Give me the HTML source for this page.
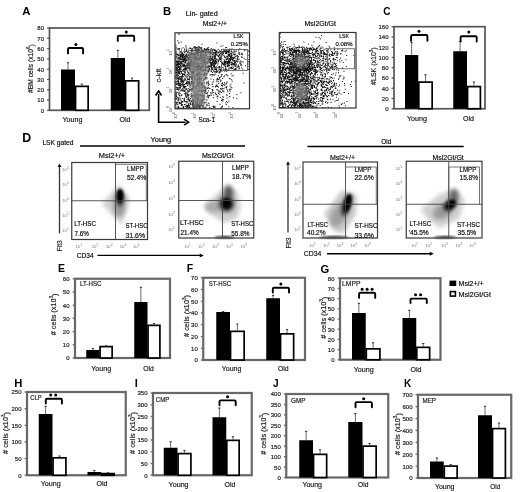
<!DOCTYPE html>
<html><head><meta charset="utf-8"><style>
html,body{margin:0;padding:0;background:#fff;overflow:hidden;}
svg{display:block;filter:grayscale(1);}
text{font-family:"Liberation Sans", sans-serif;}
</style></head><body>
<svg width="520" height="492" viewBox="0 0 520 492" font-family='"Liberation Sans", sans-serif'>
<rect width="520" height="492" fill="#fff"/>
<defs><filter id="bl1" x="-50%" y="-50%" width="200%" height="200%"><feGaussianBlur stdDeviation="1"/></filter><filter id="bl15" x="-50%" y="-50%" width="200%" height="200%"><feGaussianBlur stdDeviation="1.5"/></filter><filter id="bl2" x="-50%" y="-50%" width="200%" height="200%"><feGaussianBlur stdDeviation="2"/></filter><filter id="bl3" x="-50%" y="-50%" width="200%" height="200%"><feGaussianBlur stdDeviation="3"/></filter></defs><rect x="49.5" y="28" width="99.75" height="82.3" fill="none" stroke="#555" stroke-width="1.7"/>
<line x1="47.1" y1="110.3" x2="49.5" y2="110.3" stroke="#555" stroke-width="1.3"/>
<text x="44" y="112.76" font-size="6" text-anchor="end" fill="#1a1a1a" textLength="3.34" lengthAdjust="spacingAndGlyphs" stroke="#1a1a1a" stroke-width="0.18">0</text>
<line x1="47.1" y1="100.01" x2="49.5" y2="100.01" stroke="#555" stroke-width="1.3"/>
<text x="44" y="102.47" font-size="6" text-anchor="end" fill="#1a1a1a" textLength="6.67" lengthAdjust="spacingAndGlyphs" stroke="#1a1a1a" stroke-width="0.18">10</text>
<line x1="47.1" y1="89.72" x2="49.5" y2="89.72" stroke="#555" stroke-width="1.3"/>
<text x="44" y="92.18" font-size="6" text-anchor="end" fill="#1a1a1a" textLength="6.67" lengthAdjust="spacingAndGlyphs" stroke="#1a1a1a" stroke-width="0.18">20</text>
<line x1="47.1" y1="79.44" x2="49.5" y2="79.44" stroke="#555" stroke-width="1.3"/>
<text x="44" y="81.9" font-size="6" text-anchor="end" fill="#1a1a1a" textLength="6.67" lengthAdjust="spacingAndGlyphs" stroke="#1a1a1a" stroke-width="0.18">30</text>
<line x1="47.1" y1="69.15" x2="49.5" y2="69.15" stroke="#555" stroke-width="1.3"/>
<text x="44" y="71.61" font-size="6" text-anchor="end" fill="#1a1a1a" textLength="6.67" lengthAdjust="spacingAndGlyphs" stroke="#1a1a1a" stroke-width="0.18">40</text>
<line x1="47.1" y1="58.86" x2="49.5" y2="58.86" stroke="#555" stroke-width="1.3"/>
<text x="44" y="61.32" font-size="6" text-anchor="end" fill="#1a1a1a" textLength="6.67" lengthAdjust="spacingAndGlyphs" stroke="#1a1a1a" stroke-width="0.18">50</text>
<line x1="47.1" y1="48.57" x2="49.5" y2="48.57" stroke="#555" stroke-width="1.3"/>
<text x="44" y="51.03" font-size="6" text-anchor="end" fill="#1a1a1a" textLength="6.67" lengthAdjust="spacingAndGlyphs" stroke="#1a1a1a" stroke-width="0.18">60</text>
<line x1="47.1" y1="38.29" x2="49.5" y2="38.29" stroke="#555" stroke-width="1.3"/>
<text x="44" y="40.75" font-size="6" text-anchor="end" fill="#1a1a1a" textLength="6.67" lengthAdjust="spacingAndGlyphs" stroke="#1a1a1a" stroke-width="0.18">70</text>
<line x1="47.1" y1="28" x2="49.5" y2="28" stroke="#555" stroke-width="1.3"/>
<text x="44" y="30.46" font-size="6" text-anchor="end" fill="#1a1a1a" textLength="6.67" lengthAdjust="spacingAndGlyphs" stroke="#1a1a1a" stroke-width="0.18">80</text>
<line x1="68" y1="69.5" x2="68" y2="62.5" stroke="#444" stroke-width="0.8"/>
<line x1="66.9" y1="62.8" x2="69.1" y2="62.8" stroke="#333" stroke-width="1"/>
<rect x="61" y="69.5" width="14" height="40.8" fill="#000"/>
<line x1="81.85" y1="85.5" x2="81.85" y2="83.8" stroke="#444" stroke-width="0.8"/>
<line x1="80.75" y1="84.1" x2="82.95" y2="84.1" stroke="#333" stroke-width="1"/>
<rect x="75.55" y="86.35" width="12.6" height="23.95" fill="#fff" stroke="#000" stroke-width="1.7"/>
<line x1="117.88" y1="58" x2="117.88" y2="50" stroke="#444" stroke-width="0.8"/>
<line x1="116.78" y1="50.3" x2="118.97" y2="50.3" stroke="#333" stroke-width="1"/>
<rect x="110.75" y="58" width="14.25" height="52.3" fill="#000"/>
<line x1="132.1" y1="80" x2="132.1" y2="77.8" stroke="#444" stroke-width="0.8"/>
<line x1="131" y1="78.1" x2="133.2" y2="78.1" stroke="#333" stroke-width="1"/>
<rect x="125.55" y="80.85" width="13.1" height="29.45" fill="#fff" stroke="#000" stroke-width="1.7"/>
<path d="M68 53.4V49.2Q68 48 69.2 48H81.9Q83.1 48 83.1 49.2V53.4" fill="none" stroke="#000" stroke-width="1.9" stroke-linecap="round"/>
<circle cx="75.9" cy="44.4" r="1.5" fill="#000"/>
<path d="M117.8 40.9V37Q117.8 35.8 119 35.8H133Q134.2 35.8 134.2 37V40.9" fill="none" stroke="#000" stroke-width="1.9" stroke-linecap="round"/>
<circle cx="126.3" cy="32" r="1.5" fill="#000"/>
<text x="72.5" y="122" font-size="6.9" text-anchor="middle" fill="#1a1a1a" textLength="20" lengthAdjust="spacingAndGlyphs" stroke="#1a1a1a" stroke-width="0.18">Young</text>
<text x="125" y="122" font-size="6.9" text-anchor="middle" fill="#1a1a1a" textLength="11" lengthAdjust="spacingAndGlyphs" stroke="#1a1a1a" stroke-width="0.18">Old</text>
<text transform="translate(30.6 68.6) rotate(-90)" x="0" y="0" font-size="6.7" text-anchor="middle" fill="#1a1a1a" stroke="#1a1a1a" stroke-width="0.18" dominant-baseline="central">#BM cells (x10<tspan font-size="4.6" dy="-2.4">6</tspan><tspan dy="2.4">)</tspan></text>
<rect x="394" y="26.7" width="91" height="82.05" fill="none" stroke="#555" stroke-width="1.7"/>
<line x1="391.6" y1="108.75" x2="394" y2="108.75" stroke="#555" stroke-width="1.3"/>
<text x="388.5" y="111.21" font-size="6" text-anchor="end" fill="#1a1a1a" textLength="3.34" lengthAdjust="spacingAndGlyphs" stroke="#1a1a1a" stroke-width="0.18">0</text>
<line x1="391.6" y1="98.49" x2="394" y2="98.49" stroke="#555" stroke-width="1.3"/>
<text x="388.5" y="100.95" font-size="6" text-anchor="end" fill="#1a1a1a" textLength="6.67" lengthAdjust="spacingAndGlyphs" stroke="#1a1a1a" stroke-width="0.18">20</text>
<line x1="391.6" y1="88.24" x2="394" y2="88.24" stroke="#555" stroke-width="1.3"/>
<text x="388.5" y="90.7" font-size="6" text-anchor="end" fill="#1a1a1a" textLength="6.67" lengthAdjust="spacingAndGlyphs" stroke="#1a1a1a" stroke-width="0.18">40</text>
<line x1="391.6" y1="77.98" x2="394" y2="77.98" stroke="#555" stroke-width="1.3"/>
<text x="388.5" y="80.44" font-size="6" text-anchor="end" fill="#1a1a1a" textLength="6.67" lengthAdjust="spacingAndGlyphs" stroke="#1a1a1a" stroke-width="0.18">60</text>
<line x1="391.6" y1="67.72" x2="394" y2="67.72" stroke="#555" stroke-width="1.3"/>
<text x="388.5" y="70.18" font-size="6" text-anchor="end" fill="#1a1a1a" textLength="6.67" lengthAdjust="spacingAndGlyphs" stroke="#1a1a1a" stroke-width="0.18">80</text>
<line x1="391.6" y1="57.47" x2="394" y2="57.47" stroke="#555" stroke-width="1.3"/>
<text x="388.5" y="59.93" font-size="6" text-anchor="end" fill="#1a1a1a" textLength="10.01" lengthAdjust="spacingAndGlyphs" stroke="#1a1a1a" stroke-width="0.18">100</text>
<line x1="391.6" y1="47.21" x2="394" y2="47.21" stroke="#555" stroke-width="1.3"/>
<text x="388.5" y="49.67" font-size="6" text-anchor="end" fill="#1a1a1a" textLength="10.01" lengthAdjust="spacingAndGlyphs" stroke="#1a1a1a" stroke-width="0.18">120</text>
<line x1="391.6" y1="36.96" x2="394" y2="36.96" stroke="#555" stroke-width="1.3"/>
<text x="388.5" y="39.42" font-size="6" text-anchor="end" fill="#1a1a1a" textLength="10.01" lengthAdjust="spacingAndGlyphs" stroke="#1a1a1a" stroke-width="0.18">140</text>
<line x1="391.6" y1="26.7" x2="394" y2="26.7" stroke="#555" stroke-width="1.3"/>
<text x="388.5" y="29.16" font-size="6" text-anchor="end" fill="#1a1a1a" textLength="10.01" lengthAdjust="spacingAndGlyphs" stroke="#1a1a1a" stroke-width="0.18">160</text>
<line x1="411.62" y1="55" x2="411.62" y2="42" stroke="#444" stroke-width="0.8"/>
<line x1="410.52" y1="42.3" x2="412.73" y2="42.3" stroke="#333" stroke-width="1"/>
<rect x="405" y="55" width="13.25" height="53.75" fill="#000"/>
<line x1="425.48" y1="81.25" x2="425.48" y2="74.5" stroke="#444" stroke-width="0.8"/>
<line x1="424.38" y1="74.8" x2="426.58" y2="74.8" stroke="#333" stroke-width="1"/>
<rect x="418.8" y="82.1" width="13.35" height="26.65" fill="#fff" stroke="#000" stroke-width="1.7"/>
<line x1="460.12" y1="51.25" x2="460.12" y2="41.25" stroke="#444" stroke-width="0.8"/>
<line x1="459.02" y1="41.55" x2="461.23" y2="41.55" stroke="#333" stroke-width="1"/>
<rect x="453.25" y="51.25" width="13.75" height="57.5" fill="#000"/>
<line x1="473.98" y1="85.75" x2="473.98" y2="81.75" stroke="#444" stroke-width="0.8"/>
<line x1="472.88" y1="82.05" x2="475.08" y2="82.05" stroke="#333" stroke-width="1"/>
<rect x="467.55" y="86.6" width="12.85" height="22.15" fill="#fff" stroke="#000" stroke-width="1.7"/>
<path d="M411.1 40.75V36.2Q411.1 35 412.3 35H426.2Q427.4 35 427.4 36.2V40.75" fill="none" stroke="#000" stroke-width="1.9" stroke-linecap="round"/>
<circle cx="419" cy="31.2" r="1.5" fill="#000"/>
<path d="M460.6 41.5V37.4Q460.6 36.2 461.8 36.2H475.5Q476.7 36.2 476.7 37.4V41.5" fill="none" stroke="#000" stroke-width="1.9" stroke-linecap="round"/>
<circle cx="468.8" cy="32" r="1.5" fill="#000"/>
<text x="416.9" y="120.5" font-size="6.9" text-anchor="middle" fill="#1a1a1a" textLength="20" lengthAdjust="spacingAndGlyphs" stroke="#1a1a1a" stroke-width="0.18">Young</text>
<text x="468.4" y="120.5" font-size="6.9" text-anchor="middle" fill="#1a1a1a" textLength="11" lengthAdjust="spacingAndGlyphs" stroke="#1a1a1a" stroke-width="0.18">Old</text>
<text transform="translate(373.2 66.1) rotate(-90)" x="0" y="0" font-size="7" text-anchor="middle" fill="#1a1a1a" stroke="#1a1a1a" stroke-width="0.18" dominant-baseline="central">#LSK (x10<tspan font-size="4.6" dy="-2.4">3</tspan><tspan dy="2.4">)</tspan></text>
<rect x="75" y="278.75" width="95" height="79.25" fill="none" stroke="#686868" stroke-width="2.2"/>
<line x1="72.6" y1="358" x2="75" y2="358" stroke="#686868" stroke-width="1.3"/>
<text x="69.5" y="360.46" font-size="6" text-anchor="end" fill="#1a1a1a" textLength="3.34" lengthAdjust="spacingAndGlyphs" stroke="#1a1a1a" stroke-width="0.18">0</text>
<line x1="72.6" y1="344.79" x2="75" y2="344.79" stroke="#686868" stroke-width="1.3"/>
<text x="69.5" y="347.25" font-size="6" text-anchor="end" fill="#1a1a1a" textLength="6.67" lengthAdjust="spacingAndGlyphs" stroke="#1a1a1a" stroke-width="0.18">10</text>
<line x1="72.6" y1="331.58" x2="75" y2="331.58" stroke="#686868" stroke-width="1.3"/>
<text x="69.5" y="334.04" font-size="6" text-anchor="end" fill="#1a1a1a" textLength="6.67" lengthAdjust="spacingAndGlyphs" stroke="#1a1a1a" stroke-width="0.18">20</text>
<line x1="72.6" y1="318.38" x2="75" y2="318.38" stroke="#686868" stroke-width="1.3"/>
<text x="69.5" y="320.83" font-size="6" text-anchor="end" fill="#1a1a1a" textLength="6.67" lengthAdjust="spacingAndGlyphs" stroke="#1a1a1a" stroke-width="0.18">30</text>
<line x1="72.6" y1="305.17" x2="75" y2="305.17" stroke="#686868" stroke-width="1.3"/>
<text x="69.5" y="307.63" font-size="6" text-anchor="end" fill="#1a1a1a" textLength="6.67" lengthAdjust="spacingAndGlyphs" stroke="#1a1a1a" stroke-width="0.18">40</text>
<line x1="72.6" y1="291.96" x2="75" y2="291.96" stroke="#686868" stroke-width="1.3"/>
<text x="69.5" y="294.42" font-size="6" text-anchor="end" fill="#1a1a1a" textLength="6.67" lengthAdjust="spacingAndGlyphs" stroke="#1a1a1a" stroke-width="0.18">50</text>
<line x1="72.6" y1="278.75" x2="75" y2="278.75" stroke="#686868" stroke-width="1.3"/>
<text x="69.5" y="281.21" font-size="6" text-anchor="end" fill="#1a1a1a" textLength="6.67" lengthAdjust="spacingAndGlyphs" stroke="#1a1a1a" stroke-width="0.18">60</text>
<line x1="92.88" y1="350" x2="92.88" y2="348.25" stroke="#444" stroke-width="0.8"/>
<line x1="91.78" y1="348.55" x2="93.97" y2="348.55" stroke="#333" stroke-width="1"/>
<rect x="86.25" y="350" width="13.25" height="8" fill="#000"/>
<line x1="106.1" y1="345.75" x2="106.1" y2="345.5" stroke="#444" stroke-width="0.8"/>
<line x1="105" y1="345.8" x2="107.2" y2="345.8" stroke="#333" stroke-width="1"/>
<rect x="100.05" y="346.6" width="12.1" height="11.4" fill="#fff" stroke="#000" stroke-width="1.7"/>
<line x1="140.88" y1="302" x2="140.88" y2="287" stroke="#444" stroke-width="0.8"/>
<line x1="139.78" y1="287.3" x2="141.97" y2="287.3" stroke="#333" stroke-width="1"/>
<rect x="134.25" y="302" width="13.25" height="56" fill="#000"/>
<line x1="153.97" y1="324.5" x2="153.97" y2="323.25" stroke="#444" stroke-width="0.8"/>
<line x1="152.88" y1="323.55" x2="155.07" y2="323.55" stroke="#333" stroke-width="1"/>
<rect x="148.05" y="325.35" width="11.85" height="32.65" fill="#fff" stroke="#000" stroke-width="1.7"/>
<text x="101.25" y="371.2" font-size="6.9" text-anchor="middle" fill="#1a1a1a" textLength="20" lengthAdjust="spacingAndGlyphs" stroke="#1a1a1a" stroke-width="0.18">Young</text>
<text x="148.5" y="371.2" font-size="6.9" text-anchor="middle" fill="#1a1a1a" textLength="10.5" lengthAdjust="spacingAndGlyphs" stroke="#1a1a1a" stroke-width="0.18">Old</text>
<text transform="translate(53.75 314.4) rotate(-90)" x="0" y="0" font-size="7.3" text-anchor="middle" fill="#1a1a1a" stroke="#1a1a1a" stroke-width="0.18" dominant-baseline="central"># cells (x10<tspan font-size="4.6" dy="-2.4">3</tspan><tspan dy="2.4">)</tspan></text>
<text x="80" y="285.6" font-size="6.98" fill="#1a1a1a" textLength="21.5" lengthAdjust="spacingAndGlyphs" stroke="#1a1a1a" stroke-width="0.18">LT-HSC</text>
<rect x="203.25" y="277.75" width="101.75" height="82.25" fill="none" stroke="#686868" stroke-width="2.2"/>
<line x1="200.85" y1="360" x2="203.25" y2="360" stroke="#686868" stroke-width="1.3"/>
<text x="197.75" y="362.46" font-size="6" text-anchor="end" fill="#1a1a1a" textLength="3.34" lengthAdjust="spacingAndGlyphs" stroke="#1a1a1a" stroke-width="0.18">0</text>
<line x1="200.85" y1="348.25" x2="203.25" y2="348.25" stroke="#686868" stroke-width="1.3"/>
<text x="197.75" y="350.71" font-size="6" text-anchor="end" fill="#1a1a1a" textLength="6.67" lengthAdjust="spacingAndGlyphs" stroke="#1a1a1a" stroke-width="0.18">10</text>
<line x1="200.85" y1="336.5" x2="203.25" y2="336.5" stroke="#686868" stroke-width="1.3"/>
<text x="197.75" y="338.96" font-size="6" text-anchor="end" fill="#1a1a1a" textLength="6.67" lengthAdjust="spacingAndGlyphs" stroke="#1a1a1a" stroke-width="0.18">20</text>
<line x1="200.85" y1="324.75" x2="203.25" y2="324.75" stroke="#686868" stroke-width="1.3"/>
<text x="197.75" y="327.21" font-size="6" text-anchor="end" fill="#1a1a1a" textLength="6.67" lengthAdjust="spacingAndGlyphs" stroke="#1a1a1a" stroke-width="0.18">30</text>
<line x1="200.85" y1="313" x2="203.25" y2="313" stroke="#686868" stroke-width="1.3"/>
<text x="197.75" y="315.46" font-size="6" text-anchor="end" fill="#1a1a1a" textLength="6.67" lengthAdjust="spacingAndGlyphs" stroke="#1a1a1a" stroke-width="0.18">40</text>
<line x1="200.85" y1="301.25" x2="203.25" y2="301.25" stroke="#686868" stroke-width="1.3"/>
<text x="197.75" y="303.71" font-size="6" text-anchor="end" fill="#1a1a1a" textLength="6.67" lengthAdjust="spacingAndGlyphs" stroke="#1a1a1a" stroke-width="0.18">50</text>
<line x1="200.85" y1="289.5" x2="203.25" y2="289.5" stroke="#686868" stroke-width="1.3"/>
<text x="197.75" y="291.96" font-size="6" text-anchor="end" fill="#1a1a1a" textLength="6.67" lengthAdjust="spacingAndGlyphs" stroke="#1a1a1a" stroke-width="0.18">60</text>
<line x1="200.85" y1="277.75" x2="203.25" y2="277.75" stroke="#686868" stroke-width="1.3"/>
<text x="197.75" y="280.21" font-size="6" text-anchor="end" fill="#1a1a1a" textLength="6.67" lengthAdjust="spacingAndGlyphs" stroke="#1a1a1a" stroke-width="0.18">70</text>
<line x1="223.12" y1="312" x2="223.12" y2="311.3" stroke="#444" stroke-width="0.8"/>
<line x1="222.03" y1="311.6" x2="224.22" y2="311.6" stroke="#333" stroke-width="1"/>
<rect x="216.25" y="312" width="13.75" height="48" fill="#000"/>
<line x1="237.35" y1="330.5" x2="237.35" y2="323.75" stroke="#444" stroke-width="0.8"/>
<line x1="236.25" y1="324.05" x2="238.45" y2="324.05" stroke="#333" stroke-width="1"/>
<rect x="230.55" y="331.35" width="13.6" height="28.65" fill="#fff" stroke="#000" stroke-width="1.7"/>
<line x1="273.12" y1="298.25" x2="273.12" y2="295" stroke="#444" stroke-width="0.8"/>
<line x1="272.02" y1="295.3" x2="274.23" y2="295.3" stroke="#333" stroke-width="1"/>
<rect x="266.25" y="298.25" width="13.75" height="61.75" fill="#000"/>
<line x1="287.1" y1="333" x2="287.1" y2="329.25" stroke="#444" stroke-width="0.8"/>
<line x1="286" y1="329.55" x2="288.2" y2="329.55" stroke="#333" stroke-width="1"/>
<rect x="280.55" y="333.85" width="13.1" height="26.15" fill="#fff" stroke="#000" stroke-width="1.7"/>
<path d="M272.8 292.6V289Q272.8 287.8 274 287.8H287.8Q289 287.8 289 289V292.6" fill="none" stroke="#000" stroke-width="1.9" stroke-linecap="round"/>
<circle cx="280.9" cy="284.1" r="1.5" fill="#000"/>
<text x="231.6" y="371.4" font-size="6.9" text-anchor="middle" fill="#1a1a1a" textLength="19.5" lengthAdjust="spacingAndGlyphs" stroke="#1a1a1a" stroke-width="0.18">Young</text>
<text x="283.3" y="371.4" font-size="6.9" text-anchor="middle" fill="#1a1a1a" textLength="10.6" lengthAdjust="spacingAndGlyphs" stroke="#1a1a1a" stroke-width="0.18">Old</text>
<text transform="translate(186.25 316) rotate(-90)" x="0" y="0" font-size="7.3" text-anchor="middle" fill="#1a1a1a" stroke="#1a1a1a" stroke-width="0.18" dominant-baseline="central"># cells (x10<tspan font-size="4.6" dy="-2.4">3</tspan><tspan dy="2.4">)</tspan></text>
<text x="208.8" y="285.6" font-size="7.26" fill="#1a1a1a" textLength="22.3" lengthAdjust="spacingAndGlyphs" stroke="#1a1a1a" stroke-width="0.18">ST-HSC</text>
<rect x="340" y="278.25" width="100.5" height="81.5" fill="none" stroke="#686868" stroke-width="2.2"/>
<line x1="337.6" y1="359.75" x2="340" y2="359.75" stroke="#686868" stroke-width="1.3"/>
<text x="334.5" y="362.21" font-size="6" text-anchor="end" fill="#1a1a1a" textLength="3.34" lengthAdjust="spacingAndGlyphs" stroke="#1a1a1a" stroke-width="0.18">0</text>
<line x1="337.6" y1="349.56" x2="340" y2="349.56" stroke="#686868" stroke-width="1.3"/>
<text x="334.5" y="352.02" font-size="6" text-anchor="end" fill="#1a1a1a" textLength="6.67" lengthAdjust="spacingAndGlyphs" stroke="#1a1a1a" stroke-width="0.18">10</text>
<line x1="337.6" y1="339.38" x2="340" y2="339.38" stroke="#686868" stroke-width="1.3"/>
<text x="334.5" y="341.83" font-size="6" text-anchor="end" fill="#1a1a1a" textLength="6.67" lengthAdjust="spacingAndGlyphs" stroke="#1a1a1a" stroke-width="0.18">20</text>
<line x1="337.6" y1="329.19" x2="340" y2="329.19" stroke="#686868" stroke-width="1.3"/>
<text x="334.5" y="331.65" font-size="6" text-anchor="end" fill="#1a1a1a" textLength="6.67" lengthAdjust="spacingAndGlyphs" stroke="#1a1a1a" stroke-width="0.18">30</text>
<line x1="337.6" y1="319" x2="340" y2="319" stroke="#686868" stroke-width="1.3"/>
<text x="334.5" y="321.46" font-size="6" text-anchor="end" fill="#1a1a1a" textLength="6.67" lengthAdjust="spacingAndGlyphs" stroke="#1a1a1a" stroke-width="0.18">40</text>
<line x1="337.6" y1="308.81" x2="340" y2="308.81" stroke="#686868" stroke-width="1.3"/>
<text x="334.5" y="311.27" font-size="6" text-anchor="end" fill="#1a1a1a" textLength="6.67" lengthAdjust="spacingAndGlyphs" stroke="#1a1a1a" stroke-width="0.18">50</text>
<line x1="337.6" y1="298.62" x2="340" y2="298.62" stroke="#686868" stroke-width="1.3"/>
<text x="334.5" y="301.08" font-size="6" text-anchor="end" fill="#1a1a1a" textLength="6.67" lengthAdjust="spacingAndGlyphs" stroke="#1a1a1a" stroke-width="0.18">60</text>
<line x1="337.6" y1="288.44" x2="340" y2="288.44" stroke="#686868" stroke-width="1.3"/>
<text x="334.5" y="290.9" font-size="6" text-anchor="end" fill="#1a1a1a" textLength="6.67" lengthAdjust="spacingAndGlyphs" stroke="#1a1a1a" stroke-width="0.18">70</text>
<line x1="337.6" y1="278.25" x2="340" y2="278.25" stroke="#686868" stroke-width="1.3"/>
<text x="334.5" y="280.71" font-size="6" text-anchor="end" fill="#1a1a1a" textLength="6.67" lengthAdjust="spacingAndGlyphs" stroke="#1a1a1a" stroke-width="0.18">80</text>
<line x1="358.88" y1="313" x2="358.88" y2="303" stroke="#444" stroke-width="0.8"/>
<line x1="357.77" y1="303.3" x2="359.98" y2="303.3" stroke="#333" stroke-width="1"/>
<rect x="352" y="313" width="13.75" height="46.75" fill="#000"/>
<line x1="373.1" y1="348" x2="373.1" y2="342.5" stroke="#444" stroke-width="0.8"/>
<line x1="372" y1="342.8" x2="374.2" y2="342.8" stroke="#333" stroke-width="1"/>
<rect x="366.3" y="348.85" width="13.6" height="10.9" fill="#fff" stroke="#000" stroke-width="1.7"/>
<line x1="409.38" y1="318" x2="409.38" y2="310" stroke="#444" stroke-width="0.8"/>
<line x1="408.27" y1="310.3" x2="410.48" y2="310.3" stroke="#333" stroke-width="1"/>
<rect x="402.5" y="318" width="13.75" height="41.75" fill="#000"/>
<line x1="423.23" y1="346.5" x2="423.23" y2="343.25" stroke="#444" stroke-width="0.8"/>
<line x1="422.12" y1="343.55" x2="424.33" y2="343.55" stroke="#333" stroke-width="1"/>
<rect x="416.8" y="347.35" width="12.85" height="12.4" fill="#fff" stroke="#000" stroke-width="1.7"/>
<path d="M359.1 297.9V294Q359.1 292.8 360.3 292.8H374Q375.2 292.8 375.2 294V297.9" fill="none" stroke="#000" stroke-width="1.9" stroke-linecap="round"/>
<circle cx="362.1" cy="289.2" r="1.5" fill="#000"/>
<circle cx="367.1" cy="289.2" r="1.5" fill="#000"/>
<circle cx="372.1" cy="289.2" r="1.5" fill="#000"/>
<path d="M410.5 303V299.8Q410.5 298.6 411.7 298.6H425.6Q426.8 298.6 426.8 299.8V303" fill="none" stroke="#000" stroke-width="1.9" stroke-linecap="round"/>
<circle cx="415.55" cy="294.7" r="1.5" fill="#000"/>
<circle cx="420.55" cy="294.7" r="1.5" fill="#000"/>
<text x="363.75" y="372.2" font-size="6.9" text-anchor="middle" fill="#1a1a1a" textLength="20" lengthAdjust="spacingAndGlyphs" stroke="#1a1a1a" stroke-width="0.18">Young</text>
<text x="415.9" y="372.2" font-size="6.9" text-anchor="middle" fill="#1a1a1a" textLength="11" lengthAdjust="spacingAndGlyphs" stroke="#1a1a1a" stroke-width="0.18">Old</text>
<text transform="translate(323.75 317.7) rotate(-90)" x="0" y="0" font-size="7.3" text-anchor="middle" fill="#1a1a1a" stroke="#1a1a1a" stroke-width="0.18" dominant-baseline="central"># cells (x10<tspan font-size="4.6" dy="-2.4">3</tspan><tspan dy="2.4">)</tspan></text>
<text x="342.1" y="286.2" font-size="7.26" fill="#1a1a1a" textLength="18.5" lengthAdjust="spacingAndGlyphs" stroke="#1a1a1a" stroke-width="0.18">LMPP</text>
<rect x="27" y="392" width="98.75" height="83.25" fill="none" stroke="#686868" stroke-width="2.2"/>
<line x1="24.6" y1="475.25" x2="27" y2="475.25" stroke="#686868" stroke-width="1.3"/>
<text x="21.5" y="477.71" font-size="6" text-anchor="end" fill="#1a1a1a" textLength="3.34" lengthAdjust="spacingAndGlyphs" stroke="#1a1a1a" stroke-width="0.18">0</text>
<line x1="24.6" y1="458.6" x2="27" y2="458.6" stroke="#686868" stroke-width="1.3"/>
<text x="21.5" y="461.06" font-size="6" text-anchor="end" fill="#1a1a1a" textLength="6.67" lengthAdjust="spacingAndGlyphs" stroke="#1a1a1a" stroke-width="0.18">50</text>
<line x1="24.6" y1="441.95" x2="27" y2="441.95" stroke="#686868" stroke-width="1.3"/>
<text x="21.5" y="444.41" font-size="6" text-anchor="end" fill="#1a1a1a" textLength="10.01" lengthAdjust="spacingAndGlyphs" stroke="#1a1a1a" stroke-width="0.18">100</text>
<line x1="24.6" y1="425.3" x2="27" y2="425.3" stroke="#686868" stroke-width="1.3"/>
<text x="21.5" y="427.76" font-size="6" text-anchor="end" fill="#1a1a1a" textLength="10.01" lengthAdjust="spacingAndGlyphs" stroke="#1a1a1a" stroke-width="0.18">150</text>
<line x1="24.6" y1="408.65" x2="27" y2="408.65" stroke="#686868" stroke-width="1.3"/>
<text x="21.5" y="411.11" font-size="6" text-anchor="end" fill="#1a1a1a" textLength="10.01" lengthAdjust="spacingAndGlyphs" stroke="#1a1a1a" stroke-width="0.18">200</text>
<line x1="24.6" y1="392" x2="27" y2="392" stroke="#686868" stroke-width="1.3"/>
<text x="21.5" y="394.46" font-size="6" text-anchor="end" fill="#1a1a1a" textLength="10.01" lengthAdjust="spacingAndGlyphs" stroke="#1a1a1a" stroke-width="0.18">250</text>
<line x1="45.62" y1="414" x2="45.62" y2="406" stroke="#444" stroke-width="0.8"/>
<line x1="44.52" y1="406.3" x2="46.73" y2="406.3" stroke="#333" stroke-width="1"/>
<rect x="38.75" y="414" width="13.75" height="61.25" fill="#000"/>
<line x1="59.48" y1="457" x2="59.48" y2="455.75" stroke="#444" stroke-width="0.8"/>
<line x1="58.38" y1="456.05" x2="60.58" y2="456.05" stroke="#333" stroke-width="1"/>
<rect x="53.05" y="457.85" width="12.85" height="17.4" fill="#fff" stroke="#000" stroke-width="1.7"/>
<line x1="94.38" y1="472" x2="94.38" y2="470.25" stroke="#444" stroke-width="0.8"/>
<line x1="93.28" y1="470.55" x2="95.47" y2="470.55" stroke="#333" stroke-width="1"/>
<rect x="87.5" y="472" width="13.75" height="3.25" fill="#000"/>
<line x1="107.97" y1="472.75" x2="107.97" y2="472.5" stroke="#444" stroke-width="0.8"/>
<line x1="106.88" y1="472.8" x2="109.07" y2="472.8" stroke="#333" stroke-width="1"/>
<rect x="101.8" y="473.6" width="12.35" height="1.65" fill="#fff" stroke="#000" stroke-width="1.7"/>
<path d="M45.8 403.6V400Q45.8 398.8 47 398.8H60.7Q61.9 398.8 61.9 400V403.6" fill="none" stroke="#000" stroke-width="1.9" stroke-linecap="round"/>
<circle cx="50.7" cy="395" r="1.5" fill="#000"/>
<circle cx="55.7" cy="395" r="1.5" fill="#000"/>
<text x="50.75" y="485.7" font-size="6.9" text-anchor="middle" fill="#1a1a1a" textLength="20" lengthAdjust="spacingAndGlyphs" stroke="#1a1a1a" stroke-width="0.18">Young</text>
<text x="101.9" y="485.7" font-size="6.9" text-anchor="middle" fill="#1a1a1a" textLength="11" lengthAdjust="spacingAndGlyphs" stroke="#1a1a1a" stroke-width="0.18">Old</text>
<text transform="translate(5.6 433) rotate(-90)" x="0" y="0" font-size="7.3" text-anchor="middle" fill="#1a1a1a" stroke="#1a1a1a" stroke-width="0.18" dominant-baseline="central"># cells (x10<tspan font-size="4.6" dy="-2.4">3</tspan><tspan dy="2.4">)</tspan></text>
<text x="30.3" y="399.5" font-size="6.98" fill="#1a1a1a" textLength="11.3" lengthAdjust="spacingAndGlyphs" stroke="#1a1a1a" stroke-width="0.18">CLP</text>
<rect x="153" y="393" width="98.75" height="82.25" fill="none" stroke="#686868" stroke-width="2.2"/>
<line x1="150.6" y1="475.25" x2="153" y2="475.25" stroke="#686868" stroke-width="1.3"/>
<text x="147.5" y="477.71" font-size="6" text-anchor="end" fill="#1a1a1a" textLength="3.34" lengthAdjust="spacingAndGlyphs" stroke="#1a1a1a" stroke-width="0.18">0</text>
<line x1="150.6" y1="463.5" x2="153" y2="463.5" stroke="#686868" stroke-width="1.3"/>
<text x="147.5" y="465.96" font-size="6" text-anchor="end" fill="#1a1a1a" textLength="6.67" lengthAdjust="spacingAndGlyphs" stroke="#1a1a1a" stroke-width="0.18">50</text>
<line x1="150.6" y1="451.75" x2="153" y2="451.75" stroke="#686868" stroke-width="1.3"/>
<text x="147.5" y="454.21" font-size="6" text-anchor="end" fill="#1a1a1a" textLength="10.01" lengthAdjust="spacingAndGlyphs" stroke="#1a1a1a" stroke-width="0.18">100</text>
<line x1="150.6" y1="440" x2="153" y2="440" stroke="#686868" stroke-width="1.3"/>
<text x="147.5" y="442.46" font-size="6" text-anchor="end" fill="#1a1a1a" textLength="10.01" lengthAdjust="spacingAndGlyphs" stroke="#1a1a1a" stroke-width="0.18">150</text>
<line x1="150.6" y1="428.25" x2="153" y2="428.25" stroke="#686868" stroke-width="1.3"/>
<text x="147.5" y="430.71" font-size="6" text-anchor="end" fill="#1a1a1a" textLength="10.01" lengthAdjust="spacingAndGlyphs" stroke="#1a1a1a" stroke-width="0.18">200</text>
<line x1="150.6" y1="416.5" x2="153" y2="416.5" stroke="#686868" stroke-width="1.3"/>
<text x="147.5" y="418.96" font-size="6" text-anchor="end" fill="#1a1a1a" textLength="10.01" lengthAdjust="spacingAndGlyphs" stroke="#1a1a1a" stroke-width="0.18">250</text>
<line x1="150.6" y1="404.75" x2="153" y2="404.75" stroke="#686868" stroke-width="1.3"/>
<text x="147.5" y="407.21" font-size="6" text-anchor="end" fill="#1a1a1a" textLength="10.01" lengthAdjust="spacingAndGlyphs" stroke="#1a1a1a" stroke-width="0.18">300</text>
<line x1="150.6" y1="393" x2="153" y2="393" stroke="#686868" stroke-width="1.3"/>
<text x="147.5" y="395.46" font-size="6" text-anchor="end" fill="#1a1a1a" textLength="10.01" lengthAdjust="spacingAndGlyphs" stroke="#1a1a1a" stroke-width="0.18">350</text>
<line x1="170.62" y1="447.75" x2="170.62" y2="441.5" stroke="#444" stroke-width="0.8"/>
<line x1="169.53" y1="441.8" x2="171.72" y2="441.8" stroke="#333" stroke-width="1"/>
<rect x="163.75" y="447.75" width="13.75" height="27.5" fill="#000"/>
<line x1="184.47" y1="452.75" x2="184.47" y2="450.25" stroke="#444" stroke-width="0.8"/>
<line x1="183.38" y1="450.55" x2="185.57" y2="450.55" stroke="#333" stroke-width="1"/>
<rect x="178.05" y="453.6" width="12.85" height="21.65" fill="#fff" stroke="#000" stroke-width="1.7"/>
<line x1="219.38" y1="417.25" x2="219.38" y2="407.75" stroke="#444" stroke-width="0.8"/>
<line x1="218.28" y1="408.05" x2="220.47" y2="408.05" stroke="#333" stroke-width="1"/>
<rect x="212.5" y="417.25" width="13.75" height="58" fill="#000"/>
<line x1="232.97" y1="439.5" x2="232.97" y2="436.5" stroke="#444" stroke-width="0.8"/>
<line x1="231.88" y1="436.8" x2="234.07" y2="436.8" stroke="#333" stroke-width="1"/>
<rect x="226.8" y="440.35" width="12.35" height="34.9" fill="#fff" stroke="#000" stroke-width="1.7"/>
<path d="M219.5 405.3V401.6Q219.5 400.4 220.7 400.4H234.5Q235.7 400.4 235.7 401.6V405.3" fill="none" stroke="#000" stroke-width="1.9" stroke-linecap="round"/>
<circle cx="227.6" cy="396.8" r="1.5" fill="#000"/>
<text x="178.6" y="487.1" font-size="6.9" text-anchor="middle" fill="#1a1a1a" textLength="20" lengthAdjust="spacingAndGlyphs" stroke="#1a1a1a" stroke-width="0.18">Young</text>
<text x="230" y="487.1" font-size="6.9" text-anchor="middle" fill="#1a1a1a" textLength="10.8" lengthAdjust="spacingAndGlyphs" stroke="#1a1a1a" stroke-width="0.18">Old</text>
<text transform="translate(132.6 433) rotate(-90)" x="0" y="0" font-size="7.3" text-anchor="middle" fill="#1a1a1a" stroke="#1a1a1a" stroke-width="0.18" dominant-baseline="central"># cells (x10<tspan font-size="4.6" dy="-2.4">3</tspan><tspan dy="2.4">)</tspan></text>
<text x="155.75" y="401.5" font-size="7.26" fill="#1a1a1a" textLength="13.55" lengthAdjust="spacingAndGlyphs" stroke="#1a1a1a" stroke-width="0.18">CMP</text>
<rect x="286.25" y="394" width="102" height="83.5" fill="none" stroke="#686868" stroke-width="2.2"/>
<line x1="283.85" y1="477.5" x2="286.25" y2="477.5" stroke="#686868" stroke-width="1.3"/>
<text x="280.75" y="479.96" font-size="6" text-anchor="end" fill="#1a1a1a" textLength="3.34" lengthAdjust="spacingAndGlyphs" stroke="#1a1a1a" stroke-width="0.18">0</text>
<line x1="283.85" y1="467.06" x2="286.25" y2="467.06" stroke="#686868" stroke-width="1.3"/>
<text x="280.75" y="469.52" font-size="6" text-anchor="end" fill="#1a1a1a" textLength="6.67" lengthAdjust="spacingAndGlyphs" stroke="#1a1a1a" stroke-width="0.18">50</text>
<line x1="283.85" y1="456.62" x2="286.25" y2="456.62" stroke="#686868" stroke-width="1.3"/>
<text x="280.75" y="459.08" font-size="6" text-anchor="end" fill="#1a1a1a" textLength="10.01" lengthAdjust="spacingAndGlyphs" stroke="#1a1a1a" stroke-width="0.18">100</text>
<line x1="283.85" y1="446.19" x2="286.25" y2="446.19" stroke="#686868" stroke-width="1.3"/>
<text x="280.75" y="448.65" font-size="6" text-anchor="end" fill="#1a1a1a" textLength="10.01" lengthAdjust="spacingAndGlyphs" stroke="#1a1a1a" stroke-width="0.18">150</text>
<line x1="283.85" y1="435.75" x2="286.25" y2="435.75" stroke="#686868" stroke-width="1.3"/>
<text x="280.75" y="438.21" font-size="6" text-anchor="end" fill="#1a1a1a" textLength="10.01" lengthAdjust="spacingAndGlyphs" stroke="#1a1a1a" stroke-width="0.18">200</text>
<line x1="283.85" y1="425.31" x2="286.25" y2="425.31" stroke="#686868" stroke-width="1.3"/>
<text x="280.75" y="427.77" font-size="6" text-anchor="end" fill="#1a1a1a" textLength="10.01" lengthAdjust="spacingAndGlyphs" stroke="#1a1a1a" stroke-width="0.18">250</text>
<line x1="283.85" y1="414.88" x2="286.25" y2="414.88" stroke="#686868" stroke-width="1.3"/>
<text x="280.75" y="417.33" font-size="6" text-anchor="end" fill="#1a1a1a" textLength="10.01" lengthAdjust="spacingAndGlyphs" stroke="#1a1a1a" stroke-width="0.18">300</text>
<line x1="283.85" y1="404.44" x2="286.25" y2="404.44" stroke="#686868" stroke-width="1.3"/>
<text x="280.75" y="406.9" font-size="6" text-anchor="end" fill="#1a1a1a" textLength="10.01" lengthAdjust="spacingAndGlyphs" stroke="#1a1a1a" stroke-width="0.18">350</text>
<line x1="283.85" y1="394" x2="286.25" y2="394" stroke="#686868" stroke-width="1.3"/>
<text x="280.75" y="396.46" font-size="6" text-anchor="end" fill="#1a1a1a" textLength="10.01" lengthAdjust="spacingAndGlyphs" stroke="#1a1a1a" stroke-width="0.18">400</text>
<line x1="306.12" y1="440.25" x2="306.12" y2="431" stroke="#444" stroke-width="0.8"/>
<line x1="305.02" y1="431.3" x2="307.23" y2="431.3" stroke="#333" stroke-width="1"/>
<rect x="299.25" y="440.25" width="13.75" height="37.25" fill="#000"/>
<line x1="320.1" y1="453.5" x2="320.1" y2="449.5" stroke="#444" stroke-width="0.8"/>
<line x1="319" y1="449.8" x2="321.2" y2="449.8" stroke="#333" stroke-width="1"/>
<rect x="313.55" y="454.35" width="13.1" height="23.15" fill="#fff" stroke="#000" stroke-width="1.7"/>
<line x1="355.38" y1="422" x2="355.38" y2="413.25" stroke="#444" stroke-width="0.8"/>
<line x1="354.27" y1="413.55" x2="356.48" y2="413.55" stroke="#333" stroke-width="1"/>
<rect x="348.25" y="422" width="14.25" height="55.5" fill="#000"/>
<line x1="369.6" y1="445.25" x2="369.6" y2="443.25" stroke="#444" stroke-width="0.8"/>
<line x1="368.5" y1="443.55" x2="370.7" y2="443.55" stroke="#333" stroke-width="1"/>
<rect x="363.05" y="446.1" width="13.1" height="31.4" fill="#fff" stroke="#000" stroke-width="1.7"/>
<path d="M355.5 407.3V403.3Q355.5 402.1 356.7 402.1H370.7Q371.9 402.1 371.9 403.3V407.3" fill="none" stroke="#000" stroke-width="1.9" stroke-linecap="round"/>
<circle cx="363.7" cy="398.7" r="1.5" fill="#000"/>
<text x="312.2" y="487.1" font-size="6.9" text-anchor="middle" fill="#1a1a1a" textLength="19.5" lengthAdjust="spacingAndGlyphs" stroke="#1a1a1a" stroke-width="0.18">Young</text>
<text x="363.3" y="487.1" font-size="6.9" text-anchor="middle" fill="#1a1a1a" textLength="10.4" lengthAdjust="spacingAndGlyphs" stroke="#1a1a1a" stroke-width="0.18">Old</text>
<text transform="translate(263.75 433.7) rotate(-90)" x="0" y="0" font-size="7.3" text-anchor="middle" fill="#1a1a1a" stroke="#1a1a1a" stroke-width="0.18" dominant-baseline="central"># cells (x10<tspan font-size="4.6" dy="-2.4">3</tspan><tspan dy="2.4">)</tspan></text>
<text x="291.1" y="402.5" font-size="7.26" fill="#1a1a1a" textLength="14.4" lengthAdjust="spacingAndGlyphs" stroke="#1a1a1a" stroke-width="0.18">GMP</text>
<rect x="418" y="394.75" width="93.25" height="83.25" fill="none" stroke="#686868" stroke-width="2.2"/>
<line x1="415.6" y1="478" x2="418" y2="478" stroke="#686868" stroke-width="1.3"/>
<text x="412.5" y="480.46" font-size="6" text-anchor="end" fill="#1a1a1a" textLength="3.34" lengthAdjust="spacingAndGlyphs" stroke="#1a1a1a" stroke-width="0.18">0</text>
<line x1="415.6" y1="466.11" x2="418" y2="466.11" stroke="#686868" stroke-width="1.3"/>
<text x="412.5" y="468.57" font-size="6" text-anchor="end" fill="#1a1a1a" textLength="10.01" lengthAdjust="spacingAndGlyphs" stroke="#1a1a1a" stroke-width="0.18">100</text>
<line x1="415.6" y1="454.21" x2="418" y2="454.21" stroke="#686868" stroke-width="1.3"/>
<text x="412.5" y="456.67" font-size="6" text-anchor="end" fill="#1a1a1a" textLength="10.01" lengthAdjust="spacingAndGlyphs" stroke="#1a1a1a" stroke-width="0.18">200</text>
<line x1="415.6" y1="442.32" x2="418" y2="442.32" stroke="#686868" stroke-width="1.3"/>
<text x="412.5" y="444.78" font-size="6" text-anchor="end" fill="#1a1a1a" textLength="10.01" lengthAdjust="spacingAndGlyphs" stroke="#1a1a1a" stroke-width="0.18">300</text>
<line x1="415.6" y1="430.43" x2="418" y2="430.43" stroke="#686868" stroke-width="1.3"/>
<text x="412.5" y="432.89" font-size="6" text-anchor="end" fill="#1a1a1a" textLength="10.01" lengthAdjust="spacingAndGlyphs" stroke="#1a1a1a" stroke-width="0.18">400</text>
<line x1="415.6" y1="418.54" x2="418" y2="418.54" stroke="#686868" stroke-width="1.3"/>
<text x="412.5" y="421" font-size="6" text-anchor="end" fill="#1a1a1a" textLength="10.01" lengthAdjust="spacingAndGlyphs" stroke="#1a1a1a" stroke-width="0.18">500</text>
<line x1="415.6" y1="406.64" x2="418" y2="406.64" stroke="#686868" stroke-width="1.3"/>
<text x="412.5" y="409.1" font-size="6" text-anchor="end" fill="#1a1a1a" textLength="10.01" lengthAdjust="spacingAndGlyphs" stroke="#1a1a1a" stroke-width="0.18">600</text>
<line x1="415.6" y1="394.75" x2="418" y2="394.75" stroke="#686868" stroke-width="1.3"/>
<text x="412.5" y="397.21" font-size="6" text-anchor="end" fill="#1a1a1a" textLength="10.01" lengthAdjust="spacingAndGlyphs" stroke="#1a1a1a" stroke-width="0.18">700</text>
<line x1="436.88" y1="461.5" x2="436.88" y2="457.75" stroke="#444" stroke-width="0.8"/>
<line x1="435.77" y1="458.05" x2="437.98" y2="458.05" stroke="#333" stroke-width="1"/>
<rect x="430" y="461.5" width="13.75" height="16.5" fill="#000"/>
<line x1="450.73" y1="465.25" x2="450.73" y2="464.25" stroke="#444" stroke-width="0.8"/>
<line x1="449.62" y1="464.55" x2="451.83" y2="464.55" stroke="#333" stroke-width="1"/>
<rect x="444.3" y="466.1" width="12.85" height="11.9" fill="#fff" stroke="#000" stroke-width="1.7"/>
<line x1="485" y1="415.25" x2="485" y2="406" stroke="#444" stroke-width="0.8"/>
<line x1="483.9" y1="406.3" x2="486.1" y2="406.3" stroke="#333" stroke-width="1"/>
<rect x="478" y="415.25" width="14" height="62.75" fill="#000"/>
<line x1="498.98" y1="427.75" x2="498.98" y2="422.75" stroke="#444" stroke-width="0.8"/>
<line x1="497.88" y1="423.05" x2="500.08" y2="423.05" stroke="#333" stroke-width="1"/>
<rect x="492.55" y="428.6" width="12.85" height="49.4" fill="#fff" stroke="#000" stroke-width="1.7"/>
<text x="444.7" y="488.6" font-size="6.9" text-anchor="middle" fill="#1a1a1a" textLength="19.6" lengthAdjust="spacingAndGlyphs" stroke="#1a1a1a" stroke-width="0.18">Young</text>
<text x="495.3" y="488.6" font-size="6.9" text-anchor="middle" fill="#1a1a1a" textLength="10" lengthAdjust="spacingAndGlyphs" stroke="#1a1a1a" stroke-width="0.18">Old</text>
<text transform="translate(397.7 434.1) rotate(-90)" x="0" y="0" font-size="7.3" text-anchor="middle" fill="#1a1a1a" stroke="#1a1a1a" stroke-width="0.18" dominant-baseline="central"># cells (x10<tspan font-size="4.6" dy="-2.4">3</tspan><tspan dy="2.4">)</tspan></text>
<text x="422.5" y="402.8" font-size="6.84" fill="#1a1a1a" textLength="13.5" lengthAdjust="spacingAndGlyphs" stroke="#1a1a1a" stroke-width="0.18">MEP</text>
<text x="22.32" y="14.8" font-size="11.36" font-weight="bold" fill="#000">A</text>
<text x="163.08" y="14.7" font-size="11.21" font-weight="bold" fill="#000">B</text>
<text x="383.14" y="15.2" font-size="10.09" font-weight="bold" fill="#000">C</text>
<text x="22.26" y="142.2" font-size="12.33" font-weight="bold" fill="#000">D</text>
<text x="58.12" y="272.2" font-size="10.46" font-weight="bold" fill="#000">E</text>
<text x="186.87" y="272.2" font-size="10.46" font-weight="bold" fill="#000">F</text>
<text x="320.58" y="272.7" font-size="11.21" font-weight="bold" fill="#000">G</text>
<text x="14.33" y="387.2" font-size="11.21" font-weight="bold" fill="#000">H</text>
<text x="134.83" y="387.2" font-size="11.21" font-weight="bold" fill="#000">I</text>
<text x="272.89" y="387.2" font-size="10.09" font-weight="bold" fill="#000">J</text>
<text x="403.89" y="387.2" font-size="10.09" font-weight="bold" fill="#000">K</text>
<rect x="449.5" y="280.6" width="6.75" height="5.4" fill="#000"/>
<rect x="450.35" y="291.6" width="5.05" height="4.5" fill="#fff" stroke="#000" stroke-width="1.6"/>
<text x="458.5" y="286" font-size="6.98" textLength="25.1" lengthAdjust="spacingAndGlyphs" stroke="#222" stroke-width="0.18">Msi2+/+</text>
<text x="458.5" y="296.5" font-size="7.26" textLength="32.4" lengthAdjust="spacingAndGlyphs" stroke="#222" stroke-width="0.18">Msi2Gt/Gt</text>
<path d="M206.2 56.0h1v1h-1zM213.3 64.6h1v1h-1zM206.0 69.5h1v1h-1zM181.7 52.3h1v1h-1zM214.6 59.9h1v1h-1zM207.7 58.3h1v1h-1zM193.1 64.8h1v1h-1zM209.7 62.0h1v1h-1zM206.5 54.4h1v1h-1zM205.5 66.3h1v1h-1zM201.5 62.2h1v1h-1zM209.2 53.7h1v1h-1zM190.1 64.2h1v1h-1zM198.6 56.5h1v1h-1zM193.9 71.1h1v1h-1zM210.0 63.5h1v1h-1zM201.7 54.8h1v1h-1zM196.7 66.1h1v1h-1zM189.4 58.5h1v1h-1zM197.2 61.9h1v1h-1zM201.2 59.9h1v1h-1zM197.0 62.3h1v1h-1zM220.4 45.8h1v1h-1zM216.1 60.8h1v1h-1zM175.4 69.1h1v1h-1zM175.4 53.2h1v1h-1zM198.5 46.0h1v1h-1zM194.8 58.2h1v1h-1zM204.3 54.6h1v1h-1zM204.3 54.9h1v1h-1zM232.6 60.7h1v1h-1zM184.5 59.9h1v1h-1zM195.4 62.5h1v1h-1zM231.5 48.3h1v1h-1zM210.7 59.8h1v1h-1zM211.0 65.2h1v1h-1zM193.4 47.3h1v1h-1zM176.5 71.5h1v1h-1zM203.6 63.7h1v1h-1zM202.7 59.6h1v1h-1zM182.8 58.9h1v1h-1zM190.9 50.0h1v1h-1zM200.0 51.0h1v1h-1zM187.0 65.5h1v1h-1zM199.6 74.2h1v1h-1zM202.5 67.8h1v1h-1zM201.6 43.8h1v1h-1zM193.5 46.6h1v1h-1zM209.9 60.3h1v1h-1zM214.4 61.2h1v1h-1zM205.9 58.3h1v1h-1zM188.9 67.7h1v1h-1zM212.0 67.8h1v1h-1zM193.6 70.5h1v1h-1zM214.2 55.4h1v1h-1zM185.1 60.4h1v1h-1zM214.7 73.4h1v1h-1zM200.8 65.3h1v1h-1zM182.5 47.2h1v1h-1zM196.4 67.1h1v1h-1zM201.9 60.8h1v1h-1zM205.1 52.3h1v1h-1zM186.4 55.1h1v1h-1zM184.6 60.5h1v1h-1zM204.0 61.1h1v1h-1zM194.1 59.2h1v1h-1zM204.6 66.6h1v1h-1zM212.4 62.0h1v1h-1zM176.5 70.1h1v1h-1zM204.9 68.3h1v1h-1zM219.3 49.7h1v1h-1zM196.6 48.4h1v1h-1zM189.0 66.4h1v1h-1zM212.3 63.0h1v1h-1zM204.9 70.0h1v1h-1zM214.4 55.8h1v1h-1zM195.9 52.3h1v1h-1zM179.0 49.6h1v1h-1zM199.4 65.8h1v1h-1zM194.4 48.6h1v1h-1zM212.6 62.8h1v1h-1zM204.0 60.0h1v1h-1zM176.8 64.2h1v1h-1zM183.3 69.3h1v1h-1zM214.2 54.8h1v1h-1zM211.2 62.5h1v1h-1zM191.5 68.1h1v1h-1zM201.1 53.8h1v1h-1zM207.7 49.3h1v1h-1zM208.1 50.6h1v1h-1zM214.1 68.7h1v1h-1zM204.9 68.2h1v1h-1zM199.7 47.3h1v1h-1zM197.2 48.9h1v1h-1zM216.8 58.8h1v1h-1zM175.4 55.3h1v1h-1zM199.0 55.7h1v1h-1zM201.6 50.8h1v1h-1zM179.8 54.4h1v1h-1zM206.0 58.3h1v1h-1zM191.4 72.3h1v1h-1zM213.9 61.8h1v1h-1zM199.2 70.9h1v1h-1zM211.0 67.6h1v1h-1zM219.2 70.8h1v1h-1zM206.8 62.6h1v1h-1zM188.0 62.5h1v1h-1zM178.5 60.7h1v1h-1zM227.2 50.9h1v1h-1zM199.4 71.7h1v1h-1zM190.8 50.0h1v1h-1zM203.2 63.2h1v1h-1zM198.2 65.0h1v1h-1zM213.8 66.2h1v1h-1zM201.6 62.8h1v1h-1zM201.3 64.3h1v1h-1zM190.4 68.3h1v1h-1zM208.1 61.7h1v1h-1zM185.7 64.8h1v1h-1zM211.0 65.4h1v1h-1zM223.8 49.4h1v1h-1zM178.4 56.6h1v1h-1zM175.4 45.4h1v1h-1zM210.3 52.3h1v1h-1zM239.0 48.5h1v1h-1zM186.2 67.9h1v1h-1zM182.4 56.6h1v1h-1zM209.9 60.5h1v1h-1zM188.5 64.3h1v1h-1zM193.5 63.8h1v1h-1zM195.9 69.0h1v1h-1zM209.0 58.2h1v1h-1zM195.0 63.8h1v1h-1zM205.2 67.1h1v1h-1zM198.4 49.2h1v1h-1zM188.5 58.1h1v1h-1zM196.3 50.5h1v1h-1zM186.9 64.6h1v1h-1zM201.2 53.6h1v1h-1zM184.3 68.2h1v1h-1zM184.8 55.9h1v1h-1zM222.8 54.7h1v1h-1zM200.3 67.3h1v1h-1zM200.3 58.0h1v1h-1zM208.7 50.9h1v1h-1zM194.8 56.0h1v1h-1zM197.7 53.9h1v1h-1zM207.4 49.7h1v1h-1zM205.3 50.8h1v1h-1zM183.8 55.9h1v1h-1zM213.5 56.0h1v1h-1zM192.3 59.4h1v1h-1zM185.3 55.3h1v1h-1zM187.7 55.0h1v1h-1zM195.3 60.8h1v1h-1zM225.3 53.1h1v1h-1zM183.6 64.3h1v1h-1zM203.5 64.0h1v1h-1zM175.4 48.1h1v1h-1zM201.1 50.9h1v1h-1zM214.5 50.0h1v1h-1zM197.5 55.1h1v1h-1zM191.7 55.2h1v1h-1zM204.5 62.0h1v1h-1zM211.5 64.6h1v1h-1zM211.0 68.7h1v1h-1zM230.5 62.4h1v1h-1zM204.2 60.3h1v1h-1zM192.2 69.4h1v1h-1zM199.2 65.8h1v1h-1zM200.0 57.2h1v1h-1zM202.7 55.7h1v1h-1zM200.6 48.2h1v1h-1zM203.7 68.6h1v1h-1zM176.2 63.5h1v1h-1zM213.4 59.5h1v1h-1zM192.5 64.7h1v1h-1zM183.6 66.0h1v1h-1zM210.6 58.6h1v1h-1zM220.7 69.3h1v1h-1zM208.4 65.4h1v1h-1zM203.5 55.8h1v1h-1zM187.2 59.6h1v1h-1zM243.9 50.1h1v1h-1zM214.2 52.0h1v1h-1zM184.1 57.4h1v1h-1zM189.5 54.0h1v1h-1zM202.4 51.0h1v1h-1zM177.9 62.5h1v1h-1zM203.6 69.0h1v1h-1zM194.2 65.0h1v1h-1zM219.3 66.3h1v1h-1zM215.4 71.0h1v1h-1zM175.4 61.7h1v1h-1zM201.7 59.8h1v1h-1zM177.0 54.2h1v1h-1zM217.6 60.0h1v1h-1zM203.6 53.9h1v1h-1zM209.2 51.5h1v1h-1zM185.2 57.1h1v1h-1zM228.3 65.3h1v1h-1zM231.2 58.2h1v1h-1zM185.2 65.7h1v1h-1zM206.6 56.1h1v1h-1zM191.0 48.8h1v1h-1zM200.7 50.9h1v1h-1zM182.2 56.6h1v1h-1zM228.9 62.4h1v1h-1zM186.6 57.2h1v1h-1zM196.7 63.6h1v1h-1zM208.5 52.8h1v1h-1zM191.4 59.9h1v1h-1zM197.5 46.5h1v1h-1zM192.7 64.7h1v1h-1zM199.1 68.5h1v1h-1zM183.6 64.9h1v1h-1zM194.5 63.0h1v1h-1zM198.0 52.2h1v1h-1zM196.1 70.1h1v1h-1zM201.9 62.9h1v1h-1zM196.7 52.3h1v1h-1zM212.3 49.1h1v1h-1zM196.3 47.0h1v1h-1zM199.0 62.4h1v1h-1zM191.2 61.2h1v1h-1zM193.2 63.8h1v1h-1zM182.2 62.8h1v1h-1zM208.8 61.9h1v1h-1zM184.1 51.9h1v1h-1zM190.0 62.8h1v1h-1zM206.4 48.7h1v1h-1zM207.1 61.0h1v1h-1zM195.1 48.8h1v1h-1zM175.4 52.6h1v1h-1zM207.3 67.6h1v1h-1zM204.9 71.3h1v1h-1zM180.0 65.0h1v1h-1zM212.6 51.7h1v1h-1zM190.6 59.1h1v1h-1zM184.3 58.4h1v1h-1zM202.5 50.3h1v1h-1zM198.4 51.4h1v1h-1zM204.1 48.1h1v1h-1zM177.1 68.6h1v1h-1zM228.1 51.1h1v1h-1zM192.1 54.4h1v1h-1zM178.1 54.4h1v1h-1zM210.3 65.0h1v1h-1zM195.8 60.1h1v1h-1zM205.9 67.0h1v1h-1zM196.0 50.0h1v1h-1zM200.2 55.9h1v1h-1zM204.7 61.3h1v1h-1zM189.9 60.5h1v1h-1zM211.2 67.6h1v1h-1zM194.1 50.0h1v1h-1zM188.1 57.0h1v1h-1zM202.2 59.7h1v1h-1zM207.7 58.9h1v1h-1zM197.7 56.4h1v1h-1zM188.2 62.9h1v1h-1zM210.3 50.1h1v1h-1zM175.4 48.1h1v1h-1zM185.7 53.7h1v1h-1zM201.7 49.6h1v1h-1zM180.8 56.1h1v1h-1zM201.5 61.9h1v1h-1zM200.3 51.4h1v1h-1zM214.5 55.6h1v1h-1zM187.4 62.6h1v1h-1zM191.7 56.6h1v1h-1zM206.0 49.2h1v1h-1zM175.4 67.0h1v1h-1zM247.3 63.2h1v1h-1zM190.7 54.3h1v1h-1zM190.2 57.3h1v1h-1zM213.9 66.6h1v1h-1zM200.5 61.0h1v1h-1zM175.4 51.8h1v1h-1zM210.4 61.9h1v1h-1zM213.8 58.0h1v1h-1zM194.4 72.2h1v1h-1zM196.9 70.3h1v1h-1zM208.3 57.4h1v1h-1zM187.5 56.7h1v1h-1zM207.6 57.6h1v1h-1zM204.0 72.2h1v1h-1zM191.0 52.5h1v1h-1zM180.3 58.9h1v1h-1zM197.7 60.3h1v1h-1zM188.0 63.2h1v1h-1zM216.0 51.6h1v1h-1zM203.2 64.0h1v1h-1zM212.7 61.3h1v1h-1zM203.1 54.3h1v1h-1zM205.0 69.4h1v1h-1zM189.4 53.0h1v1h-1zM211.0 64.6h1v1h-1zM227.7 54.1h1v1h-1zM196.5 67.1h1v1h-1zM192.2 58.7h1v1h-1zM198.7 58.3h1v1h-1zM193.9 53.0h1v1h-1zM190.6 59.4h1v1h-1zM203.1 64.6h1v1h-1zM196.7 52.7h1v1h-1zM222.5 63.3h1v1h-1zM201.1 48.6h1v1h-1zM205.9 55.2h1v1h-1zM215.3 67.6h1v1h-1zM196.6 51.0h1v1h-1zM222.5 64.3h1v1h-1zM191.6 47.9h1v1h-1zM189.0 58.2h1v1h-1zM195.6 62.9h1v1h-1zM199.4 52.8h1v1h-1zM180.2 67.2h1v1h-1zM200.6 54.3h1v1h-1zM176.2 61.2h1v1h-1zM221.8 54.1h1v1h-1zM199.9 67.4h1v1h-1zM191.5 55.9h1v1h-1zM187.5 54.6h1v1h-1zM195.3 48.2h1v1h-1zM197.8 67.7h1v1h-1zM185.5 46.5h1v1h-1zM187.4 52.3h1v1h-1zM198.3 65.3h1v1h-1zM193.3 55.6h1v1h-1zM215.1 60.6h1v1h-1zM218.0 59.4h1v1h-1zM201.3 70.0h1v1h-1zM208.1 51.8h1v1h-1zM181.2 50.4h1v1h-1zM210.6 50.0h1v1h-1zM200.6 60.7h1v1h-1zM208.3 65.1h1v1h-1zM224.9 69.1h1v1h-1zM175.4 69.3h1v1h-1zM205.0 58.6h1v1h-1zM184.7 69.1h1v1h-1zM209.9 57.1h1v1h-1zM181.5 55.8h1v1h-1zM193.7 54.7h1v1h-1zM204.1 67.4h1v1h-1zM210.2 53.3h1v1h-1zM202.2 63.1h1v1h-1zM189.3 64.3h1v1h-1zM192.8 72.1h1v1h-1zM214.3 55.8h1v1h-1zM201.0 56.6h1v1h-1zM176.0 65.1h1v1h-1zM213.6 54.8h1v1h-1zM207.3 66.2h1v1h-1zM214.1 63.4h1v1h-1zM196.1 51.5h1v1h-1zM213.4 71.1h1v1h-1zM185.3 60.8h1v1h-1zM209.6 58.1h1v1h-1zM193.8 65.2h1v1h-1zM211.1 70.4h1v1h-1zM216.1 54.3h1v1h-1zM190.1 48.1h1v1h-1zM200.3 67.6h1v1h-1zM201.7 64.1h1v1h-1zM218.8 58.1h1v1h-1zM211.7 64.2h1v1h-1zM182.9 69.0h1v1h-1zM207.9 69.7h1v1h-1zM212.2 61.3h1v1h-1zM232.7 70.3h1v1h-1zM176.1 67.4h1v1h-1zM193.1 65.3h1v1h-1zM220.9 51.7h1v1h-1zM180.9 59.3h1v1h-1zM183.2 60.8h1v1h-1zM208.8 68.2h1v1h-1zM216.2 62.1h1v1h-1zM191.1 63.7h1v1h-1zM209.1 66.3h1v1h-1zM202.8 50.7h1v1h-1zM223.7 51.2h1v1h-1zM201.1 51.9h1v1h-1zM215.8 51.0h1v1h-1zM187.6 54.9h1v1h-1zM198.3 50.5h1v1h-1zM199.6 58.0h1v1h-1zM218.0 61.1h1v1h-1zM209.7 59.4h1v1h-1zM189.9 49.9h1v1h-1zM211.2 59.5h1v1h-1zM212.6 53.0h1v1h-1zM199.4 47.1h1v1h-1zM197.2 66.0h1v1h-1zM198.2 72.2h1v1h-1zM175.8 47.3h1v1h-1zM203.9 63.1h1v1h-1zM204.6 49.1h1v1h-1zM188.2 61.3h1v1h-1zM212.1 61.4h1v1h-1zM180.6 62.8h1v1h-1zM192.9 68.7h1v1h-1zM194.0 59.7h1v1h-1zM230.7 52.9h1v1h-1zM177.2 67.2h1v1h-1zM209.5 55.7h1v1h-1zM215.1 60.5h1v1h-1zM206.7 56.7h1v1h-1zM218.7 65.9h1v1h-1zM186.1 49.9h1v1h-1zM175.4 57.4h1v1h-1zM212.5 57.1h1v1h-1zM183.3 61.4h1v1h-1zM196.2 66.1h1v1h-1zM183.5 54.5h1v1h-1zM216.8 52.4h1v1h-1zM214.0 63.4h1v1h-1zM190.3 52.0h1v1h-1zM214.5 63.7h1v1h-1zM202.9 57.8h1v1h-1zM199.0 62.1h1v1h-1zM201.9 63.1h1v1h-1zM198.1 64.3h1v1h-1zM210.2 55.7h1v1h-1zM205.7 48.8h1v1h-1zM195.9 50.5h1v1h-1zM216.1 62.5h1v1h-1zM192.0 49.5h1v1h-1zM205.4 49.4h1v1h-1zM207.4 58.4h1v1h-1zM223.1 53.0h1v1h-1zM193.5 65.1h1v1h-1zM227.0 51.6h1v1h-1zM203.7 56.0h1v1h-1zM198.2 64.6h1v1h-1zM191.1 64.9h1v1h-1zM209.8 52.5h1v1h-1zM201.8 61.9h1v1h-1zM184.6 70.4h1v1h-1zM184.3 67.6h1v1h-1zM192.8 70.2h1v1h-1zM191.0 53.8h1v1h-1zM217.3 71.4h1v1h-1zM221.6 52.6h1v1h-1zM214.0 56.7h1v1h-1zM206.4 51.8h1v1h-1zM194.7 61.8h1v1h-1zM201.9 67.1h1v1h-1zM214.3 65.8h1v1h-1zM214.7 71.4h1v1h-1zM196.9 55.3h1v1h-1zM201.6 63.4h1v1h-1zM193.9 67.1h1v1h-1zM189.4 66.3h1v1h-1zM198.3 59.0h1v1h-1zM204.0 57.7h1v1h-1zM228.4 51.1h1v1h-1zM201.9 57.2h1v1h-1zM221.3 67.0h1v1h-1zM227.4 61.3h1v1h-1zM202.2 62.1h1v1h-1zM225.0 66.2h1v1h-1zM211.7 54.6h1v1h-1zM194.9 69.8h1v1h-1zM205.0 60.1h1v1h-1zM201.4 53.0h1v1h-1zM197.6 62.3h1v1h-1zM198.1 48.2h1v1h-1zM203.2 70.9h1v1h-1zM207.5 58.5h1v1h-1zM187.9 50.7h1v1h-1zM200.9 46.9h1v1h-1zM178.4 58.6h1v1h-1zM205.0 52.1h1v1h-1zM210.4 49.0h1v1h-1zM203.5 59.2h1v1h-1zM205.3 59.6h1v1h-1zM209.9 65.5h1v1h-1zM191.2 51.1h1v1h-1zM197.5 67.1h1v1h-1zM208.7 59.1h1v1h-1zM216.0 68.3h1v1h-1zM207.0 50.8h1v1h-1zM239.1 52.3h1v1h-1zM199.7 58.9h1v1h-1zM216.0 53.8h1v1h-1zM219.9 57.4h1v1h-1zM199.1 67.5h1v1h-1zM188.8 65.4h1v1h-1zM183.5 50.9h1v1h-1zM203.5 52.1h1v1h-1zM217.6 55.3h1v1h-1zM205.1 51.5h1v1h-1zM203.7 59.1h1v1h-1zM195.4 49.9h1v1h-1zM209.4 52.4h1v1h-1zM175.4 49.4h1v1h-1zM204.5 55.6h1v1h-1zM201.5 65.8h1v1h-1zM180.7 53.9h1v1h-1zM233.5 69.3h1v1h-1zM180.4 52.4h1v1h-1zM185.0 68.7h1v1h-1zM183.2 65.9h1v1h-1zM217.6 62.8h1v1h-1zM187.8 65.2h1v1h-1zM211.0 62.6h1v1h-1zM209.8 70.4h1v1h-1zM204.9 63.1h1v1h-1zM181.6 57.5h1v1h-1zM192.0 54.2h1v1h-1zM226.0 51.7h1v1h-1zM181.8 59.2h1v1h-1zM188.7 52.0h1v1h-1zM198.7 52.0h1v1h-1zM213.1 69.8h1v1h-1zM204.8 62.3h1v1h-1zM212.1 61.0h1v1h-1zM185.2 67.9h1v1h-1zM215.2 59.8h1v1h-1zM209.6 57.8h1v1h-1zM177.3 64.7h1v1h-1zM224.0 60.9h1v1h-1zM235.2 53.4h1v1h-1zM189.6 58.9h1v1h-1zM201.9 58.8h1v1h-1zM221.9 52.4h1v1h-1zM179.0 67.4h1v1h-1zM175.4 52.8h1v1h-1zM181.8 65.3h1v1h-1zM192.6 70.4h1v1h-1zM192.5 63.8h1v1h-1zM210.1 51.2h1v1h-1zM205.1 66.2h1v1h-1zM182.5 56.7h1v1h-1zM209.5 61.7h1v1h-1zM229.0 55.2h1v1h-1zM218.9 54.0h1v1h-1zM215.8 69.0h1v1h-1zM201.4 50.0h1v1h-1zM215.7 50.6h1v1h-1zM186.7 68.1h1v1h-1zM212.3 63.3h1v1h-1zM199.8 56.3h1v1h-1zM217.9 55.3h1v1h-1zM208.0 60.1h1v1h-1zM184.8 60.2h1v1h-1zM203.0 64.0h1v1h-1zM219.2 58.5h1v1h-1zM184.2 68.3h1v1h-1zM192.7 54.4h1v1h-1zM189.6 63.2h1v1h-1zM178.8 52.6h1v1h-1zM215.4 54.6h1v1h-1zM220.6 55.6h1v1h-1zM213.0 66.1h1v1h-1zM204.7 63.4h1v1h-1zM200.3 56.1h1v1h-1zM204.6 61.4h1v1h-1zM190.2 57.9h1v1h-1zM214.4 57.6h1v1h-1zM216.7 54.4h1v1h-1zM215.0 54.6h1v1h-1zM193.2 58.3h1v1h-1zM202.2 49.9h1v1h-1zM198.6 46.8h1v1h-1zM227.7 63.2h1v1h-1zM203.8 50.0h1v1h-1zM175.4 69.1h1v1h-1zM207.0 47.5h1v1h-1zM229.1 54.9h1v1h-1zM211.3 64.8h1v1h-1zM214.2 49.4h1v1h-1zM201.6 56.2h1v1h-1zM175.4 56.6h1v1h-1zM175.4 54.5h1v1h-1zM182.5 53.5h1v1h-1zM199.2 66.8h1v1h-1zM205.7 52.2h1v1h-1zM211.3 51.7h1v1h-1zM196.0 71.6h1v1h-1zM215.3 50.3h1v1h-1zM196.9 63.2h1v1h-1zM190.6 63.4h1v1h-1zM213.8 65.2h1v1h-1zM187.4 66.7h1v1h-1zM175.4 51.3h1v1h-1zM185.3 45.2h1v1h-1zM202.5 60.6h1v1h-1zM175.4 57.2h1v1h-1zM195.8 55.8h1v1h-1zM196.1 62.7h1v1h-1zM179.8 51.2h1v1h-1zM179.0 58.4h1v1h-1zM194.2 58.0h1v1h-1zM192.9 50.0h1v1h-1zM219.8 68.9h1v1h-1zM206.7 55.1h1v1h-1zM177.5 59.7h1v1h-1zM188.3 49.6h1v1h-1zM211.6 55.9h1v1h-1zM229.3 57.9h1v1h-1zM206.8 61.1h1v1h-1zM205.7 50.0h1v1h-1zM228.8 55.5h1v1h-1zM200.7 61.0h1v1h-1zM196.5 71.5h1v1h-1zM180.0 61.2h1v1h-1zM193.4 61.4h1v1h-1zM233.5 53.6h1v1h-1zM179.9 59.1h1v1h-1zM201.2 69.1h1v1h-1zM180.1 57.7h1v1h-1zM203.0 68.7h1v1h-1zM214.3 61.9h1v1h-1zM197.4 68.8h1v1h-1zM212.0 61.2h1v1h-1zM211.8 67.3h1v1h-1zM207.7 67.3h1v1h-1zM226.6 58.6h1v1h-1zM212.7 54.0h1v1h-1zM196.5 70.8h1v1h-1zM190.9 55.8h1v1h-1zM188.5 65.1h1v1h-1zM208.2 50.2h1v1h-1zM196.3 61.9h1v1h-1zM241.7 57.1h1v1h-1zM228.5 53.3h1v1h-1zM197.9 53.6h1v1h-1zM196.2 70.0h1v1h-1zM226.3 62.3h1v1h-1zM175.4 56.0h1v1h-1zM194.3 61.4h1v1h-1zM215.2 67.0h1v1h-1zM187.5 62.9h1v1h-1zM194.0 52.8h1v1h-1zM195.8 50.3h1v1h-1zM210.9 66.5h1v1h-1zM203.1 61.0h1v1h-1zM207.1 63.0h1v1h-1zM209.9 52.9h1v1h-1zM201.5 52.5h1v1h-1zM217.6 48.8h1v1h-1zM190.2 56.4h1v1h-1zM179.7 61.5h1v1h-1zM175.4 57.8h1v1h-1zM176.9 62.2h1v1h-1zM192.9 58.8h1v1h-1zM216.4 61.6h1v1h-1zM203.7 72.7h1v1h-1zM192.2 49.4h1v1h-1zM185.1 60.0h1v1h-1zM193.2 64.9h1v1h-1zM195.1 53.3h1v1h-1zM192.7 68.6h1v1h-1zM179.7 54.4h1v1h-1zM194.0 66.1h1v1h-1zM216.2 50.5h1v1h-1zM175.4 56.5h1v1h-1zM197.5 58.3h1v1h-1zM175.4 59.6h1v1h-1zM203.8 60.5h1v1h-1zM189.9 47.4h1v1h-1zM175.4 68.9h1v1h-1zM202.6 60.5h1v1h-1zM228.2 68.3h1v1h-1zM202.7 53.5h1v1h-1zM218.4 59.4h1v1h-1zM200.0 68.0h1v1h-1zM175.4 64.1h1v1h-1zM208.4 60.0h1v1h-1zM194.8 54.9h1v1h-1zM179.3 66.7h1v1h-1zM212.8 48.7h1v1h-1zM205.3 71.5h1v1h-1zM193.2 58.2h1v1h-1zM214.0 64.9h1v1h-1zM188.1 59.5h1v1h-1zM210.7 63.4h1v1h-1zM187.1 51.3h1v1h-1zM209.0 57.4h1v1h-1zM184.7 65.5h1v1h-1zM223.3 69.5h1v1h-1zM204.9 61.3h1v1h-1zM222.4 45.3h1v1h-1zM188.8 63.4h1v1h-1zM194.0 63.9h1v1h-1zM213.6 50.1h1v1h-1zM175.4 55.6h1v1h-1zM185.2 60.3h1v1h-1zM216.5 50.4h1v1h-1zM208.0 71.0h1v1h-1zM215.7 70.5h1v1h-1zM196.5 66.3h1v1h-1zM209.5 66.1h1v1h-1zM190.2 54.5h1v1h-1zM180.6 51.8h1v1h-1zM175.8 64.9h1v1h-1zM192.9 64.7h1v1h-1zM192.9 62.3h1v1h-1zM191.7 53.3h1v1h-1zM175.4 52.0h1v1h-1zM175.4 59.1h1v1h-1zM193.1 52.8h1v1h-1zM205.4 49.3h1v1h-1zM192.5 56.3h1v1h-1zM188.0 55.1h1v1h-1zM175.4 72.3h1v1h-1zM231.2 55.5h1v1h-1zM184.7 61.9h1v1h-1zM226.2 70.8h1v1h-1zM224.3 65.3h1v1h-1zM205.2 54.9h1v1h-1zM192.5 66.5h1v1h-1zM203.0 51.7h1v1h-1zM183.9 49.8h1v1h-1zM205.0 49.0h1v1h-1zM201.1 62.9h1v1h-1zM209.0 61.7h1v1h-1zM215.2 62.9h1v1h-1zM226.9 61.7h1v1h-1zM195.3 64.2h1v1h-1zM216.6 70.9h1v1h-1zM189.3 57.8h1v1h-1zM187.7 53.9h1v1h-1zM191.9 56.2h1v1h-1zM186.4 58.3h1v1h-1zM215.7 61.1h1v1h-1zM214.8 56.7h1v1h-1zM220.0 59.1h1v1h-1zM200.7 57.4h1v1h-1zM205.2 64.4h1v1h-1zM192.5 66.3h1v1h-1zM183.9 60.1h1v1h-1zM207.7 69.0h1v1h-1zM205.1 53.2h1v1h-1zM184.6 68.6h1v1h-1zM209.8 57.1h1v1h-1zM175.4 65.3h1v1h-1zM198.4 63.2h1v1h-1zM191.7 51.5h1v1h-1zM193.2 61.5h1v1h-1zM184.9 51.3h1v1h-1zM215.3 58.0h1v1h-1zM209.5 59.5h1v1h-1zM218.7 68.9h1v1h-1zM203.0 51.0h1v1h-1zM181.7 52.9h1v1h-1zM195.4 59.2h1v1h-1zM183.3 55.6h1v1h-1zM207.7 58.8h1v1h-1zM218.9 51.6h1v1h-1zM205.8 64.0h1v1h-1zM191.9 48.0h1v1h-1zM195.4 59.6h1v1h-1zM203.9 70.0h1v1h-1zM179.3 68.2h1v1h-1zM203.1 56.4h1v1h-1zM203.8 59.0h1v1h-1zM192.7 70.7h1v1h-1zM194.6 48.4h1v1h-1zM203.4 67.4h1v1h-1zM188.6 64.5h1v1h-1zM188.6 74.2h1v1h-1zM212.4 59.0h1v1h-1zM204.1 57.8h1v1h-1zM225.8 59.4h1v1h-1zM186.1 54.0h1v1h-1zM175.4 50.8h1v1h-1zM214.8 63.7h1v1h-1zM215.0 56.2h1v1h-1zM189.7 60.9h1v1h-1zM178.8 63.3h1v1h-1zM200.0 57.8h1v1h-1zM175.4 52.6h1v1h-1zM195.6 64.3h1v1h-1zM175.4 68.1h1v1h-1zM197.1 55.2h1v1h-1zM175.4 58.4h1v1h-1zM197.1 56.6h1v1h-1zM223.2 63.4h1v1h-1zM196.6 47.5h1v1h-1zM212.0 69.1h1v1h-1zM191.0 68.1h1v1h-1zM187.2 52.2h1v1h-1zM178.2 57.7h1v1h-1zM216.0 58.7h1v1h-1zM199.6 51.9h1v1h-1zM224.7 69.3h1v1h-1zM182.9 65.0h1v1h-1zM197.1 60.1h1v1h-1zM201.6 62.0h1v1h-1zM221.5 73.9h1v1h-1zM227.6 58.8h1v1h-1zM190.7 58.6h1v1h-1zM183.5 53.7h1v1h-1zM175.4 60.5h1v1h-1zM220.3 53.0h1v1h-1zM199.0 56.1h1v1h-1zM190.7 62.3h1v1h-1zM199.6 52.3h1v1h-1zM175.4 64.3h1v1h-1zM175.4 68.3h1v1h-1zM214.2 66.6h1v1h-1zM206.2 57.7h1v1h-1zM202.5 58.2h1v1h-1zM185.4 49.6h1v1h-1zM209.1 67.9h1v1h-1zM226.8 69.6h1v1h-1zM182.0 52.3h1v1h-1zM200.5 60.7h1v1h-1zM193.8 63.1h1v1h-1zM205.7 66.8h1v1h-1zM200.5 65.7h1v1h-1zM198.1 51.4h1v1h-1zM187.1 56.0h1v1h-1zM200.0 54.3h1v1h-1zM191.1 53.2h1v1h-1zM198.1 62.5h1v1h-1zM199.3 52.1h1v1h-1zM210.0 63.1h1v1h-1zM191.6 64.2h1v1h-1zM195.5 47.1h1v1h-1zM216.2 69.8h1v1h-1zM197.0 66.9h1v1h-1zM196.4 49.6h1v1h-1zM213.1 58.9h1v1h-1zM204.3 48.9h1v1h-1zM201.6 59.3h1v1h-1zM203.6 51.0h1v1h-1zM181.8 58.4h1v1h-1zM207.2 48.3h1v1h-1zM220.1 53.3h1v1h-1zM209.0 69.4h1v1h-1zM177.1 66.3h1v1h-1zM204.6 62.6h1v1h-1zM186.9 63.1h1v1h-1zM197.0 50.8h1v1h-1zM202.3 51.1h1v1h-1zM182.6 54.1h1v1h-1zM220.3 69.2h1v1h-1zM199.4 62.4h1v1h-1zM212.3 60.7h1v1h-1zM209.9 56.8h1v1h-1zM220.5 57.3h1v1h-1zM218.2 67.5h1v1h-1zM178.5 60.6h1v1h-1zM201.1 54.0h1v1h-1zM175.4 56.0h1v1h-1zM193.9 70.6h1v1h-1zM211.2 71.1h1v1h-1zM214.2 52.1h1v1h-1zM219.8 51.1h1v1h-1zM194.9 50.3h1v1h-1zM205.3 59.8h1v1h-1zM202.0 70.2h1v1h-1zM219.5 58.9h1v1h-1zM224.2 56.6h1v1h-1zM195.2 67.0h1v1h-1zM248.4 54.8h1v1h-1zM200.5 60.0h1v1h-1zM195.1 66.9h1v1h-1zM209.5 66.6h1v1h-1zM211.9 53.8h1v1h-1zM208.8 52.0h1v1h-1zM190.9 54.5h1v1h-1zM222.6 66.8h1v1h-1zM201.5 61.7h1v1h-1zM223.6 59.3h1v1h-1zM221.4 55.6h1v1h-1zM181.7 58.9h1v1h-1zM186.1 60.0h1v1h-1zM185.8 64.9h1v1h-1zM204.5 55.3h1v1h-1zM201.6 54.9h1v1h-1zM204.8 49.2h1v1h-1zM188.7 47.7h1v1h-1zM207.1 51.8h1v1h-1zM221.7 61.6h1v1h-1zM180.9 62.3h1v1h-1zM197.9 58.3h1v1h-1zM204.5 52.8h1v1h-1zM198.9 52.1h1v1h-1zM197.9 69.3h1v1h-1zM227.2 57.7h1v1h-1zM220.0 57.0h1v1h-1zM213.5 66.6h1v1h-1zM189.5 69.2h1v1h-1zM234.2 62.8h1v1h-1zM206.2 53.9h1v1h-1zM192.2 56.7h1v1h-1zM195.8 57.7h1v1h-1zM193.6 69.1h1v1h-1zM232.5 65.4h1v1h-1zM203.9 72.7h1v1h-1zM201.8 49.3h1v1h-1zM175.4 52.9h1v1h-1zM211.9 61.4h1v1h-1zM185.1 58.6h1v1h-1zM184.0 56.3h1v1h-1zM210.0 63.8h1v1h-1zM188.0 68.0h1v1h-1zM213.3 60.7h1v1h-1zM217.6 51.5h1v1h-1zM175.4 58.7h1v1h-1zM198.9 52.3h1v1h-1zM177.4 61.2h1v1h-1zM200.0 62.4h1v1h-1zM214.5 62.6h1v1h-1zM180.6 69.0h1v1h-1zM227.7 61.9h1v1h-1zM196.2 49.7h1v1h-1zM183.2 60.3h1v1h-1zM199.0 61.5h1v1h-1zM212.6 65.0h1v1h-1zM180.3 68.4h1v1h-1zM200.9 47.8h1v1h-1zM180.4 69.6h1v1h-1zM218.8 51.5h1v1h-1zM203.1 61.4h1v1h-1zM194.5 46.0h1v1h-1zM216.2 68.4h1v1h-1zM181.6 58.6h1v1h-1zM194.9 53.3h1v1h-1zM228.3 66.6h1v1h-1zM198.9 48.4h1v1h-1zM221.0 56.0h1v1h-1zM203.7 57.0h1v1h-1zM190.4 54.8h1v1h-1zM197.1 58.1h1v1h-1zM201.9 65.8h1v1h-1zM194.7 52.1h1v1h-1zM188.5 59.4h1v1h-1zM189.1 54.8h1v1h-1zM178.7 63.8h1v1h-1zM202.4 58.8h1v1h-1zM206.6 55.2h1v1h-1zM211.9 58.2h1v1h-1zM175.4 54.5h1v1h-1zM212.8 64.2h1v1h-1zM200.5 53.5h1v1h-1zM179.5 69.5h1v1h-1zM202.2 63.4h1v1h-1zM212.9 52.3h1v1h-1zM208.5 55.8h1v1h-1zM211.6 51.5h1v1h-1zM214.8 52.2h1v1h-1zM214.1 54.7h1v1h-1zM200.2 63.2h1v1h-1zM175.4 64.8h1v1h-1zM189.4 59.2h1v1h-1zM206.1 54.6h1v1h-1zM193.8 53.8h1v1h-1zM211.0 63.8h1v1h-1zM212.6 59.9h1v1h-1zM201.5 59.2h1v1h-1zM228.8 50.1h1v1h-1zM186.2 49.5h1v1h-1zM214.6 69.0h1v1h-1zM193.7 56.9h1v1h-1zM189.1 67.2h1v1h-1zM209.6 57.0h1v1h-1zM191.6 64.3h1v1h-1zM213.6 52.5h1v1h-1zM183.4 68.4h1v1h-1zM201.3 50.9h1v1h-1zM188.2 62.3h1v1h-1zM197.3 71.4h1v1h-1zM195.2 64.9h1v1h-1zM184.0 59.1h1v1h-1zM210.6 57.8h1v1h-1zM182.2 61.3h1v1h-1zM186.2 47.8h1v1h-1zM214.1 52.4h1v1h-1zM215.3 51.8h1v1h-1zM210.8 48.0h1v1h-1zM205.9 51.7h1v1h-1zM234.8 57.8h1v1h-1zM182.8 70.8h1v1h-1zM189.7 69.1h1v1h-1zM186.0 50.7h1v1h-1zM214.2 58.5h1v1h-1zM205.1 62.8h1v1h-1zM217.4 67.1h1v1h-1zM215.3 52.7h1v1h-1zM197.5 50.9h1v1h-1zM188.6 55.6h1v1h-1zM186.0 53.6h1v1h-1zM215.3 53.3h1v1h-1zM209.7 60.9h1v1h-1zM195.8 50.4h1v1h-1zM197.9 49.5h1v1h-1zM195.7 53.0h1v1h-1zM196.0 58.0h1v1h-1zM175.4 52.5h1v1h-1zM199.9 63.2h1v1h-1zM195.2 67.1h1v1h-1zM205.2 66.7h1v1h-1zM204.0 62.8h1v1h-1zM213.6 67.6h1v1h-1zM200.7 69.2h1v1h-1zM212.7 61.4h1v1h-1zM175.4 61.3h1v1h-1zM184.5 58.2h1v1h-1zM226.6 58.5h1v1h-1zM182.7 70.8h1v1h-1zM196.7 59.5h1v1h-1zM211.4 59.3h1v1h-1zM187.7 64.1h1v1h-1zM211.6 58.1h1v1h-1zM179.6 51.1h1v1h-1zM175.4 54.1h1v1h-1zM181.1 48.6h1v1h-1zM176.2 68.2h1v1h-1zM200.6 67.5h1v1h-1zM196.1 56.6h1v1h-1zM205.8 48.5h1v1h-1zM185.4 53.7h1v1h-1zM238.8 54.1h1v1h-1zM199.4 60.0h1v1h-1zM200.2 48.4h1v1h-1zM207.7 56.4h1v1h-1zM197.2 53.3h1v1h-1zM191.5 50.3h1v1h-1zM202.1 52.2h1v1h-1zM214.6 51.4h1v1h-1zM210.8 69.0h1v1h-1zM214.9 53.7h1v1h-1zM192.5 50.3h1v1h-1zM189.3 68.6h1v1h-1zM230.7 73.3h1v1h-1zM197.3 65.3h1v1h-1zM208.0 47.3h1v1h-1zM211.9 51.5h1v1h-1zM222.1 50.9h1v1h-1zM180.8 55.2h1v1h-1zM193.7 60.4h1v1h-1zM194.4 47.2h1v1h-1zM196.4 65.8h1v1h-1zM175.4 60.1h1v1h-1zM199.5 50.2h1v1h-1zM175.4 49.2h1v1h-1zM205.4 61.0h1v1h-1zM208.9 65.4h1v1h-1zM209.8 60.1h1v1h-1zM183.0 53.7h1v1h-1zM215.2 63.6h1v1h-1zM188.1 58.6h1v1h-1zM182.6 60.2h1v1h-1zM186.3 68.1h1v1h-1zM188.3 62.8h1v1h-1zM203.5 50.6h1v1h-1zM213.2 63.1h1v1h-1zM175.4 53.8h1v1h-1zM192.9 66.7h1v1h-1zM214.4 62.5h1v1h-1zM204.0 62.1h1v1h-1zM208.6 49.0h1v1h-1zM178.7 49.1h1v1h-1zM215.2 71.6h1v1h-1zM177.7 48.1h1v1h-1zM203.9 50.0h1v1h-1zM221.4 58.0h1v1h-1zM229.1 70.0h1v1h-1zM208.7 57.4h1v1h-1zM214.2 71.5h1v1h-1zM192.0 63.4h1v1h-1zM193.9 65.3h1v1h-1zM218.5 66.1h1v1h-1zM201.1 71.3h1v1h-1zM199.2 71.8h1v1h-1zM180.1 55.9h1v1h-1zM203.3 65.7h1v1h-1zM210.7 58.8h1v1h-1zM189.2 67.9h1v1h-1zM193.5 57.9h1v1h-1zM224.6 57.0h1v1h-1zM203.7 48.4h1v1h-1zM196.8 64.6h1v1h-1zM184.1 48.4h1v1h-1zM191.8 65.1h1v1h-1zM197.4 52.2h1v1h-1zM221.5 61.9h1v1h-1zM192.0 74.2h1v1h-1zM227.8 57.4h1v1h-1zM187.2 60.1h1v1h-1zM195.7 56.8h1v1h-1zM213.6 50.0h1v1h-1zM197.5 64.1h1v1h-1zM188.7 63.8h1v1h-1zM199.1 65.9h1v1h-1zM207.8 52.5h1v1h-1zM175.5 51.7h1v1h-1zM197.4 54.7h1v1h-1zM199.4 50.1h1v1h-1zM195.1 53.0h1v1h-1zM212.0 49.8h1v1h-1zM192.6 57.4h1v1h-1zM235.9 68.6h1v1h-1zM231.2 64.4h1v1h-1zM248.4 58.9h1v1h-1zM235.5 66.6h1v1h-1zM225.6 58.5h1v1h-1zM230.6 50.3h1v1h-1zM228.0 60.3h1v1h-1zM235.7 63.4h1v1h-1zM237.2 58.4h1v1h-1zM233.2 69.4h1v1h-1zM229.5 61.6h1v1h-1zM226.2 52.6h1v1h-1zM241.4 61.3h1v1h-1zM238.2 51.6h1v1h-1zM211.1 62.0h1v1h-1zM231.2 61.8h1v1h-1zM225.1 47.3h1v1h-1zM228.2 51.9h1v1h-1zM242.1 54.3h1v1h-1zM223.1 51.8h1v1h-1zM223.8 50.4h1v1h-1zM247.2 61.3h1v1h-1zM227.6 69.8h1v1h-1zM229.2 48.7h1v1h-1zM238.5 67.6h1v1h-1zM227.4 56.1h1v1h-1zM231.1 55.8h1v1h-1zM232.5 64.0h1v1h-1zM240.3 64.8h1v1h-1zM220.0 71.2h1v1h-1zM225.3 66.6h1v1h-1zM230.0 53.3h1v1h-1zM226.6 64.6h1v1h-1zM234.0 63.5h1v1h-1zM227.4 51.0h1v1h-1zM228.2 59.8h1v1h-1zM239.4 62.8h1v1h-1zM229.3 54.0h1v1h-1zM248.4 50.2h1v1h-1zM233.3 57.3h1v1h-1zM238.4 52.9h1v1h-1zM235.9 49.2h1v1h-1zM220.4 51.6h1v1h-1zM220.5 53.2h1v1h-1zM234.1 64.2h1v1h-1zM223.5 61.5h1v1h-1zM227.2 62.5h1v1h-1zM228.6 53.8h1v1h-1zM224.7 60.7h1v1h-1zM236.1 60.7h1v1h-1zM232.0 68.1h1v1h-1zM234.6 60.5h1v1h-1zM224.8 65.7h1v1h-1zM236.7 61.6h1v1h-1zM225.2 61.5h1v1h-1zM241.3 53.7h1v1h-1zM226.4 49.2h1v1h-1zM227.2 64.7h1v1h-1zM238.7 58.8h1v1h-1zM235.2 69.6h1v1h-1zM224.5 61.2h1v1h-1zM234.9 62.2h1v1h-1zM230.9 51.1h1v1h-1zM231.0 51.3h1v1h-1zM235.0 62.6h1v1h-1zM235.0 55.8h1v1h-1zM237.7 66.4h1v1h-1zM234.1 59.9h1v1h-1zM233.1 53.5h1v1h-1zM230.2 56.1h1v1h-1zM240.9 53.4h1v1h-1zM225.7 50.7h1v1h-1zM243.7 58.0h1v1h-1zM245.5 49.5h1v1h-1zM245.4 59.0h1v1h-1zM230.0 56.9h1v1h-1zM245.0 65.3h1v1h-1zM238.6 68.4h1v1h-1zM238.1 56.3h1v1h-1zM248.4 51.0h1v1h-1zM232.3 58.9h1v1h-1zM234.8 61.4h1v1h-1zM222.5 62.8h1v1h-1zM216.0 66.3h1v1h-1zM232.9 67.2h1v1h-1zM233.8 56.4h1v1h-1zM235.7 60.2h1v1h-1zM233.0 58.2h1v1h-1zM217.6 70.1h1v1h-1zM233.5 50.4h1v1h-1zM238.5 65.9h1v1h-1zM241.5 52.8h1v1h-1zM224.6 51.2h1v1h-1zM225.0 63.8h1v1h-1zM226.3 53.1h1v1h-1zM226.6 58.8h1v1h-1zM220.1 57.8h1v1h-1zM226.3 51.9h1v1h-1zM241.5 56.5h1v1h-1zM223.8 55.5h1v1h-1zM218.4 52.7h1v1h-1zM229.0 49.5h1v1h-1zM227.5 64.9h1v1h-1zM235.4 67.9h1v1h-1zM225.9 49.5h1v1h-1zM229.7 55.7h1v1h-1zM225.2 62.3h1v1h-1zM224.3 63.1h1v1h-1zM233.3 53.9h1v1h-1zM231.7 57.1h1v1h-1zM230.5 48.9h1v1h-1zM225.3 50.3h1v1h-1zM231.0 54.5h1v1h-1zM232.2 59.8h1v1h-1zM238.8 67.4h1v1h-1zM218.1 59.9h1v1h-1zM228.5 60.6h1v1h-1zM233.9 63.8h1v1h-1zM227.0 63.1h1v1h-1zM231.5 53.4h1v1h-1zM234.1 63.8h1v1h-1zM219.3 54.5h1v1h-1zM222.7 68.5h1v1h-1zM211.9 56.9h1v1h-1zM235.2 68.6h1v1h-1zM232.3 59.4h1v1h-1zM231.2 67.6h1v1h-1zM223.1 50.4h1v1h-1zM238.0 49.5h1v1h-1zM222.0 62.9h1v1h-1zM230.8 56.8h1v1h-1zM229.4 51.8h1v1h-1zM236.1 49.3h1v1h-1zM237.0 56.3h1v1h-1zM228.0 51.2h1v1h-1zM225.9 56.5h1v1h-1zM230.5 63.9h1v1h-1zM226.9 66.0h1v1h-1zM237.2 57.3h1v1h-1zM233.4 60.2h1v1h-1zM240.2 62.4h1v1h-1zM248.4 65.8h1v1h-1zM225.0 57.2h1v1h-1zM226.8 66.1h1v1h-1zM234.1 62.0h1v1h-1zM233.5 64.3h1v1h-1zM228.5 61.7h1v1h-1zM219.3 57.1h1v1h-1zM248.0 68.8h1v1h-1zM231.4 57.1h1v1h-1zM223.0 53.0h1v1h-1zM214.7 60.2h1v1h-1zM240.3 48.7h1v1h-1zM233.1 58.2h1v1h-1zM230.9 49.1h1v1h-1zM223.8 64.6h1v1h-1zM230.1 57.9h1v1h-1zM228.2 63.9h1v1h-1zM214.0 49.3h1v1h-1zM248.4 61.1h1v1h-1zM233.8 60.1h1v1h-1zM228.5 61.1h1v1h-1zM224.3 64.6h1v1h-1zM226.7 49.1h1v1h-1zM247.2 63.9h1v1h-1zM233.5 53.9h1v1h-1zM221.8 51.8h1v1h-1zM236.8 66.4h1v1h-1zM234.2 60.6h1v1h-1zM234.4 49.6h1v1h-1zM229.9 60.0h1v1h-1zM229.7 66.9h1v1h-1zM229.4 56.0h1v1h-1zM221.3 53.5h1v1h-1zM224.0 62.2h1v1h-1zM230.9 63.7h1v1h-1zM220.0 51.5h1v1h-1zM229.9 67.8h1v1h-1zM228.7 54.4h1v1h-1zM235.8 64.3h1v1h-1zM231.9 51.7h1v1h-1zM228.8 59.5h1v1h-1zM228.8 61.2h1v1h-1zM233.7 57.6h1v1h-1zM237.1 61.1h1v1h-1zM223.5 64.5h1v1h-1zM220.4 67.4h1v1h-1zM225.8 61.1h1v1h-1zM215.2 52.6h1v1h-1zM225.5 68.4h1v1h-1zM236.4 58.6h1v1h-1zM237.4 59.1h1v1h-1zM241.2 64.8h1v1h-1zM231.3 66.5h1v1h-1zM231.9 58.5h1v1h-1zM226.8 55.8h1v1h-1zM227.3 56.6h1v1h-1zM232.7 62.9h1v1h-1zM237.0 58.9h1v1h-1zM233.7 54.6h1v1h-1zM217.1 64.5h1v1h-1zM234.1 62.0h1v1h-1zM230.8 61.7h1v1h-1zM226.8 50.6h1v1h-1zM231.7 59.2h1v1h-1zM236.9 54.9h1v1h-1zM231.7 55.3h1v1h-1zM225.9 52.1h1v1h-1zM248.4 61.2h1v1h-1zM226.5 55.5h1v1h-1zM233.9 68.8h1v1h-1zM239.3 61.6h1v1h-1zM224.9 70.0h1v1h-1zM234.5 61.1h1v1h-1zM225.0 62.1h1v1h-1zM229.0 54.6h1v1h-1zM225.6 51.3h1v1h-1zM242.7 61.6h1v1h-1zM221.4 53.2h1v1h-1zM234.2 51.2h1v1h-1zM231.0 67.9h1v1h-1zM217.3 55.4h1v1h-1zM226.9 61.1h1v1h-1zM229.0 65.1h1v1h-1zM232.2 62.4h1v1h-1zM224.6 63.4h1v1h-1zM225.5 52.4h1v1h-1zM230.5 59.1h1v1h-1zM224.8 67.8h1v1h-1zM231.4 57.8h1v1h-1zM239.3 54.1h1v1h-1zM223.9 59.7h1v1h-1zM220.0 60.8h1v1h-1zM229.8 55.5h1v1h-1zM233.4 63.4h1v1h-1zM235.3 64.4h1v1h-1zM223.3 48.7h1v1h-1zM214.8 49.6h1v1h-1zM236.7 58.5h1v1h-1zM235.5 50.9h1v1h-1zM240.9 56.5h1v1h-1zM224.2 62.9h1v1h-1zM234.5 65.9h1v1h-1zM237.5 65.3h1v1h-1zM218.3 52.1h1v1h-1zM237.9 64.6h1v1h-1zM240.4 63.8h1v1h-1zM234.6 64.9h1v1h-1zM234.4 54.0h1v1h-1zM235.7 64.1h1v1h-1zM229.0 48.5h1v1h-1zM221.0 54.1h1v1h-1zM224.5 63.9h1v1h-1zM229.5 60.8h1v1h-1zM225.0 51.3h1v1h-1zM237.6 60.6h1v1h-1zM228.0 51.9h1v1h-1zM230.0 59.1h1v1h-1zM218.8 55.6h1v1h-1zM233.4 51.9h1v1h-1zM226.0 47.1h1v1h-1zM240.9 67.2h1v1h-1zM219.1 67.5h1v1h-1zM232.9 57.3h1v1h-1zM228.0 55.0h1v1h-1zM228.3 50.1h1v1h-1zM242.2 68.5h1v1h-1zM237.2 58.8h1v1h-1zM225.0 53.0h1v1h-1zM240.1 60.6h1v1h-1zM226.3 63.2h1v1h-1zM236.1 55.5h1v1h-1zM219.0 67.1h1v1h-1zM228.5 49.6h1v1h-1zM228.8 51.6h1v1h-1zM228.5 62.4h1v1h-1zM220.0 56.8h1v1h-1zM218.0 56.2h1v1h-1zM230.6 62.2h1v1h-1zM234.8 68.4h1v1h-1zM231.0 67.3h1v1h-1zM228.4 63.9h1v1h-1zM220.6 55.0h1v1h-1zM228.9 58.2h1v1h-1zM227.0 50.6h1v1h-1zM225.9 69.2h1v1h-1zM231.9 63.2h1v1h-1zM231.9 57.2h1v1h-1zM233.4 50.4h1v1h-1zM229.0 62.8h1v1h-1zM225.1 51.4h1v1h-1zM229.4 55.0h1v1h-1zM228.6 68.6h1v1h-1zM192.4 97.9h1v1h-1zM207.8 96.6h1v1h-1zM192.8 81.6h1v1h-1zM197.7 83.9h1v1h-1zM188.8 67.5h1v1h-1zM196.5 102.6h1v1h-1zM197.6 54.0h1v1h-1zM200.6 99.4h1v1h-1zM213.0 106.3h1v1h-1zM207.8 71.4h1v1h-1zM202.3 99.4h1v1h-1zM195.3 78.0h1v1h-1zM195.6 106.3h1v1h-1zM195.5 85.4h1v1h-1zM192.0 56.8h1v1h-1zM201.7 74.2h1v1h-1zM197.1 54.5h1v1h-1zM200.8 91.2h1v1h-1zM195.9 101.9h1v1h-1zM199.8 107.6h1v1h-1zM208.6 83.9h1v1h-1zM199.7 73.1h1v1h-1zM203.4 85.7h1v1h-1zM192.2 77.9h1v1h-1zM196.6 68.7h1v1h-1zM195.2 104.5h1v1h-1zM200.8 72.5h1v1h-1zM199.5 101.1h1v1h-1zM193.4 85.9h1v1h-1zM199.9 99.7h1v1h-1zM198.5 90.4h1v1h-1zM187.8 75.1h1v1h-1zM197.5 90.5h1v1h-1zM205.3 90.3h1v1h-1zM192.2 104.6h1v1h-1zM204.7 78.5h1v1h-1zM202.2 85.0h1v1h-1zM198.9 95.1h1v1h-1zM200.7 83.7h1v1h-1zM192.8 86.6h1v1h-1zM202.4 65.4h1v1h-1zM188.9 107.1h1v1h-1zM190.8 88.6h1v1h-1zM201.3 85.5h1v1h-1zM190.9 94.5h1v1h-1zM210.7 95.1h1v1h-1zM200.1 57.2h1v1h-1zM203.7 73.2h1v1h-1zM204.1 85.6h1v1h-1zM195.5 107.7h1v1h-1zM198.2 83.8h1v1h-1zM201.0 55.4h1v1h-1zM198.1 107.7h1v1h-1zM208.0 82.4h1v1h-1zM204.6 56.6h1v1h-1zM199.4 71.7h1v1h-1zM206.1 105.5h1v1h-1zM198.5 72.7h1v1h-1zM203.0 85.4h1v1h-1zM199.1 71.2h1v1h-1zM196.4 87.5h1v1h-1zM192.1 82.6h1v1h-1zM193.5 71.3h1v1h-1zM198.3 60.6h1v1h-1zM200.7 69.0h1v1h-1zM184.5 88.6h1v1h-1zM195.4 85.3h1v1h-1zM201.6 77.0h1v1h-1zM196.9 85.8h1v1h-1zM190.9 76.5h1v1h-1zM191.5 82.5h1v1h-1zM208.5 87.7h1v1h-1zM187.8 97.9h1v1h-1zM195.7 107.7h1v1h-1zM203.1 65.8h1v1h-1zM185.2 106.1h1v1h-1zM202.1 107.7h1v1h-1zM188.0 97.2h1v1h-1zM204.2 91.7h1v1h-1zM214.7 58.6h1v1h-1zM189.9 98.0h1v1h-1zM197.3 84.3h1v1h-1zM200.1 66.4h1v1h-1zM194.2 65.0h1v1h-1zM201.2 73.2h1v1h-1zM193.3 72.0h1v1h-1zM194.2 77.4h1v1h-1zM192.6 82.9h1v1h-1zM197.4 98.3h1v1h-1zM200.8 76.9h1v1h-1zM203.9 55.0h1v1h-1zM197.1 93.5h1v1h-1zM191.0 50.2h1v1h-1zM194.7 81.5h1v1h-1zM194.5 87.3h1v1h-1zM195.3 86.9h1v1h-1zM201.4 99.0h1v1h-1zM196.8 106.1h1v1h-1zM198.3 69.3h1v1h-1zM198.0 93.7h1v1h-1zM197.1 97.3h1v1h-1zM194.7 99.8h1v1h-1zM202.3 96.7h1v1h-1zM197.1 85.1h1v1h-1zM197.0 96.3h1v1h-1zM190.6 65.1h1v1h-1zM193.2 80.5h1v1h-1zM193.8 82.0h1v1h-1zM201.2 61.6h1v1h-1zM186.5 101.7h1v1h-1zM202.2 81.0h1v1h-1zM198.3 73.0h1v1h-1zM193.1 86.9h1v1h-1zM192.1 83.5h1v1h-1zM200.8 71.6h1v1h-1zM198.9 93.9h1v1h-1zM185.0 72.4h1v1h-1zM193.2 85.0h1v1h-1zM191.7 53.0h1v1h-1zM197.1 59.0h1v1h-1zM193.5 60.8h1v1h-1zM200.4 85.1h1v1h-1zM194.2 80.9h1v1h-1zM195.8 73.5h1v1h-1zM205.4 74.4h1v1h-1zM196.0 103.8h1v1h-1zM194.4 93.3h1v1h-1zM197.7 67.2h1v1h-1zM189.3 73.8h1v1h-1zM187.4 104.9h1v1h-1zM197.3 74.2h1v1h-1zM193.7 82.4h1v1h-1zM188.4 94.9h1v1h-1zM203.3 67.6h1v1h-1zM201.8 91.1h1v1h-1zM198.8 67.7h1v1h-1zM194.0 104.0h1v1h-1zM196.1 74.0h1v1h-1zM193.7 107.7h1v1h-1zM202.8 57.4h1v1h-1zM188.3 82.6h1v1h-1zM199.1 78.6h1v1h-1zM197.5 70.3h1v1h-1zM190.2 59.7h1v1h-1zM201.3 61.7h1v1h-1zM195.2 102.5h1v1h-1zM209.2 62.3h1v1h-1zM204.8 57.2h1v1h-1zM197.0 86.0h1v1h-1zM195.0 66.2h1v1h-1zM193.0 73.6h1v1h-1zM192.8 99.4h1v1h-1zM199.4 87.1h1v1h-1zM188.3 60.7h1v1h-1zM203.5 62.3h1v1h-1zM201.8 86.9h1v1h-1zM196.5 102.3h1v1h-1zM202.1 77.3h1v1h-1zM211.9 89.4h1v1h-1zM199.2 91.6h1v1h-1zM208.2 61.6h1v1h-1zM195.5 87.7h1v1h-1zM193.5 107.7h1v1h-1zM203.7 93.4h1v1h-1zM185.2 92.8h1v1h-1zM203.4 61.2h1v1h-1zM197.3 84.1h1v1h-1zM194.3 59.3h1v1h-1zM197.9 95.4h1v1h-1zM198.1 81.8h1v1h-1zM205.3 58.0h1v1h-1zM202.7 64.9h1v1h-1zM198.6 77.0h1v1h-1zM196.0 62.6h1v1h-1zM191.4 76.8h1v1h-1zM198.6 103.9h1v1h-1zM181.0 63.3h1v1h-1zM203.5 86.8h1v1h-1zM197.3 55.0h1v1h-1zM186.8 106.6h1v1h-1zM200.9 99.8h1v1h-1zM191.7 56.4h1v1h-1zM194.4 65.6h1v1h-1zM186.0 88.2h1v1h-1zM192.6 62.8h1v1h-1zM198.4 71.9h1v1h-1zM196.8 100.2h1v1h-1zM199.2 89.9h1v1h-1zM192.7 86.7h1v1h-1zM200.9 55.5h1v1h-1zM188.0 63.3h1v1h-1zM193.7 61.7h1v1h-1zM180.5 86.0h1v1h-1zM195.4 96.2h1v1h-1zM193.8 79.7h1v1h-1zM196.1 97.0h1v1h-1zM200.9 58.4h1v1h-1zM205.6 57.8h1v1h-1zM189.8 54.0h1v1h-1zM195.7 74.1h1v1h-1zM184.9 61.8h1v1h-1zM208.8 104.7h1v1h-1zM205.5 59.8h1v1h-1zM200.2 99.2h1v1h-1zM204.9 57.0h1v1h-1zM202.7 63.5h1v1h-1zM193.3 67.7h1v1h-1zM201.9 107.4h1v1h-1zM204.7 107.2h1v1h-1zM202.4 90.5h1v1h-1zM196.8 73.8h1v1h-1zM194.9 99.6h1v1h-1zM212.4 86.2h1v1h-1zM199.1 56.0h1v1h-1zM200.8 72.2h1v1h-1zM188.5 60.7h1v1h-1zM201.7 96.3h1v1h-1zM198.9 64.8h1v1h-1zM191.9 71.4h1v1h-1zM205.5 88.1h1v1h-1zM197.3 87.3h1v1h-1zM201.5 96.2h1v1h-1zM200.3 96.9h1v1h-1zM192.9 103.1h1v1h-1zM199.2 81.7h1v1h-1zM206.1 73.2h1v1h-1zM190.3 53.3h1v1h-1zM190.8 60.7h1v1h-1zM191.6 61.9h1v1h-1zM202.0 56.8h1v1h-1zM194.4 53.4h1v1h-1zM199.2 77.7h1v1h-1zM204.6 58.2h1v1h-1zM190.2 71.4h1v1h-1zM206.7 72.6h1v1h-1zM197.5 79.0h1v1h-1zM196.2 84.9h1v1h-1zM207.0 70.6h1v1h-1zM200.2 68.5h1v1h-1zM189.0 89.5h1v1h-1zM197.0 58.8h1v1h-1zM192.5 74.3h1v1h-1zM199.0 62.6h1v1h-1zM194.4 55.7h1v1h-1zM195.2 97.4h1v1h-1zM203.4 94.4h1v1h-1zM186.6 101.5h1v1h-1zM199.1 90.1h1v1h-1zM195.9 100.5h1v1h-1zM199.4 73.9h1v1h-1zM182.3 84.5h1v1h-1zM191.3 81.7h1v1h-1zM194.8 55.7h1v1h-1zM207.8 102.8h1v1h-1zM189.4 100.4h1v1h-1zM190.2 107.2h1v1h-1zM196.1 103.9h1v1h-1zM199.4 103.0h1v1h-1zM193.5 105.7h1v1h-1zM197.9 73.8h1v1h-1zM187.0 56.2h1v1h-1zM208.0 90.6h1v1h-1zM195.2 95.6h1v1h-1zM198.1 104.6h1v1h-1zM214.5 68.5h1v1h-1zM193.8 73.5h1v1h-1zM189.5 107.7h1v1h-1zM191.1 96.6h1v1h-1zM207.9 66.6h1v1h-1zM196.1 107.5h1v1h-1zM192.4 53.4h1v1h-1zM197.1 52.4h1v1h-1zM197.0 64.7h1v1h-1zM203.7 64.1h1v1h-1zM201.9 68.8h1v1h-1zM199.7 87.1h1v1h-1zM200.4 107.7h1v1h-1zM192.2 79.7h1v1h-1zM189.4 64.2h1v1h-1zM199.9 77.2h1v1h-1zM200.7 63.4h1v1h-1zM198.4 100.0h1v1h-1zM199.2 68.3h1v1h-1zM201.4 83.5h1v1h-1zM190.1 101.7h1v1h-1zM195.2 78.3h1v1h-1zM191.9 78.9h1v1h-1zM185.6 86.1h1v1h-1zM200.7 100.9h1v1h-1zM195.9 59.6h1v1h-1zM199.9 90.1h1v1h-1zM201.4 69.3h1v1h-1zM191.6 60.0h1v1h-1zM206.9 104.7h1v1h-1zM199.3 102.4h1v1h-1zM203.8 58.8h1v1h-1zM208.1 80.7h1v1h-1zM194.3 106.7h1v1h-1zM193.5 90.8h1v1h-1zM198.5 76.3h1v1h-1zM204.4 62.6h1v1h-1zM204.6 106.9h1v1h-1zM184.9 86.3h1v1h-1zM206.4 76.9h1v1h-1zM194.5 67.8h1v1h-1zM200.5 104.2h1v1h-1zM189.0 88.7h1v1h-1zM191.8 56.8h1v1h-1zM199.7 88.2h1v1h-1zM186.1 96.9h1v1h-1zM202.5 81.8h1v1h-1zM193.9 59.4h1v1h-1zM199.1 74.4h1v1h-1zM198.3 78.1h1v1h-1zM193.8 82.8h1v1h-1zM205.7 61.0h1v1h-1zM212.2 71.9h1v1h-1zM201.3 82.9h1v1h-1zM186.5 66.7h1v1h-1zM198.1 57.3h1v1h-1zM195.9 58.2h1v1h-1zM203.1 79.9h1v1h-1zM197.7 56.3h1v1h-1zM210.9 63.3h1v1h-1zM201.7 70.4h1v1h-1zM201.1 74.6h1v1h-1zM195.2 77.2h1v1h-1zM191.7 77.1h1v1h-1zM196.8 59.4h1v1h-1zM198.6 105.2h1v1h-1zM200.4 101.1h1v1h-1zM198.6 75.6h1v1h-1zM195.6 103.2h1v1h-1zM197.7 101.5h1v1h-1zM194.4 100.3h1v1h-1zM191.1 71.1h1v1h-1zM191.9 79.9h1v1h-1zM200.5 105.4h1v1h-1zM201.9 85.0h1v1h-1zM196.0 100.4h1v1h-1zM196.5 84.4h1v1h-1zM200.8 101.6h1v1h-1zM196.5 81.7h1v1h-1zM217.2 97.8h1v1h-1zM198.2 65.0h1v1h-1zM194.1 87.5h1v1h-1zM185.9 55.2h1v1h-1zM198.7 88.2h1v1h-1zM203.8 88.1h1v1h-1zM197.0 103.3h1v1h-1zM205.2 59.0h1v1h-1zM193.6 106.1h1v1h-1zM196.7 100.0h1v1h-1zM196.2 86.9h1v1h-1zM192.6 56.4h1v1h-1zM188.0 104.1h1v1h-1zM191.3 81.8h1v1h-1zM185.3 65.7h1v1h-1zM202.2 83.0h1v1h-1zM196.3 79.5h1v1h-1zM196.7 57.7h1v1h-1zM193.7 80.5h1v1h-1zM203.4 54.9h1v1h-1zM192.0 58.9h1v1h-1zM208.0 97.2h1v1h-1zM204.2 78.6h1v1h-1zM192.9 105.0h1v1h-1zM196.1 93.9h1v1h-1zM201.3 60.7h1v1h-1zM205.3 86.8h1v1h-1zM192.3 94.4h1v1h-1zM194.2 69.7h1v1h-1zM213.2 79.3h1v1h-1zM203.2 105.2h1v1h-1zM203.0 75.5h1v1h-1zM209.6 74.4h1v1h-1zM200.2 69.7h1v1h-1zM194.5 97.5h1v1h-1zM186.4 83.1h1v1h-1zM202.8 72.8h1v1h-1zM190.2 107.5h1v1h-1zM201.6 102.7h1v1h-1zM184.8 93.9h1v1h-1zM194.3 63.9h1v1h-1zM197.2 84.7h1v1h-1zM189.4 68.9h1v1h-1zM193.9 96.7h1v1h-1zM192.1 83.6h1v1h-1zM198.2 96.4h1v1h-1zM189.4 85.8h1v1h-1zM195.7 92.5h1v1h-1zM206.1 103.8h1v1h-1zM206.2 81.7h1v1h-1zM209.3 106.9h1v1h-1zM200.0 73.8h1v1h-1zM194.8 63.4h1v1h-1zM199.4 107.7h1v1h-1zM201.8 90.9h1v1h-1zM199.1 57.0h1v1h-1zM206.5 99.5h1v1h-1zM193.2 90.9h1v1h-1zM196.0 51.3h1v1h-1zM187.7 81.0h1v1h-1zM194.7 107.7h1v1h-1zM205.2 78.4h1v1h-1zM197.7 105.3h1v1h-1zM202.1 77.2h1v1h-1zM200.1 99.5h1v1h-1zM203.5 102.5h1v1h-1zM192.1 88.2h1v1h-1zM200.7 82.6h1v1h-1zM201.7 95.7h1v1h-1zM204.7 72.6h1v1h-1zM206.2 83.2h1v1h-1zM194.2 79.0h1v1h-1zM188.3 104.5h1v1h-1zM193.3 102.7h1v1h-1zM205.7 62.5h1v1h-1zM191.1 101.1h1v1h-1zM188.6 72.4h1v1h-1zM189.0 79.3h1v1h-1zM189.1 56.9h1v1h-1zM201.9 95.1h1v1h-1zM192.5 87.2h1v1h-1zM193.4 70.8h1v1h-1zM204.6 76.7h1v1h-1zM203.3 107.5h1v1h-1zM202.9 63.5h1v1h-1zM192.5 76.2h1v1h-1zM186.6 80.9h1v1h-1zM199.6 98.5h1v1h-1zM208.5 104.7h1v1h-1zM195.1 68.1h1v1h-1zM195.6 58.3h1v1h-1zM176.8 64.5h1v1h-1zM208.3 56.2h1v1h-1zM196.1 75.3h1v1h-1zM186.3 68.8h1v1h-1zM197.0 50.6h1v1h-1zM193.6 98.9h1v1h-1zM201.3 102.8h1v1h-1zM211.0 59.3h1v1h-1zM192.3 69.5h1v1h-1zM198.3 106.5h1v1h-1zM194.9 95.2h1v1h-1zM193.1 83.0h1v1h-1zM200.3 76.2h1v1h-1zM207.1 81.8h1v1h-1zM200.1 95.1h1v1h-1zM194.6 58.2h1v1h-1zM200.6 60.8h1v1h-1zM198.8 56.9h1v1h-1zM202.5 67.1h1v1h-1zM193.9 104.4h1v1h-1zM198.2 56.2h1v1h-1zM207.8 85.0h1v1h-1zM197.5 97.4h1v1h-1zM203.5 74.3h1v1h-1zM197.3 104.5h1v1h-1zM197.8 74.7h1v1h-1zM192.6 100.0h1v1h-1zM215.4 61.4h1v1h-1zM204.9 92.5h1v1h-1zM204.8 65.2h1v1h-1zM204.7 76.3h1v1h-1zM190.9 82.7h1v1h-1zM192.5 85.9h1v1h-1zM196.2 107.7h1v1h-1zM186.7 100.9h1v1h-1zM191.6 55.2h1v1h-1zM202.6 89.6h1v1h-1zM183.8 63.7h1v1h-1zM191.6 73.2h1v1h-1zM196.7 53.6h1v1h-1zM196.7 58.7h1v1h-1zM197.1 92.7h1v1h-1zM192.5 67.7h1v1h-1zM203.1 107.7h1v1h-1zM182.4 82.7h1v1h-1zM200.0 98.7h1v1h-1zM187.7 107.7h1v1h-1zM192.7 107.2h1v1h-1zM196.9 81.0h1v1h-1zM207.5 86.7h1v1h-1zM191.6 62.4h1v1h-1zM188.2 90.3h1v1h-1zM203.5 75.2h1v1h-1zM196.8 98.7h1v1h-1zM197.4 85.2h1v1h-1zM200.9 85.1h1v1h-1zM203.7 95.7h1v1h-1zM198.3 101.4h1v1h-1zM184.0 85.9h1v1h-1zM196.0 56.2h1v1h-1zM197.5 79.4h1v1h-1zM190.0 103.5h1v1h-1zM190.8 93.2h1v1h-1zM201.4 85.7h1v1h-1zM198.9 59.3h1v1h-1zM191.6 107.7h1v1h-1zM200.9 59.1h1v1h-1zM198.2 63.3h1v1h-1zM189.1 58.5h1v1h-1zM195.6 88.9h1v1h-1zM189.0 78.2h1v1h-1zM191.9 105.7h1v1h-1zM199.2 87.9h1v1h-1zM189.6 86.8h1v1h-1zM189.4 55.8h1v1h-1zM199.7 104.7h1v1h-1zM190.9 78.1h1v1h-1zM195.6 69.3h1v1h-1zM195.7 81.6h1v1h-1zM196.3 104.8h1v1h-1zM199.8 97.1h1v1h-1zM194.6 55.7h1v1h-1zM192.4 85.2h1v1h-1zM194.4 75.4h1v1h-1zM204.7 59.4h1v1h-1zM203.3 89.8h1v1h-1zM197.0 64.5h1v1h-1zM205.2 89.4h1v1h-1zM201.9 86.8h1v1h-1zM190.5 66.3h1v1h-1zM206.9 56.2h1v1h-1zM215.1 86.6h1v1h-1zM199.7 86.6h1v1h-1zM187.1 71.4h1v1h-1zM206.9 70.4h1v1h-1zM201.2 89.6h1v1h-1zM196.7 84.8h1v1h-1zM184.4 80.0h1v1h-1zM196.7 75.1h1v1h-1zM195.4 105.8h1v1h-1zM195.3 56.0h1v1h-1zM194.7 101.8h1v1h-1zM203.5 78.0h1v1h-1zM194.7 54.0h1v1h-1zM200.1 89.9h1v1h-1zM185.2 61.2h1v1h-1zM191.1 78.6h1v1h-1zM197.3 78.8h1v1h-1zM191.7 103.8h1v1h-1zM197.6 92.7h1v1h-1zM197.0 104.4h1v1h-1zM198.6 104.1h1v1h-1zM195.3 91.0h1v1h-1zM201.4 104.4h1v1h-1zM188.7 62.9h1v1h-1zM194.8 94.9h1v1h-1zM207.1 92.3h1v1h-1zM194.7 107.6h1v1h-1zM207.1 88.1h1v1h-1zM199.6 90.3h1v1h-1zM195.9 85.9h1v1h-1zM197.9 90.3h1v1h-1zM207.5 87.0h1v1h-1zM195.4 66.1h1v1h-1zM190.3 60.2h1v1h-1zM200.6 85.2h1v1h-1zM201.9 82.4h1v1h-1zM202.8 98.9h1v1h-1zM187.7 98.7h1v1h-1zM199.9 99.4h1v1h-1zM197.8 89.5h1v1h-1zM195.8 73.7h1v1h-1zM194.4 51.9h1v1h-1zM200.3 104.4h1v1h-1zM196.9 90.7h1v1h-1zM197.1 104.3h1v1h-1zM210.0 92.5h1v1h-1zM197.7 52.2h1v1h-1zM190.0 58.7h1v1h-1zM191.5 62.7h1v1h-1zM192.5 74.2h1v1h-1zM187.1 82.2h1v1h-1zM204.2 67.0h1v1h-1zM209.1 107.7h1v1h-1zM193.3 55.7h1v1h-1zM203.1 75.6h1v1h-1zM192.6 74.6h1v1h-1zM193.0 94.8h1v1h-1zM186.2 79.7h1v1h-1zM196.9 59.4h1v1h-1zM205.1 73.3h1v1h-1zM205.3 88.9h1v1h-1zM200.7 104.1h1v1h-1zM195.6 101.7h1v1h-1zM205.0 66.1h1v1h-1zM208.4 102.8h1v1h-1zM192.5 105.0h1v1h-1zM199.0 78.4h1v1h-1zM197.0 79.8h1v1h-1zM193.3 73.5h1v1h-1zM189.9 89.4h1v1h-1zM192.1 105.2h1v1h-1zM198.0 94.9h1v1h-1zM199.0 81.0h1v1h-1zM198.2 68.9h1v1h-1zM205.5 102.1h1v1h-1zM193.0 85.8h1v1h-1zM189.4 99.7h1v1h-1zM189.9 84.6h1v1h-1zM199.9 70.0h1v1h-1zM193.9 99.8h1v1h-1zM186.9 105.9h1v1h-1zM203.2 73.8h1v1h-1zM206.2 99.6h1v1h-1zM198.5 75.6h1v1h-1zM201.4 99.3h1v1h-1zM188.5 66.8h1v1h-1zM188.4 94.5h1v1h-1zM198.4 104.6h1v1h-1zM198.7 76.4h1v1h-1zM196.1 52.7h1v1h-1zM195.5 106.0h1v1h-1zM193.4 85.8h1v1h-1zM206.5 67.0h1v1h-1zM191.9 55.8h1v1h-1zM196.5 71.8h1v1h-1zM203.9 87.0h1v1h-1zM190.9 78.6h1v1h-1zM198.3 68.8h1v1h-1zM196.6 84.9h1v1h-1zM201.3 94.9h1v1h-1zM181.9 74.8h1v1h-1zM195.5 94.3h1v1h-1zM192.4 107.4h1v1h-1zM204.3 57.3h1v1h-1zM197.0 65.2h1v1h-1zM193.8 92.7h1v1h-1zM203.0 95.1h1v1h-1zM201.4 99.1h1v1h-1zM203.8 72.4h1v1h-1zM204.2 99.1h1v1h-1zM202.2 107.7h1v1h-1zM193.7 61.9h1v1h-1zM199.2 107.2h1v1h-1zM199.2 102.5h1v1h-1zM199.6 72.2h1v1h-1zM199.5 88.2h1v1h-1zM197.9 89.3h1v1h-1zM194.7 61.3h1v1h-1zM196.9 72.5h1v1h-1zM191.1 69.4h1v1h-1zM191.7 100.3h1v1h-1zM201.9 105.2h1v1h-1zM195.3 54.2h1v1h-1zM197.9 101.5h1v1h-1zM193.9 88.8h1v1h-1zM187.0 94.0h1v1h-1zM194.8 95.4h1v1h-1zM207.6 95.7h1v1h-1zM196.7 93.7h1v1h-1zM193.0 73.5h1v1h-1zM201.7 107.7h1v1h-1zM194.3 69.1h1v1h-1zM193.5 101.7h1v1h-1zM187.4 84.3h1v1h-1zM186.5 58.5h1v1h-1zM200.0 80.5h1v1h-1zM198.2 60.6h1v1h-1zM197.6 100.0h1v1h-1zM201.7 92.9h1v1h-1zM194.4 95.2h1v1h-1zM197.5 103.6h1v1h-1zM191.8 102.7h1v1h-1zM191.9 96.2h1v1h-1zM192.6 103.5h1v1h-1zM203.5 107.7h1v1h-1zM201.8 100.7h1v1h-1zM191.0 61.4h1v1h-1zM195.3 67.9h1v1h-1zM198.1 97.4h1v1h-1zM192.2 71.0h1v1h-1zM201.6 92.3h1v1h-1zM192.4 73.0h1v1h-1zM195.2 86.6h1v1h-1zM195.2 107.7h1v1h-1zM185.6 96.5h1v1h-1zM186.2 74.4h1v1h-1zM191.9 53.9h1v1h-1zM204.8 91.1h1v1h-1zM201.0 81.7h1v1h-1zM200.2 104.5h1v1h-1zM193.4 95.4h1v1h-1zM194.4 90.9h1v1h-1zM197.6 84.4h1v1h-1zM199.0 94.4h1v1h-1zM187.7 88.1h1v1h-1zM192.8 66.7h1v1h-1zM192.4 101.7h1v1h-1zM205.6 69.3h1v1h-1zM193.9 62.2h1v1h-1zM192.1 73.4h1v1h-1zM202.5 84.3h1v1h-1zM194.5 76.5h1v1h-1zM203.2 56.8h1v1h-1zM191.2 84.5h1v1h-1zM209.2 95.2h1v1h-1zM196.8 102.7h1v1h-1zM198.2 52.9h1v1h-1zM195.8 70.4h1v1h-1zM197.0 64.3h1v1h-1zM197.4 76.2h1v1h-1zM195.2 62.3h1v1h-1zM205.2 77.0h1v1h-1zM183.0 85.7h1v1h-1zM189.6 62.2h1v1h-1zM194.9 98.0h1v1h-1zM196.5 57.2h1v1h-1zM206.4 78.3h1v1h-1zM200.8 88.8h1v1h-1zM197.3 102.7h1v1h-1zM192.2 72.4h1v1h-1zM209.7 57.7h1v1h-1zM202.8 96.7h1v1h-1zM213.5 105.6h1v1h-1zM187.9 72.7h1v1h-1zM208.2 94.9h1v1h-1zM196.7 105.0h1v1h-1zM191.9 61.1h1v1h-1zM198.1 105.8h1v1h-1zM198.1 55.2h1v1h-1zM195.3 77.8h1v1h-1zM188.1 78.7h1v1h-1zM195.1 96.5h1v1h-1zM189.2 100.0h1v1h-1zM197.9 105.2h1v1h-1zM188.7 90.6h1v1h-1zM198.7 104.3h1v1h-1zM194.7 96.0h1v1h-1zM203.4 59.6h1v1h-1zM192.3 100.3h1v1h-1zM188.7 69.4h1v1h-1zM188.4 81.5h1v1h-1zM199.0 57.6h1v1h-1zM222.2 90.6h1v1h-1zM188.5 83.5h1v1h-1zM193.3 85.9h1v1h-1zM207.0 94.4h1v1h-1zM201.4 74.8h1v1h-1zM205.3 59.8h1v1h-1zM199.2 71.5h1v1h-1zM200.3 67.5h1v1h-1zM197.5 66.7h1v1h-1zM190.1 57.6h1v1h-1zM198.5 69.2h1v1h-1zM191.0 71.8h1v1h-1zM201.1 94.4h1v1h-1zM179.9 102.8h1v1h-1zM183.9 65.5h1v1h-1zM196.1 84.5h1v1h-1zM197.6 92.7h1v1h-1zM208.7 66.5h1v1h-1zM191.7 79.6h1v1h-1zM200.9 104.5h1v1h-1zM185.4 94.4h1v1h-1zM211.9 74.0h1v1h-1zM180.3 79.5h1v1h-1zM206.4 74.4h1v1h-1zM194.4 79.0h1v1h-1zM185.2 95.6h1v1h-1zM193.0 64.7h1v1h-1zM202.2 85.3h1v1h-1zM195.6 73.0h1v1h-1zM191.2 89.6h1v1h-1zM197.6 83.5h1v1h-1zM196.4 56.5h1v1h-1zM202.3 96.8h1v1h-1zM200.8 83.9h1v1h-1zM193.4 75.9h1v1h-1zM191.5 54.5h1v1h-1zM196.7 57.2h1v1h-1zM195.4 101.7h1v1h-1zM198.1 84.6h1v1h-1zM189.9 76.2h1v1h-1zM197.2 102.6h1v1h-1zM191.2 76.1h1v1h-1zM200.0 57.4h1v1h-1zM198.1 90.9h1v1h-1zM194.8 81.3h1v1h-1zM186.4 89.1h1v1h-1zM203.5 79.0h1v1h-1zM191.0 65.5h1v1h-1zM193.4 74.7h1v1h-1zM195.9 97.6h1v1h-1zM199.0 85.8h1v1h-1zM192.9 88.7h1v1h-1zM193.1 100.4h1v1h-1zM187.4 95.9h1v1h-1zM203.0 68.8h1v1h-1zM193.3 73.1h1v1h-1zM193.5 72.5h1v1h-1zM183.2 74.0h1v1h-1zM192.7 94.4h1v1h-1zM202.0 100.6h1v1h-1zM203.2 58.3h1v1h-1zM189.9 68.7h1v1h-1zM196.8 91.4h1v1h-1zM200.5 79.7h1v1h-1zM187.4 97.4h1v1h-1zM194.1 84.7h1v1h-1zM201.0 102.5h1v1h-1zM203.5 98.0h1v1h-1zM187.3 79.1h1v1h-1zM189.5 77.1h1v1h-1zM203.9 68.1h1v1h-1zM193.9 95.4h1v1h-1zM198.8 106.3h1v1h-1zM189.1 105.0h1v1h-1zM203.9 82.4h1v1h-1zM199.0 102.8h1v1h-1zM205.5 55.3h1v1h-1zM190.5 74.1h1v1h-1zM193.0 58.3h1v1h-1zM188.8 83.3h1v1h-1zM188.6 54.8h1v1h-1zM188.0 82.5h1v1h-1zM197.4 63.6h1v1h-1zM190.4 104.1h1v1h-1zM196.0 98.1h1v1h-1zM191.7 74.4h1v1h-1zM198.3 86.6h1v1h-1zM201.3 90.3h1v1h-1zM201.1 83.8h1v1h-1zM201.6 99.8h1v1h-1zM195.2 87.8h1v1h-1zM200.5 78.7h1v1h-1zM194.4 71.1h1v1h-1zM190.9 59.1h1v1h-1zM188.2 59.2h1v1h-1zM195.8 67.1h1v1h-1zM197.8 85.8h1v1h-1zM206.5 92.2h1v1h-1zM193.1 55.6h1v1h-1zM205.5 107.4h1v1h-1zM186.3 105.5h1v1h-1zM195.7 89.6h1v1h-1zM211.2 107.7h1v1h-1zM194.2 57.1h1v1h-1zM190.6 66.8h1v1h-1zM189.9 60.7h1v1h-1zM210.5 94.5h1v1h-1zM204.3 102.0h1v1h-1zM192.9 107.0h1v1h-1zM193.5 84.1h1v1h-1zM180.7 76.4h1v1h-1zM195.3 58.7h1v1h-1zM206.3 61.2h1v1h-1zM184.2 74.8h1v1h-1zM203.3 69.7h1v1h-1zM200.5 107.7h1v1h-1zM206.6 66.1h1v1h-1zM193.2 54.0h1v1h-1zM198.3 59.3h1v1h-1zM205.3 54.4h1v1h-1zM199.8 53.6h1v1h-1zM201.2 60.8h1v1h-1zM194.7 100.0h1v1h-1zM195.6 93.2h1v1h-1zM193.0 58.2h1v1h-1zM197.5 82.6h1v1h-1zM197.0 81.3h1v1h-1zM195.2 101.0h1v1h-1zM183.2 84.2h1v1h-1zM187.8 105.4h1v1h-1zM196.3 105.5h1v1h-1zM204.2 90.0h1v1h-1zM191.1 95.3h1v1h-1zM193.4 94.7h1v1h-1zM196.5 107.7h1v1h-1zM202.9 85.6h1v1h-1zM207.4 61.7h1v1h-1zM198.6 78.9h1v1h-1zM196.8 85.5h1v1h-1zM191.7 69.8h1v1h-1zM199.3 63.5h1v1h-1zM194.9 96.0h1v1h-1zM197.8 104.8h1v1h-1zM191.1 88.8h1v1h-1zM203.7 74.2h1v1h-1zM194.2 107.7h1v1h-1zM187.0 90.2h1v1h-1zM196.6 106.7h1v1h-1zM189.7 103.1h1v1h-1zM200.2 78.4h1v1h-1zM205.2 87.4h1v1h-1zM200.3 74.5h1v1h-1zM195.8 81.8h1v1h-1zM191.5 88.0h1v1h-1zM193.7 72.9h1v1h-1zM210.4 78.6h1v1h-1zM203.6 96.3h1v1h-1zM190.4 96.2h1v1h-1zM190.9 58.8h1v1h-1zM199.3 57.3h1v1h-1zM197.6 99.8h1v1h-1zM197.7 75.6h1v1h-1zM200.9 103.3h1v1h-1zM190.2 68.5h1v1h-1zM191.9 58.8h1v1h-1zM203.5 103.4h1v1h-1zM199.1 78.9h1v1h-1zM195.5 87.9h1v1h-1zM196.5 70.3h1v1h-1zM201.2 87.0h1v1h-1zM199.1 93.9h1v1h-1zM192.9 107.7h1v1h-1zM189.8 54.4h1v1h-1zM202.2 105.3h1v1h-1zM189.5 85.6h1v1h-1zM210.1 65.7h1v1h-1zM189.9 107.7h1v1h-1zM193.3 92.4h1v1h-1zM204.1 63.3h1v1h-1zM206.4 92.8h1v1h-1zM197.6 101.2h1v1h-1zM180.3 77.4h1v1h-1zM196.4 55.7h1v1h-1zM183.9 56.2h1v1h-1zM194.0 56.0h1v1h-1zM202.6 106.2h1v1h-1zM202.2 81.0h1v1h-1zM198.0 54.1h1v1h-1zM198.8 53.6h1v1h-1zM201.2 88.3h1v1h-1zM194.7 95.0h1v1h-1zM194.9 102.0h1v1h-1zM204.9 58.2h1v1h-1zM200.3 83.4h1v1h-1zM204.9 69.3h1v1h-1zM199.8 106.2h1v1h-1zM199.7 101.7h1v1h-1zM202.5 61.6h1v1h-1zM201.8 107.7h1v1h-1zM208.1 83.2h1v1h-1zM201.0 103.3h1v1h-1zM194.3 62.5h1v1h-1zM194.8 69.3h1v1h-1zM191.3 62.7h1v1h-1zM198.7 74.4h1v1h-1zM192.8 89.6h1v1h-1zM189.0 65.3h1v1h-1zM201.3 68.7h1v1h-1zM206.6 96.5h1v1h-1zM187.1 94.8h1v1h-1zM203.4 90.4h1v1h-1zM198.6 88.9h1v1h-1zM190.8 107.7h1v1h-1zM176.4 65.2h1v1h-1zM178.2 64.2h1v1h-1zM182.5 74.0h1v1h-1zM178.6 77.1h1v1h-1zM179.0 83.3h1v1h-1zM183.2 59.5h1v1h-1zM181.8 78.1h1v1h-1zM178.4 70.5h1v1h-1zM177.4 61.6h1v1h-1zM183.3 63.9h1v1h-1zM184.3 77.8h1v1h-1zM183.6 60.0h1v1h-1zM183.2 76.2h1v1h-1zM179.6 83.1h1v1h-1zM177.3 69.3h1v1h-1zM180.6 79.9h1v1h-1zM180.2 84.5h1v1h-1zM178.1 74.7h1v1h-1zM181.9 88.5h1v1h-1zM193.6 60.3h1v1h-1zM178.6 83.0h1v1h-1zM179.3 88.3h1v1h-1zM184.0 63.7h1v1h-1zM177.6 79.7h1v1h-1zM179.0 69.6h1v1h-1zM178.9 68.1h1v1h-1zM180.6 71.0h1v1h-1zM184.4 71.2h1v1h-1zM183.2 79.6h1v1h-1zM175.4 88.4h1v1h-1zM179.4 69.6h1v1h-1zM176.4 54.1h1v1h-1zM182.2 83.1h1v1h-1zM178.7 78.7h1v1h-1zM185.5 69.8h1v1h-1zM189.3 56.7h1v1h-1zM179.5 85.6h1v1h-1zM181.7 75.9h1v1h-1zM184.2 74.1h1v1h-1zM177.8 78.8h1v1h-1zM175.4 72.9h1v1h-1zM182.9 88.5h1v1h-1zM182.2 88.2h1v1h-1zM175.4 62.1h1v1h-1zM180.4 57.2h1v1h-1zM178.5 88.8h1v1h-1zM177.9 88.2h1v1h-1zM180.9 72.5h1v1h-1zM175.4 68.7h1v1h-1zM175.4 82.1h1v1h-1zM186.2 82.8h1v1h-1zM183.5 83.9h1v1h-1zM180.3 90.3h1v1h-1zM181.2 78.7h1v1h-1zM182.1 73.9h1v1h-1zM180.9 66.4h1v1h-1zM191.0 81.0h1v1h-1zM178.2 71.9h1v1h-1zM183.4 58.3h1v1h-1zM175.7 88.9h1v1h-1zM183.5 57.0h1v1h-1zM188.5 90.9h1v1h-1zM180.5 90.2h1v1h-1zM177.4 72.8h1v1h-1zM175.4 69.4h1v1h-1zM185.7 60.2h1v1h-1zM177.7 84.5h1v1h-1zM181.7 80.6h1v1h-1zM183.9 59.4h1v1h-1zM176.6 81.3h1v1h-1zM181.1 53.8h1v1h-1zM186.7 70.5h1v1h-1zM177.1 69.7h1v1h-1zM179.5 64.2h1v1h-1zM180.9 84.4h1v1h-1zM175.4 67.4h1v1h-1zM178.9 56.7h1v1h-1zM184.8 57.4h1v1h-1zM189.7 84.2h1v1h-1zM176.7 77.8h1v1h-1zM181.1 61.0h1v1h-1zM182.4 70.5h1v1h-1zM179.6 77.7h1v1h-1zM178.2 54.3h1v1h-1zM179.9 85.5h1v1h-1zM178.9 76.3h1v1h-1zM177.2 71.3h1v1h-1zM179.8 55.4h1v1h-1zM180.3 83.9h1v1h-1zM175.4 55.7h1v1h-1zM181.5 84.6h1v1h-1zM180.0 80.9h1v1h-1zM181.2 76.5h1v1h-1zM175.4 67.1h1v1h-1zM189.6 70.1h1v1h-1zM180.9 79.4h1v1h-1zM175.4 82.6h1v1h-1zM185.6 62.6h1v1h-1zM183.7 86.2h1v1h-1zM178.5 73.6h1v1h-1zM186.3 76.7h1v1h-1zM183.3 81.1h1v1h-1zM176.5 73.9h1v1h-1zM178.0 67.1h1v1h-1zM182.7 73.6h1v1h-1zM188.1 66.9h1v1h-1zM179.0 72.1h1v1h-1zM187.1 73.8h1v1h-1zM181.7 84.0h1v1h-1zM177.7 63.8h1v1h-1zM186.8 57.7h1v1h-1zM177.0 70.1h1v1h-1zM180.1 71.2h1v1h-1zM175.4 81.1h1v1h-1zM179.5 71.0h1v1h-1zM184.5 72.1h1v1h-1zM175.4 67.8h1v1h-1zM175.4 59.2h1v1h-1zM187.8 71.9h1v1h-1zM183.8 86.1h1v1h-1zM177.7 72.7h1v1h-1zM180.6 81.2h1v1h-1zM189.4 67.0h1v1h-1zM175.7 51.5h1v1h-1zM185.3 91.7h1v1h-1zM183.4 79.4h1v1h-1zM182.6 57.3h1v1h-1zM180.6 89.5h1v1h-1zM184.4 87.4h1v1h-1zM176.9 63.4h1v1h-1zM181.4 78.2h1v1h-1zM187.0 82.8h1v1h-1zM180.2 64.5h1v1h-1zM181.6 64.2h1v1h-1zM184.9 89.6h1v1h-1zM175.4 77.2h1v1h-1zM175.4 84.0h1v1h-1zM187.1 85.0h1v1h-1zM182.4 85.3h1v1h-1zM183.2 73.8h1v1h-1zM179.0 71.7h1v1h-1zM181.3 81.5h1v1h-1zM184.5 59.7h1v1h-1zM180.6 56.1h1v1h-1zM178.5 86.9h1v1h-1zM177.0 54.3h1v1h-1zM175.4 93.3h1v1h-1zM175.4 56.7h1v1h-1zM179.1 58.3h1v1h-1zM178.9 63.5h1v1h-1zM191.9 80.5h1v1h-1zM178.1 82.4h1v1h-1zM175.8 56.5h1v1h-1zM189.3 81.2h1v1h-1zM177.7 63.3h1v1h-1zM179.4 85.2h1v1h-1zM185.3 60.3h1v1h-1zM185.4 67.2h1v1h-1zM185.5 59.0h1v1h-1zM184.0 90.2h1v1h-1zM176.8 56.6h1v1h-1zM178.1 80.6h1v1h-1zM179.0 83.2h1v1h-1zM183.9 72.5h1v1h-1zM179.9 75.9h1v1h-1zM185.9 76.3h1v1h-1zM182.3 76.1h1v1h-1zM182.6 66.4h1v1h-1zM175.4 67.5h1v1h-1zM181.9 61.3h1v1h-1zM176.6 64.3h1v1h-1zM185.2 66.9h1v1h-1zM180.5 62.9h1v1h-1zM184.5 78.7h1v1h-1zM184.2 71.0h1v1h-1zM178.8 84.8h1v1h-1zM178.1 71.3h1v1h-1zM186.0 82.1h1v1h-1zM187.2 78.1h1v1h-1zM177.7 71.5h1v1h-1zM175.4 63.1h1v1h-1zM185.1 55.0h1v1h-1zM175.4 76.2h1v1h-1zM181.1 71.3h1v1h-1zM175.4 61.3h1v1h-1zM186.1 54.3h1v1h-1zM183.0 85.7h1v1h-1zM179.5 59.5h1v1h-1zM175.8 61.5h1v1h-1zM175.4 91.4h1v1h-1zM180.9 89.4h1v1h-1zM184.3 86.8h1v1h-1zM182.3 69.4h1v1h-1zM175.4 66.4h1v1h-1zM184.6 62.3h1v1h-1zM182.8 88.6h1v1h-1zM175.4 77.2h1v1h-1zM175.4 65.6h1v1h-1zM176.9 80.8h1v1h-1zM186.8 76.6h1v1h-1zM178.5 56.9h1v1h-1zM189.2 76.1h1v1h-1zM186.9 90.3h1v1h-1zM175.4 72.3h1v1h-1zM180.2 57.0h1v1h-1zM196.2 78.7h1v1h-1zM181.3 75.5h1v1h-1zM184.5 65.1h1v1h-1zM183.0 60.9h1v1h-1zM180.1 66.7h1v1h-1zM178.1 65.5h1v1h-1zM182.6 86.6h1v1h-1zM183.3 58.4h1v1h-1zM184.0 65.5h1v1h-1zM185.2 68.5h1v1h-1zM176.4 74.9h1v1h-1zM177.2 87.1h1v1h-1zM184.8 82.9h1v1h-1zM182.0 55.9h1v1h-1zM175.4 84.5h1v1h-1zM177.0 77.8h1v1h-1zM192.0 90.1h1v1h-1zM179.7 73.4h1v1h-1zM180.1 61.9h1v1h-1zM182.9 59.5h1v1h-1zM183.4 86.9h1v1h-1zM175.4 58.3h1v1h-1zM178.1 57.5h1v1h-1zM188.2 79.1h1v1h-1zM176.9 88.9h1v1h-1zM181.5 54.9h1v1h-1zM187.7 74.9h1v1h-1zM180.8 82.3h1v1h-1zM180.9 76.6h1v1h-1zM177.2 76.2h1v1h-1zM177.8 82.8h1v1h-1zM186.3 64.3h1v1h-1zM183.9 69.3h1v1h-1zM182.4 80.2h1v1h-1zM179.0 73.1h1v1h-1zM188.6 63.9h1v1h-1zM189.2 81.9h1v1h-1zM182.0 55.1h1v1h-1zM177.5 69.5h1v1h-1zM176.4 64.8h1v1h-1zM191.4 81.2h1v1h-1zM192.9 68.5h1v1h-1zM178.3 81.6h1v1h-1zM182.1 75.8h1v1h-1zM175.4 72.5h1v1h-1zM177.6 88.3h1v1h-1zM189.9 64.7h1v1h-1zM184.8 79.0h1v1h-1zM185.0 75.4h1v1h-1zM179.7 78.7h1v1h-1zM176.6 67.5h1v1h-1zM179.8 66.6h1v1h-1zM186.3 66.6h1v1h-1zM183.0 54.7h1v1h-1zM184.1 84.3h1v1h-1zM184.2 62.3h1v1h-1zM177.9 83.6h1v1h-1zM181.7 89.7h1v1h-1zM177.1 58.2h1v1h-1zM176.4 65.3h1v1h-1zM183.4 60.3h1v1h-1zM175.4 69.4h1v1h-1zM187.9 66.9h1v1h-1zM182.2 63.2h1v1h-1zM175.4 58.2h1v1h-1zM178.6 61.5h1v1h-1zM176.3 84.0h1v1h-1zM185.4 83.6h1v1h-1zM183.7 85.7h1v1h-1zM181.4 54.1h1v1h-1zM188.7 76.2h1v1h-1zM181.4 72.9h1v1h-1zM180.1 61.6h1v1h-1zM177.0 83.2h1v1h-1zM175.7 73.4h1v1h-1zM182.9 64.7h1v1h-1zM184.9 78.5h1v1h-1zM180.8 78.8h1v1h-1zM182.5 85.3h1v1h-1zM181.4 65.4h1v1h-1zM188.9 79.6h1v1h-1zM182.2 81.2h1v1h-1zM186.4 83.3h1v1h-1zM180.4 62.1h1v1h-1zM177.3 60.9h1v1h-1zM175.4 58.8h1v1h-1zM176.2 75.0h1v1h-1zM183.0 82.2h1v1h-1zM176.6 60.9h1v1h-1zM186.0 56.3h1v1h-1zM179.3 63.1h1v1h-1zM175.4 69.9h1v1h-1zM181.8 73.2h1v1h-1zM178.8 54.8h1v1h-1zM189.5 82.8h1v1h-1zM177.5 105.8h1v1h-1zM189.1 107.7h1v1h-1zM189.1 106.2h1v1h-1zM180.3 98.6h1v1h-1zM180.2 107.7h1v1h-1zM185.7 106.9h1v1h-1zM175.4 105.3h1v1h-1zM187.7 93.8h1v1h-1zM189.2 98.9h1v1h-1zM183.5 101.0h1v1h-1zM182.8 106.0h1v1h-1zM178.9 94.7h1v1h-1zM177.8 97.2h1v1h-1zM184.3 93.1h1v1h-1zM183.9 104.1h1v1h-1zM179.3 98.4h1v1h-1zM187.6 107.7h1v1h-1zM180.4 95.2h1v1h-1zM187.4 106.9h1v1h-1zM177.2 102.3h1v1h-1zM184.1 90.9h1v1h-1zM185.6 107.7h1v1h-1zM187.6 105.8h1v1h-1zM180.8 102.4h1v1h-1zM182.6 90.1h1v1h-1zM183.0 107.7h1v1h-1zM188.2 103.0h1v1h-1zM177.7 98.3h1v1h-1zM181.2 104.1h1v1h-1zM175.4 95.1h1v1h-1zM191.0 100.3h1v1h-1zM183.4 107.7h1v1h-1zM180.6 100.3h1v1h-1zM181.8 104.0h1v1h-1zM186.4 93.3h1v1h-1zM180.7 103.6h1v1h-1zM183.8 99.5h1v1h-1zM175.4 102.3h1v1h-1zM175.7 98.3h1v1h-1zM188.5 106.4h1v1h-1zM182.6 107.7h1v1h-1zM175.4 98.0h1v1h-1zM182.9 106.7h1v1h-1zM186.4 99.3h1v1h-1zM190.5 107.5h1v1h-1zM178.3 93.9h1v1h-1zM183.3 90.6h1v1h-1zM178.1 107.7h1v1h-1zM175.4 97.1h1v1h-1zM177.1 101.7h1v1h-1zM182.0 101.0h1v1h-1zM179.5 87.1h1v1h-1zM181.0 105.0h1v1h-1zM179.7 107.5h1v1h-1zM183.4 106.5h1v1h-1zM194.0 104.3h1v1h-1zM185.3 92.0h1v1h-1zM187.6 94.6h1v1h-1zM192.6 104.4h1v1h-1zM175.4 103.9h1v1h-1zM175.9 94.6h1v1h-1zM178.1 99.4h1v1h-1zM175.5 95.3h1v1h-1zM188.0 99.1h1v1h-1zM176.1 103.3h1v1h-1zM178.8 95.1h1v1h-1zM187.3 106.9h1v1h-1zM177.9 98.6h1v1h-1zM183.7 98.4h1v1h-1zM186.7 105.1h1v1h-1zM178.9 107.7h1v1h-1zM188.6 99.9h1v1h-1zM185.8 104.8h1v1h-1zM184.6 104.2h1v1h-1zM181.6 107.7h1v1h-1zM177.3 103.9h1v1h-1zM192.5 99.1h1v1h-1zM179.4 102.3h1v1h-1zM181.0 101.3h1v1h-1zM181.8 105.1h1v1h-1zM181.6 102.1h1v1h-1zM185.4 91.6h1v1h-1zM178.4 92.7h1v1h-1zM182.3 90.6h1v1h-1zM187.5 104.7h1v1h-1zM176.8 107.6h1v1h-1zM182.2 98.1h1v1h-1zM175.8 91.5h1v1h-1zM181.6 107.6h1v1h-1zM183.6 100.3h1v1h-1zM178.0 106.7h1v1h-1zM192.3 102.1h1v1h-1zM175.4 98.9h1v1h-1zM188.5 101.3h1v1h-1zM181.6 107.7h1v1h-1zM184.1 97.8h1v1h-1zM177.2 97.0h1v1h-1zM185.6 101.1h1v1h-1zM184.6 101.4h1v1h-1zM175.4 101.5h1v1h-1zM181.5 94.2h1v1h-1zM181.2 104.5h1v1h-1zM186.8 92.5h1v1h-1zM176.0 98.3h1v1h-1zM186.3 102.6h1v1h-1zM184.1 100.1h1v1h-1zM190.4 88.9h1v1h-1zM175.4 97.4h1v1h-1zM187.5 91.4h1v1h-1zM175.4 96.6h1v1h-1zM222.1 82.4h1v1h-1zM217.9 93.1h1v1h-1zM236.4 94.1h1v1h-1zM231.7 80.7h1v1h-1zM226.4 81.4h1v1h-1zM214.5 107.1h1v1h-1zM218.3 79.3h1v1h-1zM225.3 102.4h1v1h-1zM217.3 89.4h1v1h-1zM216.4 81.2h1v1h-1zM224.4 85.1h1v1h-1zM223.4 84.0h1v1h-1zM211.6 84.0h1v1h-1zM227.3 91.2h1v1h-1zM221.4 70.8h1v1h-1zM236.4 97.9h1v1h-1zM220.9 92.0h1v1h-1zM220.2 79.6h1v1h-1zM215.9 72.1h1v1h-1zM225.8 104.0h1v1h-1zM218.7 71.8h1v1h-1zM222.0 90.5h1v1h-1zM229.1 92.9h1v1h-1zM231.5 75.6h1v1h-1zM223.1 99.2h1v1h-1zM219.2 72.2h1v1h-1zM220.2 70.0h1v1h-1zM213.6 75.0h1v1h-1zM231.2 79.2h1v1h-1zM225.9 101.1h1v1h-1zM211.6 75.4h1v1h-1zM212.4 106.0h1v1h-1zM216.4 89.2h1v1h-1zM232.9 97.3h1v1h-1zM210.9 92.5h1v1h-1zM220.5 80.0h1v1h-1zM222.3 84.4h1v1h-1zM213.2 91.9h1v1h-1zM218.9 91.5h1v1h-1zM232.4 107.1h1v1h-1zM229.7 78.4h1v1h-1zM210.5 74.1h1v1h-1zM224.1 75.2h1v1h-1zM221.1 74.3h1v1h-1zM229.3 85.6h1v1h-1zM212.1 90.6h1v1h-1zM221.7 106.6h1v1h-1zM226.2 88.4h1v1h-1zM212.9 81.2h1v1h-1zM220.8 88.7h1v1h-1zM220.7 107.1h1v1h-1zM224.2 82.3h1v1h-1zM216.7 78.7h1v1h-1zM240.4 92.2h1v1h-1zM226.0 94.5h1v1h-1zM213.3 94.6h1v1h-1zM215.2 93.6h1v1h-1zM213.0 97.3h1v1h-1zM221.9 105.6h1v1h-1zM221.6 105.8h1v1h-1zM226.5 97.7h1v1h-1zM223.4 91.3h1v1h-1zM216.1 79.4h1v1h-1zM217.8 81.3h1v1h-1zM225.5 73.9h1v1h-1zM226.7 81.8h1v1h-1zM211.6 89.0h1v1h-1zM217.4 95.7h1v1h-1zM227.3 75.6h1v1h-1zM216.5 100.9h1v1h-1zM222.0 85.6h1v1h-1zM214.8 69.0h1v1h-1zM229.6 90.7h1v1h-1zM218.9 78.2h1v1h-1zM217.8 78.7h1v1h-1zM224.6 86.7h1v1h-1zM220.2 76.4h1v1h-1zM223.4 87.9h1v1h-1zM230.5 89.1h1v1h-1zM221.4 98.4h1v1h-1zM222.1 78.1h1v1h-1zM232.7 75.3h1v1h-1zM220.4 107.7h1v1h-1zM220.1 81.2h1v1h-1zM228.3 100.6h1v1h-1zM212.5 86.0h1v1h-1zM230.4 83.7h1v1h-1zM220.5 107.7h1v1h-1zM216.7 95.9h1v1h-1zM218.2 83.1h1v1h-1zM216.2 85.0h1v1h-1zM226.7 94.7h1v1h-1zM217.1 86.0h1v1h-1zM206.1 92.9h1v1h-1zM216.5 84.3h1v1h-1zM226.3 86.1h1v1h-1zM219.5 90.2h1v1h-1zM216.5 85.8h1v1h-1zM213.3 74.1h1v1h-1zM229.6 88.6h1v1h-1zM216.9 77.8h1v1h-1zM225.5 83.7h1v1h-1zM206.3 83.0h1v1h-1zM218.9 77.1h1v1h-1zM214.5 106.3h1v1h-1zM219.0 72.6h1v1h-1zM222.2 99.3h1v1h-1zM217.9 75.2h1v1h-1zM223.9 82.6h1v1h-1zM229.4 96.2h1v1h-1zM221.8 87.7h1v1h-1zM212.5 89.5h1v1h-1zM228.3 106.3h1v1h-1zM215.9 94.0h1v1h-1zM221.0 99.9h1v1h-1zM229.0 89.5h1v1h-1zM222.0 88.3h1v1h-1zM220.0 87.9h1v1h-1zM219.5 103.7h1v1h-1zM212.0 56.4h1v1h-1zM218.0 91.5h1v1h-1zM212.0 92.6h1v1h-1zM224.3 70.8h1v1h-1zM217.7 89.8h1v1h-1zM221.0 85.1h1v1h-1zM228.9 78.0h1v1h-1zM227.1 89.5h1v1h-1zM223.4 76.3h1v1h-1zM227.3 102.0h1v1h-1zM226.4 74.7h1v1h-1zM221.1 75.6h1v1h-1zM225.8 83.0h1v1h-1zM231.4 87.2h1v1h-1zM219.2 93.8h1v1h-1zM223.0 90.4h1v1h-1zM209.4 88.1h1v1h-1zM214.9 61.8h1v1h-1zM222.0 83.0h1v1h-1zM218.0 86.5h1v1h-1zM222.9 96.7h1v1h-1zM219.1 77.1h1v1h-1zM219.8 91.2h1v1h-1zM220.8 83.4h1v1h-1zM216.6 79.4h1v1h-1zM226.1 87.1h1v1h-1zM215.8 85.2h1v1h-1zM221.5 88.6h1v1h-1zM230.5 86.6h1v1h-1zM222.1 96.2h1v1h-1zM216.6 95.4h1v1h-1zM175.4 94.1h1v1h-1zM180.6 41.4h1v1h-1zM180.3 83.6h1v1h-1zM179.1 64.1h1v1h-1zM177.6 81.4h1v1h-1zM181.5 77.0h1v1h-1zM176.4 71.9h1v1h-1zM177.8 54.9h1v1h-1zM175.4 76.5h1v1h-1zM177.7 77.9h1v1h-1zM179.9 87.5h1v1h-1zM176.3 79.3h1v1h-1zM179.1 61.1h1v1h-1zM175.4 106.7h1v1h-1zM178.4 107.7h1v1h-1zM181.0 72.6h1v1h-1zM176.7 53.4h1v1h-1zM177.1 107.7h1v1h-1zM179.7 107.7h1v1h-1zM179.6 92.9h1v1h-1zM177.2 48.7h1v1h-1zM177.8 107.7h1v1h-1zM177.4 99.5h1v1h-1zM179.4 66.6h1v1h-1zM178.8 33.6h1v1h-1zM177.9 106.2h1v1h-1zM175.7 66.9h1v1h-1zM175.4 81.3h1v1h-1zM175.4 91.8h1v1h-1zM178.2 100.3h1v1h-1zM184.1 74.8h1v1h-1zM178.7 91.6h1v1h-1zM179.3 85.0h1v1h-1zM177.2 76.2h1v1h-1zM178.2 89.8h1v1h-1zM175.4 75.2h1v1h-1zM177.5 75.2h1v1h-1zM175.4 76.2h1v1h-1zM178.6 49.5h1v1h-1zM175.4 66.6h1v1h-1zM179.6 57.5h1v1h-1zM177.3 92.0h1v1h-1zM178.8 49.5h1v1h-1zM178.3 107.7h1v1h-1zM175.4 81.7h1v1h-1zM175.4 78.0h1v1h-1zM179.7 54.2h1v1h-1zM178.3 68.9h1v1h-1zM179.2 107.7h1v1h-1zM182.0 79.6h1v1h-1zM178.9 48.0h1v1h-1zM181.0 94.7h1v1h-1zM177.0 107.7h1v1h-1zM175.9 69.5h1v1h-1zM177.8 77.4h1v1h-1zM177.7 107.7h1v1h-1zM178.1 33.6h1v1h-1zM179.2 101.8h1v1h-1zM179.3 65.9h1v1h-1zM180.3 86.3h1v1h-1zM176.5 102.0h1v1h-1zM175.9 94.2h1v1h-1zM178.4 88.8h1v1h-1zM179.2 103.3h1v1h-1zM178.1 66.2h1v1h-1zM178.0 82.2h1v1h-1zM181.6 64.3h1v1h-1zM178.5 85.2h1v1h-1zM175.4 69.4h1v1h-1zM176.3 60.7h1v1h-1zM181.1 60.7h1v1h-1zM179.3 96.6h1v1h-1zM175.4 44.8h1v1h-1zM175.4 52.7h1v1h-1zM178.2 42.5h1v1h-1zM176.6 54.2h1v1h-1zM178.4 42.1h1v1h-1zM175.4 52.0h1v1h-1zM177.3 54.3h1v1h-1zM178.0 106.4h1v1h-1zM178.8 78.3h1v1h-1zM177.6 61.3h1v1h-1zM177.3 40.2h1v1h-1zM177.2 62.3h1v1h-1zM178.6 102.7h1v1h-1zM178.9 68.8h1v1h-1zM175.8 92.8h1v1h-1zM175.7 82.9h1v1h-1zM177.6 77.5h1v1h-1zM175.4 71.2h1v1h-1zM176.8 73.5h1v1h-1zM182.6 69.4h1v1h-1zM178.4 63.0h1v1h-1zM176.3 77.2h1v1h-1zM176.2 95.9h1v1h-1zM175.8 87.1h1v1h-1zM175.4 47.2h1v1h-1zM176.7 87.8h1v1h-1zM178.9 84.0h1v1h-1zM179.4 65.9h1v1h-1zM229.5 58.2h1v1h-1zM224.1 55.8h1v1h-1zM248.4 51.0h1v1h-1zM175.4 82.1h1v1h-1zM227.0 65.6h1v1h-1zM185.9 95.5h1v1h-1zM213.4 69.8h1v1h-1zM222.1 100.6h1v1h-1zM243.6 82.4h1v1h-1zM215.1 85.8h1v1h-1zM192.5 63.3h1v1h-1zM228.7 96.3h1v1h-1zM222.1 96.3h1v1h-1zM236.6 107.7h1v1h-1zM175.4 98.3h1v1h-1zM211.8 82.6h1v1h-1zM175.4 86.3h1v1h-1zM216.5 42.4h1v1h-1zM209.7 53.8h1v1h-1zM191.9 96.4h1v1h-1zM219.9 96.9h1v1h-1zM215.1 92.4h1v1h-1zM242.7 72.8h1v1h-1zM213.2 107.1h1v1h-1z" fill="#111"/>
<g filter="url(#bl2)" fill="#8c8c8c" opacity="0.85"><path d="M187 52 Q199 49 212 52 L209 63 L206 73 L204 80 L205 92 L204 106 L193 106 L191 92 L192 80 L190 73 L188 63 Z"/></g>
<g clip-path="url(#cp1)">
<path d="M191.1 34.5h1v1h-1zM215.7 38.0h1v1h-1zM210.4 42.8h1v1h-1zM228.1 77.3h1v1h-1zM234.3 94.4h1v1h-1zM190.5 57.1h1v1h-1zM245.6 65.6h1v1h-1zM233.5 50.0h1v1h-1zM204.4 78.9h1v1h-1zM248.5 36.5h1v1h-1zM204.0 44.1h1v1h-1zM228.0 94.4h1v1h-1zM186.3 59.5h1v1h-1zM248.8 107.9h1v1h-1zM247.4 80.0h1v1h-1zM248.7 54.9h1v1h-1zM233.2 81.1h1v1h-1zM180.3 105.9h1v1h-1zM197.5 35.3h1v1h-1zM176.8 103.2h1v1h-1zM213.0 90.9h1v1h-1zM221.1 103.4h1v1h-1zM247.9 93.2h1v1h-1zM196.3 107.8h1v1h-1zM219.5 46.0h1v1h-1zM248.8 86.5h1v1h-1zM225.0 39.6h1v1h-1zM237.9 68.3h1v1h-1zM245.9 103.6h1v1h-1zM177.8 99.8h1v1h-1zM220.4 79.1h1v1h-1zM212.8 64.7h1v1h-1zM213.0 97.8h1v1h-1zM223.2 64.1h1v1h-1zM183.5 34.3h1v1h-1zM219.7 49.6h1v1h-1zM186.0 74.7h1v1h-1zM211.2 67.8h1v1h-1zM216.3 106.2h1v1h-1zM236.2 63.9h1v1h-1zM186.0 70.6h1v1h-1zM249.0 54.9h1v1h-1zM236.9 51.3h1v1h-1zM177.0 36.2h1v1h-1zM239.1 44.1h1v1h-1zM212.7 105.1h1v1h-1zM249.4 61.4h1v1h-1zM207.1 49.8h1v1h-1zM176.0 74.7h1v1h-1zM233.9 68.9h1v1h-1zM211.4 86.6h1v1h-1zM183.0 106.8h1v1h-1zM185.9 51.3h1v1h-1zM222.8 75.3h1v1h-1zM228.8 58.0h1v1h-1zM185.4 98.6h1v1h-1zM179.5 49.7h1v1h-1zM191.0 83.8h1v1h-1zM183.2 56.4h1v1h-1zM204.4 97.5h1v1h-1zM215.4 37.1h1v1h-1zM190.8 90.4h1v1h-1zM240.2 83.9h1v1h-1zM245.6 99.6h1v1h-1zM203.0 34.2h1v1h-1zM187.7 59.4h1v1h-1zM236.3 40.9h1v1h-1zM191.7 89.3h1v1h-1zM230.0 101.5h1v1h-1zM236.2 79.3h1v1h-1zM180.5 34.4h1v1h-1zM177.9 84.3h1v1h-1zM191.7 82.9h1v1h-1zM179.6 86.1h1v1h-1zM186.8 73.9h1v1h-1zM246.9 104.3h1v1h-1zM216.5 37.1h1v1h-1zM179.4 93.2h1v1h-1zM177.4 77.8h1v1h-1zM240.2 100.1h1v1h-1zM201.2 83.9h1v1h-1zM192.5 33.3h1v1h-1zM208.2 93.9h1v1h-1zM222.0 81.8h1v1h-1zM194.5 43.3h1v1h-1zM180.9 78.9h1v1h-1zM184.0 75.2h1v1h-1zM242.3 100.3h1v1h-1zM202.1 96.5h1v1h-1zM208.0 105.8h1v1h-1zM191.0 98.9h1v1h-1zM185.8 61.6h1v1h-1zM232.1 83.4h1v1h-1zM190.5 35.0h1v1h-1zM182.3 93.3h1v1h-1zM199.3 82.1h1v1h-1zM183.1 108.1h1v1h-1zM197.2 53.0h1v1h-1zM214.8 37.1h1v1h-1zM185.7 46.1h1v1h-1zM217.8 105.5h1v1h-1zM218.5 92.6h1v1h-1zM210.3 55.8h1v1h-1zM195.4 105.3h1v1h-1zM230.1 107.1h1v1h-1zM238.2 92.1h1v1h-1zM198.7 77.4h1v1h-1zM178.4 51.7h1v1h-1zM247.0 80.7h1v1h-1zM235.0 45.8h1v1h-1zM241.6 40.3h1v1h-1zM222.8 42.8h1v1h-1zM177.2 34.4h1v1h-1zM210.4 47.3h1v1h-1zM178.4 86.6h1v1h-1zM187.9 86.5h1v1h-1zM179.5 95.6h1v1h-1zM209.4 51.6h1v1h-1zM208.3 36.8h1v1h-1zM186.6 74.8h1v1h-1zM240.6 86.9h1v1h-1zM200.4 58.1h1v1h-1zM241.8 84.9h1v1h-1zM202.2 105.1h1v1h-1zM248.7 42.7h1v1h-1zM175.2 74.3h1v1h-1zM216.6 75.5h1v1h-1zM243.1 37.4h1v1h-1zM228.8 103.3h1v1h-1zM224.2 34.4h1v1h-1zM248.1 101.3h1v1h-1zM185.0 60.8h1v1h-1zM185.2 100.4h1v1h-1zM196.6 81.5h1v1h-1zM236.1 103.4h1v1h-1zM197.2 78.3h1v1h-1zM228.8 39.9h1v1h-1zM224.4 60.7h1v1h-1zM217.9 61.4h1v1h-1zM176.9 75.4h1v1h-1zM187.8 36.4h1v1h-1zM245.0 84.0h1v1h-1zM178.1 108.4h1v1h-1zM196.1 59.7h1v1h-1zM181.1 87.2h1v1h-1zM202.4 98.8h1v1h-1zM186.9 55.0h1v1h-1zM209.6 82.8h1v1h-1zM242.8 60.5h1v1h-1zM223.5 102.2h1v1h-1zM246.1 48.0h1v1h-1zM182.9 81.4h1v1h-1zM218.4 34.1h1v1h-1zM234.8 68.9h1v1h-1zM221.5 45.3h1v1h-1zM212.7 51.2h1v1h-1zM182.6 82.7h1v1h-1zM199.4 41.8h1v1h-1zM247.0 57.4h1v1h-1zM211.1 68.3h1v1h-1zM182.0 36.0h1v1h-1zM222.6 48.4h1v1h-1zM179.8 82.2h1v1h-1zM185.6 87.6h1v1h-1zM192.2 76.8h1v1h-1zM180.9 57.2h1v1h-1zM189.0 63.1h1v1h-1zM187.9 70.9h1v1h-1zM211.6 80.3h1v1h-1zM195.6 94.6h1v1h-1zM245.0 63.2h1v1h-1zM206.6 57.9h1v1h-1zM211.2 49.8h1v1h-1zM228.8 88.3h1v1h-1zM201.7 102.1h1v1h-1zM236.7 83.4h1v1h-1zM210.1 83.5h1v1h-1zM190.9 44.9h1v1h-1zM195.2 58.4h1v1h-1zM227.4 74.8h1v1h-1zM247.1 95.2h1v1h-1zM212.6 90.7h1v1h-1zM237.9 38.9h1v1h-1zM202.0 70.3h1v1h-1zM194.0 61.2h1v1h-1zM223.8 104.2h1v1h-1zM192.6 35.9h1v1h-1zM181.0 63.1h1v1h-1zM209.1 91.8h1v1h-1zM175.0 61.4h1v1h-1zM204.8 47.2h1v1h-1zM221.3 34.4h1v1h-1zM192.4 47.6h1v1h-1zM176.2 69.4h1v1h-1zM213.5 55.3h1v1h-1zM239.7 67.1h1v1h-1zM227.4 66.9h1v1h-1zM231.8 107.1h1v1h-1zM232.3 32.9h1v1h-1zM196.8 36.5h1v1h-1zM240.0 83.3h1v1h-1zM208.6 108.4h1v1h-1zM246.1 34.5h1v1h-1zM191.1 99.2h1v1h-1zM180.4 39.5h1v1h-1zM212.2 42.1h1v1h-1zM213.1 50.7h1v1h-1zM244.2 36.3h1v1h-1zM218.4 69.7h1v1h-1zM219.1 80.2h1v1h-1zM213.9 42.8h1v1h-1zM175.1 87.9h1v1h-1zM248.4 107.3h1v1h-1zM201.9 66.5h1v1h-1zM202.8 33.6h1v1h-1zM233.8 45.7h1v1h-1zM239.2 82.0h1v1h-1zM182.6 107.8h1v1h-1zM184.6 47.1h1v1h-1zM226.9 38.1h1v1h-1zM231.1 66.9h1v1h-1zM183.6 87.8h1v1h-1zM186.5 87.9h1v1h-1zM218.3 52.8h1v1h-1zM221.6 58.2h1v1h-1zM189.7 80.8h1v1h-1zM239.8 42.1h1v1h-1zM200.2 94.5h1v1h-1zM202.8 65.7h1v1h-1zM195.9 39.6h1v1h-1zM228.2 50.3h1v1h-1zM215.7 37.8h1v1h-1zM229.6 70.2h1v1h-1zM219.9 62.7h1v1h-1zM181.3 58.3h1v1h-1zM222.3 96.7h1v1h-1zM186.9 38.6h1v1h-1zM189.3 71.0h1v1h-1zM216.6 71.1h1v1h-1zM214.0 97.9h1v1h-1zM200.2 55.1h1v1h-1zM224.7 48.9h1v1h-1zM197.1 83.0h1v1h-1zM182.0 50.8h1v1h-1zM199.6 34.8h1v1h-1zM204.7 38.7h1v1h-1zM214.8 41.0h1v1h-1zM192.0 72.2h1v1h-1zM233.3 77.0h1v1h-1zM246.3 94.0h1v1h-1zM182.4 94.1h1v1h-1zM245.5 35.9h1v1h-1zM194.3 57.4h1v1h-1zM204.0 59.7h1v1h-1zM226.4 45.9h1v1h-1zM196.5 91.8h1v1h-1zM196.7 67.1h1v1h-1zM178.4 39.3h1v1h-1zM228.5 88.5h1v1h-1zM207.1 86.3h1v1h-1zM236.5 59.3h1v1h-1zM249.0 85.3h1v1h-1zM243.3 37.7h1v1h-1zM211.1 40.6h1v1h-1zM231.0 78.4h1v1h-1zM198.9 39.6h1v1h-1zM240.2 78.9h1v1h-1zM183.1 69.7h1v1h-1zM213.1 97.1h1v1h-1zM212.4 33.3h1v1h-1zM245.2 40.0h1v1h-1zM236.8 47.9h1v1h-1zM236.7 54.7h1v1h-1zM239.7 108.5h1v1h-1zM231.3 34.8h1v1h-1zM210.8 88.4h1v1h-1zM187.2 42.2h1v1h-1zM193.3 48.2h1v1h-1zM204.3 41.6h1v1h-1zM217.0 62.1h1v1h-1zM246.7 56.6h1v1h-1zM177.1 41.4h1v1h-1zM242.7 95.7h1v1h-1zM202.9 99.2h1v1h-1zM212.3 63.6h1v1h-1zM227.9 44.0h1v1h-1zM178.2 35.7h1v1h-1zM194.8 47.3h1v1h-1zM230.8 88.7h1v1h-1zM191.3 102.1h1v1h-1zM181.4 62.7h1v1h-1zM187.9 77.3h1v1h-1zM176.0 86.7h1v1h-1zM241.5 69.8h1v1h-1zM215.5 83.0h1v1h-1zM227.3 68.5h1v1h-1zM178.7 80.2h1v1h-1zM234.2 41.8h1v1h-1zM208.1 92.0h1v1h-1zM191.5 74.7h1v1h-1zM234.2 48.2h1v1h-1zM198.0 66.0h1v1h-1zM177.5 91.9h1v1h-1zM185.5 67.1h1v1h-1zM186.5 80.8h1v1h-1zM200.2 41.7h1v1h-1zM195.3 57.1h1v1h-1zM178.4 69.4h1v1h-1zM184.5 76.3h1v1h-1zM247.9 35.2h1v1h-1zM247.7 43.8h1v1h-1zM243.0 95.5h1v1h-1zM233.5 58.5h1v1h-1zM187.9 84.9h1v1h-1zM226.6 58.4h1v1h-1zM197.1 38.5h1v1h-1zM183.0 45.4h1v1h-1zM179.4 34.9h1v1h-1zM190.0 62.0h1v1h-1zM227.8 47.7h1v1h-1zM185.2 92.6h1v1h-1zM230.6 36.9h1v1h-1zM247.5 87.1h1v1h-1zM211.3 83.8h1v1h-1zM222.9 70.2h1v1h-1zM239.9 68.7h1v1h-1zM194.7 46.6h1v1h-1zM241.9 57.8h1v1h-1zM221.4 91.9h1v1h-1zM208.8 47.5h1v1h-1zM213.6 80.3h1v1h-1zM185.7 89.6h1v1h-1zM226.1 103.5h1v1h-1zM240.1 36.5h1v1h-1zM220.2 73.8h1v1h-1zM204.7 40.0h1v1h-1zM205.4 100.2h1v1h-1zM182.1 105.3h1v1h-1zM231.6 37.0h1v1h-1zM196.7 40.3h1v1h-1zM176.3 67.6h1v1h-1zM242.0 91.7h1v1h-1zM188.4 79.6h1v1h-1zM207.3 58.0h1v1h-1zM182.4 78.2h1v1h-1zM245.7 93.4h1v1h-1zM232.1 102.8h1v1h-1zM232.9 43.3h1v1h-1zM212.5 96.9h1v1h-1zM228.1 82.0h1v1h-1zM203.3 73.6h1v1h-1zM237.9 66.3h1v1h-1zM187.0 71.6h1v1h-1zM200.5 67.7h1v1h-1zM183.9 83.8h1v1h-1zM205.9 102.1h1v1h-1zM239.3 50.8h1v1h-1zM228.7 33.0h1v1h-1zM247.2 34.8h1v1h-1zM247.3 102.1h1v1h-1zM245.5 103.4h1v1h-1zM225.6 99.3h1v1h-1zM187.2 77.1h1v1h-1zM200.1 77.3h1v1h-1zM240.4 63.5h1v1h-1zM225.3 58.5h1v1h-1zM190.4 103.7h1v1h-1zM199.3 73.1h1v1h-1zM220.2 53.7h1v1h-1zM199.1 82.7h1v1h-1zM183.4 39.8h1v1h-1zM199.3 84.8h1v1h-1zM233.4 53.5h1v1h-1zM234.3 85.6h1v1h-1zM223.3 69.4h1v1h-1zM242.0 98.2h1v1h-1zM179.6 90.3h1v1h-1zM180.9 107.5h1v1h-1zM219.4 76.9h1v1h-1zM192.7 95.6h1v1h-1zM211.7 82.9h1v1h-1zM248.7 88.8h1v1h-1zM191.7 100.9h1v1h-1zM184.4 56.6h1v1h-1zM228.5 93.3h1v1h-1zM240.5 103.2h1v1h-1zM186.4 108.0h1v1h-1zM175.6 43.9h1v1h-1zM201.3 54.2h1v1h-1zM182.1 65.1h1v1h-1zM204.2 61.7h1v1h-1zM194.0 104.0h1v1h-1zM227.5 34.7h1v1h-1zM208.1 100.9h1v1h-1zM249.0 39.2h1v1h-1zM177.7 104.1h1v1h-1zM184.5 102.8h1v1h-1zM179.7 69.5h1v1h-1zM224.1 46.0h1v1h-1zM206.6 47.4h1v1h-1zM188.8 52.5h1v1h-1zM205.6 97.3h1v1h-1zM192.2 73.9h1v1h-1zM220.8 99.3h1v1h-1zM211.6 90.2h1v1h-1zM177.4 106.3h1v1h-1zM179.8 83.1h1v1h-1zM188.4 45.7h1v1h-1zM215.0 74.4h1v1h-1zM240.4 89.0h1v1h-1zM181.4 60.0h1v1h-1zM205.7 108.8h1v1h-1zM207.2 49.3h1v1h-1zM223.6 103.2h1v1h-1zM202.3 70.0h1v1h-1zM210.8 97.0h1v1h-1zM214.0 73.3h1v1h-1zM236.4 74.6h1v1h-1zM236.6 86.5h1v1h-1zM222.5 72.6h1v1h-1zM248.8 66.9h1v1h-1zM204.9 41.8h1v1h-1zM175.9 83.9h1v1h-1zM239.8 105.8h1v1h-1zM230.6 104.4h1v1h-1zM206.7 36.4h1v1h-1zM197.3 66.0h1v1h-1zM216.7 78.1h1v1h-1zM175.9 40.3h1v1h-1zM175.2 86.8h1v1h-1zM229.0 65.7h1v1h-1zM210.8 42.7h1v1h-1zM222.2 49.0h1v1h-1zM186.7 34.2h1v1h-1zM245.6 50.3h1v1h-1zM186.0 86.0h1v1h-1zM185.5 70.3h1v1h-1zM207.1 50.6h1v1h-1zM211.4 52.0h1v1h-1zM214.0 68.8h1v1h-1zM223.8 88.5h1v1h-1zM238.6 107.2h1v1h-1zM248.2 70.7h1v1h-1zM208.3 66.5h1v1h-1zM209.2 61.6h1v1h-1zM192.4 95.2h1v1h-1zM227.0 76.6h1v1h-1zM213.3 102.4h1v1h-1zM208.6 74.5h1v1h-1zM200.4 47.9h1v1h-1zM210.1 40.8h1v1h-1zM221.3 73.7h1v1h-1zM236.4 47.3h1v1h-1zM219.2 85.9h1v1h-1zM230.3 92.3h1v1h-1zM204.8 91.9h1v1h-1zM218.1 63.7h1v1h-1zM242.8 74.7h1v1h-1zM210.4 50.0h1v1h-1zM187.0 72.2h1v1h-1zM232.3 94.9h1v1h-1zM217.8 81.4h1v1h-1zM197.6 83.5h1v1h-1zM190.0 105.5h1v1h-1zM193.7 54.6h1v1h-1zM236.3 82.2h1v1h-1zM222.9 100.0h1v1h-1zM213.9 58.0h1v1h-1zM189.1 36.6h1v1h-1zM233.6 55.2h1v1h-1zM211.8 54.8h1v1h-1zM196.7 54.6h1v1h-1zM225.0 72.7h1v1h-1zM226.4 75.5h1v1h-1zM187.4 62.1h1v1h-1zM239.4 57.3h1v1h-1zM204.4 72.6h1v1h-1zM191.8 88.3h1v1h-1zM196.7 35.3h1v1h-1zM245.0 95.6h1v1h-1zM209.1 42.9h1v1h-1zM223.4 101.7h1v1h-1zM212.9 70.2h1v1h-1zM249.1 75.7h1v1h-1zM229.2 107.3h1v1h-1zM236.9 101.0h1v1h-1zM200.7 66.6h1v1h-1zM243.5 48.2h1v1h-1zM233.4 78.1h1v1h-1zM230.5 35.9h1v1h-1zM237.5 37.9h1v1h-1zM209.4 50.0h1v1h-1zM224.8 64.5h1v1h-1zM239.6 85.5h1v1h-1zM197.1 40.3h1v1h-1zM239.3 97.8h1v1h-1zM234.2 67.0h1v1h-1zM235.8 47.5h1v1h-1zM225.0 98.5h1v1h-1zM204.1 85.3h1v1h-1zM219.7 98.1h1v1h-1zM242.3 106.2h1v1h-1zM231.5 95.1h1v1h-1zM216.9 58.9h1v1h-1zM192.9 107.8h1v1h-1zM240.7 90.0h1v1h-1zM213.7 95.0h1v1h-1zM191.2 60.5h1v1h-1zM201.0 78.2h1v1h-1zM203.8 80.1h1v1h-1zM218.6 53.9h1v1h-1zM176.4 69.2h1v1h-1zM191.9 53.4h1v1h-1zM181.0 54.7h1v1h-1zM245.9 82.5h1v1h-1zM205.1 34.3h1v1h-1zM207.1 90.4h1v1h-1zM227.7 69.7h1v1h-1zM220.5 42.3h1v1h-1zM218.1 69.5h1v1h-1zM216.7 61.3h1v1h-1zM197.0 99.2h1v1h-1zM224.1 83.9h1v1h-1zM202.4 49.9h1v1h-1zM235.7 102.4h1v1h-1zM198.1 98.6h1v1h-1zM212.5 74.1h1v1h-1zM178.4 38.6h1v1h-1zM179.3 83.2h1v1h-1zM220.6 65.0h1v1h-1zM179.1 80.5h1v1h-1zM245.8 40.3h1v1h-1zM192.5 41.5h1v1h-1zM214.9 44.2h1v1h-1zM200.9 74.5h1v1h-1zM175.9 87.6h1v1h-1zM237.3 59.2h1v1h-1zM224.6 39.9h1v1h-1zM175.1 45.3h1v1h-1zM203.2 57.1h1v1h-1zM230.7 83.9h1v1h-1zM219.3 58.5h1v1h-1zM218.3 86.8h1v1h-1zM185.4 101.2h1v1h-1zM181.3 56.9h1v1h-1zM244.9 65.4h1v1h-1zM198.9 65.6h1v1h-1zM194.1 65.2h1v1h-1zM199.1 79.6h1v1h-1zM220.0 95.7h1v1h-1zM206.8 76.4h1v1h-1zM208.7 62.8h1v1h-1zM199.3 77.1h1v1h-1zM196.7 101.7h1v1h-1zM223.6 48.7h1v1h-1zM197.0 65.3h1v1h-1zM216.7 86.4h1v1h-1zM221.4 70.2h1v1h-1zM211.7 34.9h1v1h-1zM238.2 56.2h1v1h-1zM247.7 62.3h1v1h-1zM211.1 72.4h1v1h-1zM207.8 65.0h1v1h-1zM244.1 85.9h1v1h-1zM208.6 80.1h1v1h-1zM219.7 84.4h1v1h-1zM230.5 46.9h1v1h-1zM186.6 103.3h1v1h-1zM228.3 78.2h1v1h-1zM233.8 53.9h1v1h-1zM203.3 101.3h1v1h-1zM226.3 81.2h1v1h-1zM233.2 105.4h1v1h-1zM197.8 69.3h1v1h-1zM224.2 86.1h1v1h-1zM193.5 66.4h1v1h-1zM221.3 56.2h1v1h-1zM189.9 86.2h1v1h-1zM218.2 51.9h1v1h-1zM193.1 71.3h1v1h-1zM188.6 73.0h1v1h-1zM247.3 72.9h1v1h-1zM180.6 48.1h1v1h-1zM214.1 99.5h1v1h-1zM217.3 78.6h1v1h-1zM233.7 66.6h1v1h-1zM191.8 90.3h1v1h-1zM249.2 54.0h1v1h-1zM248.6 82.7h1v1h-1zM212.3 61.4h1v1h-1zM220.6 64.7h1v1h-1zM202.7 60.0h1v1h-1zM197.3 73.4h1v1h-1zM217.2 87.2h1v1h-1zM191.1 53.8h1v1h-1zM214.5 66.6h1v1h-1zM211.8 77.0h1v1h-1zM198.3 58.0h1v1h-1zM181.9 51.4h1v1h-1zM218.6 106.9h1v1h-1zM245.9 80.6h1v1h-1zM237.7 92.8h1v1h-1zM184.7 45.8h1v1h-1zM197.0 75.0h1v1h-1zM209.7 47.4h1v1h-1zM221.4 73.4h1v1h-1zM211.9 72.0h1v1h-1zM225.3 50.1h1v1h-1zM177.3 48.2h1v1h-1zM216.8 103.0h1v1h-1zM225.7 97.6h1v1h-1zM244.0 63.5h1v1h-1zM193.3 43.3h1v1h-1zM178.8 56.9h1v1h-1zM216.3 73.5h1v1h-1zM215.5 70.0h1v1h-1zM222.1 83.3h1v1h-1zM185.5 44.6h1v1h-1zM197.3 80.2h1v1h-1zM244.5 83.3h1v1h-1zM239.9 79.1h1v1h-1zM226.1 58.8h1v1h-1zM234.7 104.9h1v1h-1zM202.9 40.3h1v1h-1zM243.4 90.3h1v1h-1zM179.2 64.1h1v1h-1zM186.0 100.2h1v1h-1zM179.8 43.7h1v1h-1zM187.8 102.5h1v1h-1zM235.9 39.7h1v1h-1zM239.2 64.8h1v1h-1zM226.1 41.3h1v1h-1zM220.2 102.9h1v1h-1zM231.7 56.1h1v1h-1zM227.1 75.6h1v1h-1zM245.4 104.5h1v1h-1zM242.0 73.0h1v1h-1zM188.7 34.1h1v1h-1zM226.4 92.8h1v1h-1zM233.6 35.1h1v1h-1zM229.5 57.6h1v1h-1zM237.0 49.6h1v1h-1zM228.1 52.4h1v1h-1zM236.3 52.9h1v1h-1zM226.1 91.9h1v1h-1zM211.5 65.8h1v1h-1zM200.4 56.5h1v1h-1zM239.8 54.5h1v1h-1zM179.6 86.4h1v1h-1zM211.1 89.3h1v1h-1zM187.2 71.6h1v1h-1zM181.7 88.6h1v1h-1zM195.5 98.5h1v1h-1zM208.5 69.4h1v1h-1zM240.0 49.7h1v1h-1zM222.6 100.4h1v1h-1zM186.4 99.7h1v1h-1zM248.6 69.2h1v1h-1zM186.4 50.3h1v1h-1zM223.2 48.7h1v1h-1zM218.4 57.4h1v1h-1zM195.7 74.4h1v1h-1zM249.0 108.3h1v1h-1zM212.5 99.4h1v1h-1zM217.7 52.9h1v1h-1zM228.2 41.6h1v1h-1zM176.8 65.9h1v1h-1zM194.0 78.6h1v1h-1zM217.9 99.3h1v1h-1zM197.7 47.6h1v1h-1zM192.0 44.4h1v1h-1zM215.8 73.3h1v1h-1zM199.5 51.9h1v1h-1zM231.8 92.2h1v1h-1zM224.9 96.2h1v1h-1zM222.6 105.1h1v1h-1zM176.2 77.2h1v1h-1zM204.5 74.1h1v1h-1zM176.6 47.6h1v1h-1zM221.6 49.5h1v1h-1zM180.3 88.4h1v1h-1zM244.0 54.9h1v1h-1zM183.1 77.6h1v1h-1zM230.6 47.5h1v1h-1zM228.5 62.6h1v1h-1zM208.3 108.3h1v1h-1zM199.5 68.2h1v1h-1zM230.6 52.2h1v1h-1zM226.1 106.3h1v1h-1zM177.7 100.7h1v1h-1zM211.4 89.6h1v1h-1zM196.7 94.4h1v1h-1zM194.4 39.4h1v1h-1zM231.1 46.0h1v1h-1zM219.3 33.5h1v1h-1zM235.0 44.3h1v1h-1zM210.2 95.5h1v1h-1zM210.3 76.4h1v1h-1zM207.7 65.8h1v1h-1zM213.1 60.0h1v1h-1z" fill="#555"/>
<path d="M183.3 41.8h1v1h-1zM208.6 53.3h1v1h-1zM194.8 73.5h1v1h-1zM237.0 51.4h1v1h-1zM230.6 42.3h1v1h-1zM232.0 67.8h1v1h-1zM245.6 76.8h1v1h-1zM247.3 102.3h1v1h-1zM221.1 46.2h1v1h-1zM213.0 85.0h1v1h-1zM199.5 43.1h1v1h-1zM196.8 91.8h1v1h-1zM216.4 36.8h1v1h-1zM213.4 74.5h1v1h-1zM235.9 94.4h1v1h-1zM235.1 54.4h1v1h-1zM197.9 41.5h1v1h-1zM185.2 75.4h1v1h-1zM185.8 52.8h1v1h-1zM191.3 68.5h1v1h-1zM226.9 102.5h1v1h-1zM180.7 53.7h1v1h-1zM237.5 96.5h1v1h-1zM228.8 75.9h1v1h-1zM247.4 107.1h1v1h-1zM200.9 73.5h1v1h-1zM221.5 74.3h1v1h-1zM207.3 41.4h1v1h-1zM184.9 89.8h1v1h-1zM213.1 104.6h1v1h-1zM226.9 32.9h1v1h-1zM195.5 71.5h1v1h-1zM230.8 37.5h1v1h-1zM240.0 33.2h1v1h-1zM231.2 37.5h1v1h-1zM197.1 105.8h1v1h-1zM245.1 51.8h1v1h-1zM208.9 53.5h1v1h-1zM219.2 88.2h1v1h-1zM239.4 51.4h1v1h-1zM196.3 81.4h1v1h-1zM197.1 87.1h1v1h-1zM244.7 83.3h1v1h-1zM221.3 53.4h1v1h-1zM234.5 39.9h1v1h-1zM223.8 83.9h1v1h-1zM184.6 51.1h1v1h-1zM176.8 107.1h1v1h-1zM200.5 86.0h1v1h-1zM216.6 77.7h1v1h-1zM225.8 61.3h1v1h-1zM234.5 69.7h1v1h-1zM201.7 42.1h1v1h-1zM246.2 68.2h1v1h-1zM218.3 43.1h1v1h-1zM202.4 47.8h1v1h-1zM188.7 107.5h1v1h-1zM230.2 36.6h1v1h-1zM222.9 39.2h1v1h-1zM207.4 51.3h1v1h-1zM206.7 92.6h1v1h-1zM179.8 80.1h1v1h-1zM187.5 105.0h1v1h-1zM237.7 85.1h1v1h-1zM198.5 44.8h1v1h-1zM183.3 41.1h1v1h-1zM193.1 89.6h1v1h-1zM192.5 74.3h1v1h-1zM234.5 98.7h1v1h-1zM226.7 94.5h1v1h-1zM179.9 70.9h1v1h-1zM235.6 78.3h1v1h-1zM243.1 90.1h1v1h-1zM246.4 47.9h1v1h-1zM180.7 38.0h1v1h-1zM213.2 34.1h1v1h-1zM229.9 47.8h1v1h-1zM191.0 48.4h1v1h-1zM240.8 46.2h1v1h-1zM189.4 73.1h1v1h-1zM214.1 93.2h1v1h-1zM233.3 71.9h1v1h-1zM221.2 54.3h1v1h-1zM212.9 96.2h1v1h-1zM222.8 55.2h1v1h-1zM238.8 60.9h1v1h-1zM211.3 47.1h1v1h-1zM178.3 53.2h1v1h-1zM242.9 34.6h1v1h-1zM199.8 88.4h1v1h-1zM193.3 35.6h1v1h-1zM228.6 66.0h1v1h-1zM220.0 75.5h1v1h-1zM210.1 62.1h1v1h-1zM230.5 97.1h1v1h-1zM208.0 62.7h1v1h-1zM207.2 55.0h1v1h-1zM190.3 101.1h1v1h-1zM218.3 66.7h1v1h-1zM204.7 104.2h1v1h-1zM191.1 84.1h1v1h-1zM217.2 77.2h1v1h-1zM184.3 57.3h1v1h-1zM219.2 69.1h1v1h-1zM210.5 35.2h1v1h-1zM236.2 108.4h1v1h-1zM199.5 106.4h1v1h-1zM243.9 57.6h1v1h-1zM213.2 59.4h1v1h-1zM204.8 77.8h1v1h-1zM232.1 90.4h1v1h-1zM214.5 65.0h1v1h-1zM176.6 75.9h1v1h-1zM241.7 44.1h1v1h-1zM206.8 33.1h1v1h-1zM186.5 49.8h1v1h-1zM216.0 71.2h1v1h-1zM201.6 81.3h1v1h-1zM233.6 61.8h1v1h-1zM187.5 82.4h1v1h-1zM244.3 106.7h1v1h-1zM206.7 75.1h1v1h-1zM203.5 67.5h1v1h-1zM205.3 71.3h1v1h-1zM202.4 44.9h1v1h-1zM243.0 63.1h1v1h-1zM236.7 60.3h1v1h-1zM240.4 41.4h1v1h-1zM229.1 52.6h1v1h-1zM211.7 84.1h1v1h-1zM206.5 67.7h1v1h-1zM248.6 90.5h1v1h-1zM208.8 50.7h1v1h-1zM228.0 35.7h1v1h-1zM235.6 47.8h1v1h-1zM239.6 61.1h1v1h-1zM225.3 41.0h1v1h-1zM201.8 81.4h1v1h-1zM208.4 68.4h1v1h-1zM237.0 64.3h1v1h-1zM211.4 61.0h1v1h-1zM243.3 100.0h1v1h-1zM176.6 88.6h1v1h-1zM240.0 90.4h1v1h-1zM221.0 90.5h1v1h-1zM236.2 52.7h1v1h-1zM198.2 56.0h1v1h-1zM225.2 43.0h1v1h-1zM232.5 52.4h1v1h-1zM245.9 51.1h1v1h-1zM249.3 86.3h1v1h-1zM206.1 57.3h1v1h-1zM202.3 77.1h1v1h-1zM243.9 79.6h1v1h-1zM249.4 35.1h1v1h-1zM238.1 92.1h1v1h-1zM239.9 72.2h1v1h-1zM238.9 46.2h1v1h-1zM216.0 83.3h1v1h-1zM226.1 61.2h1v1h-1zM227.1 36.8h1v1h-1zM230.5 36.2h1v1h-1zM216.5 74.4h1v1h-1zM180.2 76.9h1v1h-1zM234.4 88.1h1v1h-1zM212.1 48.1h1v1h-1zM177.2 75.0h1v1h-1zM220.8 70.2h1v1h-1zM207.8 57.3h1v1h-1zM225.7 90.0h1v1h-1zM180.4 81.2h1v1h-1zM203.1 107.5h1v1h-1zM242.7 56.3h1v1h-1zM216.6 87.7h1v1h-1zM183.4 79.4h1v1h-1zM237.9 42.9h1v1h-1zM241.9 49.6h1v1h-1zM245.8 108.4h1v1h-1zM242.9 84.0h1v1h-1zM188.8 60.1h1v1h-1zM234.0 43.6h1v1h-1zM235.9 51.6h1v1h-1zM202.9 85.1h1v1h-1zM175.2 56.4h1v1h-1zM194.0 67.7h1v1h-1zM248.2 108.3h1v1h-1zM180.9 105.3h1v1h-1zM247.4 107.5h1v1h-1zM186.9 50.8h1v1h-1zM178.8 46.9h1v1h-1zM191.4 55.4h1v1h-1zM184.5 58.7h1v1h-1zM194.4 65.1h1v1h-1zM192.1 107.5h1v1h-1zM190.3 79.0h1v1h-1zM210.6 45.4h1v1h-1zM215.9 77.2h1v1h-1zM179.3 100.5h1v1h-1zM225.7 47.4h1v1h-1zM186.1 48.7h1v1h-1zM241.0 68.1h1v1h-1zM180.1 78.8h1v1h-1zM236.6 79.8h1v1h-1zM227.9 82.3h1v1h-1zM244.0 100.0h1v1h-1zM182.2 69.9h1v1h-1zM180.9 50.1h1v1h-1zM231.1 52.2h1v1h-1zM219.4 48.6h1v1h-1zM202.2 75.1h1v1h-1zM179.7 94.2h1v1h-1zM179.1 74.8h1v1h-1zM211.7 35.3h1v1h-1zM204.2 34.4h1v1h-1zM186.0 37.0h1v1h-1zM179.7 65.8h1v1h-1zM183.6 77.6h1v1h-1zM215.7 64.1h1v1h-1zM201.1 97.2h1v1h-1zM242.7 95.6h1v1h-1zM198.8 52.9h1v1h-1zM178.3 83.5h1v1h-1zM195.0 60.6h1v1h-1zM199.1 61.8h1v1h-1zM223.8 91.5h1v1h-1zM205.4 36.0h1v1h-1zM181.2 50.4h1v1h-1zM181.6 68.6h1v1h-1zM213.4 98.5h1v1h-1zM235.0 85.0h1v1h-1zM223.9 92.4h1v1h-1zM216.9 101.6h1v1h-1zM217.0 91.4h1v1h-1zM230.5 69.0h1v1h-1zM241.4 51.5h1v1h-1zM237.3 41.4h1v1h-1zM242.6 60.7h1v1h-1zM232.9 52.5h1v1h-1zM195.9 100.6h1v1h-1zM205.4 73.2h1v1h-1zM231.2 105.1h1v1h-1zM183.6 48.9h1v1h-1zM177.8 69.7h1v1h-1zM237.9 96.2h1v1h-1zM204.7 72.1h1v1h-1zM230.7 105.2h1v1h-1zM226.2 46.9h1v1h-1zM238.4 79.0h1v1h-1zM249.0 107.3h1v1h-1zM194.6 40.7h1v1h-1zM210.4 78.5h1v1h-1zM215.8 51.9h1v1h-1zM235.0 108.7h1v1h-1zM244.5 34.3h1v1h-1zM195.7 33.2h1v1h-1zM215.6 77.6h1v1h-1zM247.0 44.2h1v1h-1zM185.0 67.8h1v1h-1zM226.2 104.2h1v1h-1zM221.2 80.0h1v1h-1zM225.3 55.8h1v1h-1zM233.5 56.3h1v1h-1zM245.1 60.8h1v1h-1zM192.7 59.8h1v1h-1zM223.3 89.9h1v1h-1zM249.0 72.3h1v1h-1zM236.1 100.5h1v1h-1zM215.3 50.5h1v1h-1zM247.9 92.6h1v1h-1zM179.0 53.8h1v1h-1zM232.3 72.0h1v1h-1zM192.6 80.2h1v1h-1zM177.5 70.2h1v1h-1zM222.2 72.1h1v1h-1zM241.8 63.4h1v1h-1zM186.4 85.8h1v1h-1zM202.7 68.4h1v1h-1zM232.3 49.2h1v1h-1zM210.7 107.7h1v1h-1zM218.5 97.9h1v1h-1zM225.4 38.5h1v1h-1zM207.6 55.5h1v1h-1zM246.7 80.8h1v1h-1zM224.4 75.4h1v1h-1zM206.1 47.5h1v1h-1zM245.9 58.3h1v1h-1zM179.9 48.4h1v1h-1zM235.3 36.7h1v1h-1zM179.3 102.2h1v1h-1zM175.4 63.3h1v1h-1zM190.5 37.7h1v1h-1zM177.5 67.7h1v1h-1zM181.3 69.7h1v1h-1zM191.8 90.5h1v1h-1zM203.1 72.7h1v1h-1zM238.8 83.9h1v1h-1zM241.6 43.7h1v1h-1zM228.9 79.0h1v1h-1zM205.9 68.5h1v1h-1zM219.2 93.3h1v1h-1zM233.3 106.8h1v1h-1zM200.3 77.1h1v1h-1zM232.5 59.9h1v1h-1zM204.5 46.5h1v1h-1zM184.0 36.9h1v1h-1zM212.3 37.5h1v1h-1zM246.0 55.5h1v1h-1zM227.5 84.1h1v1h-1zM224.0 83.6h1v1h-1zM186.1 45.2h1v1h-1zM208.1 41.7h1v1h-1zM193.8 84.3h1v1h-1zM206.4 37.3h1v1h-1zM225.3 99.2h1v1h-1zM180.5 79.3h1v1h-1zM229.1 67.0h1v1h-1zM234.8 88.8h1v1h-1zM214.2 49.5h1v1h-1zM194.2 80.4h1v1h-1zM195.1 106.1h1v1h-1zM233.7 42.2h1v1h-1zM216.4 67.1h1v1h-1zM182.9 64.0h1v1h-1zM237.0 103.5h1v1h-1zM210.1 108.0h1v1h-1zM208.2 77.3h1v1h-1zM243.9 52.0h1v1h-1zM177.7 82.1h1v1h-1zM229.5 38.7h1v1h-1zM186.5 54.7h1v1h-1zM239.3 61.5h1v1h-1zM203.0 101.7h1v1h-1zM203.8 66.8h1v1h-1zM203.5 87.5h1v1h-1zM194.6 99.0h1v1h-1zM224.3 59.8h1v1h-1zM234.0 64.7h1v1h-1zM239.9 50.0h1v1h-1zM221.7 49.0h1v1h-1zM240.3 78.6h1v1h-1zM238.7 104.0h1v1h-1zM227.9 71.4h1v1h-1zM219.1 38.2h1v1h-1zM206.3 60.3h1v1h-1zM200.6 72.7h1v1h-1zM249.0 104.7h1v1h-1zM178.7 105.2h1v1h-1zM237.6 62.2h1v1h-1zM180.4 49.7h1v1h-1zM196.3 105.5h1v1h-1z" fill="#b0b0b0"/>
</g>
<clipPath id="cp1"><path d="M187 52 Q199 49 212 52 L209 63 L206 73 L204 80 L205 92 L204 106 L193 106 L191 92 L192 80 L190 73 L188 63 Z"/></clipPath>
<rect x="175" y="32.8" width="74.5" height="76" fill="none" stroke="#333" stroke-width="1.2"/>
<rect x="221.5" y="49.5" width="26" height="21" fill="none" stroke="#666" stroke-width="0.9"/>
<path d="M302.8 69.9h1v1h-1zM295.2 67.6h1v1h-1zM296.3 67.6h1v1h-1zM279.7 53.2h1v1h-1zM320.1 74.3h1v1h-1zM313.1 55.6h1v1h-1zM297.3 69.9h1v1h-1zM309.1 65.3h1v1h-1zM303.8 58.1h1v1h-1zM294.8 67.2h1v1h-1zM311.3 65.9h1v1h-1zM297.4 54.4h1v1h-1zM297.2 60.6h1v1h-1zM292.3 66.8h1v1h-1zM305.7 58.9h1v1h-1zM299.7 65.6h1v1h-1zM306.6 52.7h1v1h-1zM294.3 51.3h1v1h-1zM302.1 58.0h1v1h-1zM291.2 54.1h1v1h-1zM309.8 57.0h1v1h-1zM302.8 52.3h1v1h-1zM304.3 55.4h1v1h-1zM305.2 57.1h1v1h-1zM289.9 53.2h1v1h-1zM309.2 53.0h1v1h-1zM322.9 55.4h1v1h-1zM283.2 69.5h1v1h-1zM282.2 53.5h1v1h-1zM284.6 63.5h1v1h-1zM309.8 69.0h1v1h-1zM302.2 57.6h1v1h-1zM312.4 53.5h1v1h-1zM308.5 60.0h1v1h-1zM303.0 65.3h1v1h-1zM303.8 56.6h1v1h-1zM299.0 65.6h1v1h-1zM310.1 60.8h1v1h-1zM288.6 59.0h1v1h-1zM296.2 60.5h1v1h-1zM303.4 60.7h1v1h-1zM320.1 49.5h1v1h-1zM292.6 51.7h1v1h-1zM289.2 50.0h1v1h-1zM294.7 69.6h1v1h-1zM311.2 59.9h1v1h-1zM298.3 68.3h1v1h-1zM315.0 54.8h1v1h-1zM280.7 60.0h1v1h-1zM312.9 58.9h1v1h-1zM311.9 52.0h1v1h-1zM285.5 59.2h1v1h-1zM302.4 60.9h1v1h-1zM313.8 53.1h1v1h-1zM301.7 55.3h1v1h-1zM311.5 49.3h1v1h-1zM326.3 50.7h1v1h-1zM303.7 62.1h1v1h-1zM297.8 51.1h1v1h-1zM292.5 49.7h1v1h-1zM307.7 70.1h1v1h-1zM298.7 67.5h1v1h-1zM298.9 56.4h1v1h-1zM299.6 58.0h1v1h-1zM307.8 51.3h1v1h-1zM289.3 68.4h1v1h-1zM284.3 57.5h1v1h-1zM279.7 66.9h1v1h-1zM313.6 64.5h1v1h-1zM301.6 49.3h1v1h-1zM317.0 47.7h1v1h-1zM300.7 56.8h1v1h-1zM292.8 49.5h1v1h-1zM305.9 70.3h1v1h-1zM300.0 70.8h1v1h-1zM287.3 58.7h1v1h-1zM291.3 54.6h1v1h-1zM319.7 52.4h1v1h-1zM304.6 51.5h1v1h-1zM305.2 58.8h1v1h-1zM297.8 49.2h1v1h-1zM293.4 52.3h1v1h-1zM310.4 62.2h1v1h-1zM299.7 65.3h1v1h-1zM292.6 61.8h1v1h-1zM299.3 71.0h1v1h-1zM291.1 66.4h1v1h-1zM302.8 59.5h1v1h-1zM312.9 53.8h1v1h-1zM291.8 53.4h1v1h-1zM316.1 65.7h1v1h-1zM293.6 57.4h1v1h-1zM302.4 66.6h1v1h-1zM291.8 57.2h1v1h-1zM298.4 67.0h1v1h-1zM301.3 62.6h1v1h-1zM296.1 62.8h1v1h-1zM293.2 63.6h1v1h-1zM293.5 61.6h1v1h-1zM292.0 48.3h1v1h-1zM283.9 66.6h1v1h-1zM298.0 49.4h1v1h-1zM305.1 61.4h1v1h-1zM310.5 56.9h1v1h-1zM307.7 63.2h1v1h-1zM327.2 55.6h1v1h-1zM304.2 63.4h1v1h-1zM295.9 66.5h1v1h-1zM320.9 56.3h1v1h-1zM289.5 61.8h1v1h-1zM311.2 57.0h1v1h-1zM290.5 64.3h1v1h-1zM304.6 69.6h1v1h-1zM279.7 58.2h1v1h-1zM310.4 48.1h1v1h-1zM299.1 69.7h1v1h-1zM290.4 60.1h1v1h-1zM318.8 48.8h1v1h-1zM309.0 65.0h1v1h-1zM301.3 59.9h1v1h-1zM292.8 52.0h1v1h-1zM300.3 52.2h1v1h-1zM299.0 62.6h1v1h-1zM308.6 58.8h1v1h-1zM309.3 47.9h1v1h-1zM293.6 43.8h1v1h-1zM294.9 55.9h1v1h-1zM295.1 64.3h1v1h-1zM286.3 56.9h1v1h-1zM294.4 58.4h1v1h-1zM299.8 66.0h1v1h-1zM308.2 63.1h1v1h-1zM315.0 70.5h1v1h-1zM292.1 66.7h1v1h-1zM306.7 68.8h1v1h-1zM296.0 58.8h1v1h-1zM323.1 66.4h1v1h-1zM300.3 71.0h1v1h-1zM306.2 47.1h1v1h-1zM290.7 60.3h1v1h-1zM292.1 63.1h1v1h-1zM302.9 52.4h1v1h-1zM296.7 49.4h1v1h-1zM304.6 55.5h1v1h-1zM284.0 48.4h1v1h-1zM307.9 52.8h1v1h-1zM291.1 50.2h1v1h-1zM319.3 62.0h1v1h-1zM297.7 47.2h1v1h-1zM312.6 66.4h1v1h-1zM285.8 59.8h1v1h-1zM305.4 56.6h1v1h-1zM291.2 48.0h1v1h-1zM295.5 57.1h1v1h-1zM301.0 53.5h1v1h-1zM297.4 67.0h1v1h-1zM303.6 57.9h1v1h-1zM308.8 47.7h1v1h-1zM307.8 65.5h1v1h-1zM299.8 70.4h1v1h-1zM286.1 70.5h1v1h-1zM292.1 53.6h1v1h-1zM298.7 56.8h1v1h-1zM279.7 66.2h1v1h-1zM308.9 52.2h1v1h-1zM298.2 53.9h1v1h-1zM298.1 55.6h1v1h-1zM311.0 67.4h1v1h-1zM307.9 43.5h1v1h-1zM303.1 69.5h1v1h-1zM290.0 49.2h1v1h-1zM304.1 69.9h1v1h-1zM304.5 58.2h1v1h-1zM291.3 50.6h1v1h-1zM312.0 53.8h1v1h-1zM306.2 69.8h1v1h-1zM279.7 54.1h1v1h-1zM302.1 65.1h1v1h-1zM287.2 67.2h1v1h-1zM313.0 55.6h1v1h-1zM309.4 56.9h1v1h-1zM288.9 60.2h1v1h-1zM291.3 68.3h1v1h-1zM301.9 47.8h1v1h-1zM298.2 57.5h1v1h-1zM317.2 61.0h1v1h-1zM308.7 52.3h1v1h-1zM297.7 56.0h1v1h-1zM307.0 62.7h1v1h-1zM279.7 60.0h1v1h-1zM304.1 60.4h1v1h-1zM310.1 64.1h1v1h-1zM298.9 54.5h1v1h-1zM293.1 68.7h1v1h-1zM306.9 56.8h1v1h-1zM321.8 65.0h1v1h-1zM303.0 64.5h1v1h-1zM288.7 64.8h1v1h-1zM316.3 58.1h1v1h-1zM280.6 66.9h1v1h-1zM306.2 52.2h1v1h-1zM294.5 64.6h1v1h-1zM310.8 47.9h1v1h-1zM291.7 63.9h1v1h-1zM315.0 72.8h1v1h-1zM304.0 69.6h1v1h-1zM282.2 53.2h1v1h-1zM279.7 70.4h1v1h-1zM297.4 60.3h1v1h-1zM314.7 57.7h1v1h-1zM302.1 57.8h1v1h-1zM301.5 58.7h1v1h-1zM298.2 60.8h1v1h-1zM308.7 71.4h1v1h-1zM304.8 68.4h1v1h-1zM303.8 51.3h1v1h-1zM290.2 67.5h1v1h-1zM313.5 59.8h1v1h-1zM315.4 71.8h1v1h-1zM286.8 57.4h1v1h-1zM325.5 68.9h1v1h-1zM308.5 57.2h1v1h-1zM295.5 52.5h1v1h-1zM280.3 51.8h1v1h-1zM307.8 66.5h1v1h-1zM306.8 49.2h1v1h-1zM294.4 54.5h1v1h-1zM281.5 57.6h1v1h-1zM312.9 53.4h1v1h-1zM294.5 58.6h1v1h-1zM295.7 52.4h1v1h-1zM331.3 67.7h1v1h-1zM323.6 61.5h1v1h-1zM311.0 67.5h1v1h-1zM295.9 67.1h1v1h-1zM307.7 50.5h1v1h-1zM279.7 59.6h1v1h-1zM301.9 49.2h1v1h-1zM292.6 55.2h1v1h-1zM287.0 60.7h1v1h-1zM283.8 65.3h1v1h-1zM306.4 51.5h1v1h-1zM301.7 67.9h1v1h-1zM302.5 65.0h1v1h-1zM309.8 59.9h1v1h-1zM291.7 68.6h1v1h-1zM287.5 56.2h1v1h-1zM281.7 68.0h1v1h-1zM297.2 68.9h1v1h-1zM308.9 57.6h1v1h-1zM299.2 69.1h1v1h-1zM307.7 67.0h1v1h-1zM288.1 60.2h1v1h-1zM295.7 63.5h1v1h-1zM292.6 66.1h1v1h-1zM287.4 68.2h1v1h-1zM320.7 69.8h1v1h-1zM309.9 70.4h1v1h-1zM292.6 55.3h1v1h-1zM292.6 47.2h1v1h-1zM300.2 56.0h1v1h-1zM285.3 50.1h1v1h-1zM305.5 52.0h1v1h-1zM286.9 60.2h1v1h-1zM296.8 50.3h1v1h-1zM289.8 54.1h1v1h-1zM295.6 53.7h1v1h-1zM286.5 72.7h1v1h-1zM283.9 57.5h1v1h-1zM290.4 49.7h1v1h-1zM293.5 66.3h1v1h-1zM297.6 69.7h1v1h-1zM301.5 63.5h1v1h-1zM317.2 47.3h1v1h-1zM309.5 64.4h1v1h-1zM298.1 54.5h1v1h-1zM308.6 64.3h1v1h-1zM293.4 61.8h1v1h-1zM316.3 65.1h1v1h-1zM306.7 50.8h1v1h-1zM286.2 56.7h1v1h-1zM308.9 49.6h1v1h-1zM309.5 67.6h1v1h-1zM279.7 47.2h1v1h-1zM292.7 53.6h1v1h-1zM295.7 64.8h1v1h-1zM280.1 67.9h1v1h-1zM289.3 58.5h1v1h-1zM290.6 53.4h1v1h-1zM306.2 69.1h1v1h-1zM304.0 54.0h1v1h-1zM329.0 58.4h1v1h-1zM296.5 49.4h1v1h-1zM313.2 54.4h1v1h-1zM301.6 68.7h1v1h-1zM303.7 60.9h1v1h-1zM288.3 63.3h1v1h-1zM280.3 58.0h1v1h-1zM292.5 51.2h1v1h-1zM309.0 53.0h1v1h-1zM317.8 70.6h1v1h-1zM307.3 53.5h1v1h-1zM306.1 62.4h1v1h-1zM291.8 58.8h1v1h-1zM317.3 62.1h1v1h-1zM315.2 51.2h1v1h-1zM295.1 51.8h1v1h-1zM300.3 63.7h1v1h-1zM290.1 51.4h1v1h-1zM316.5 65.0h1v1h-1zM305.1 70.5h1v1h-1zM299.8 50.6h1v1h-1zM305.1 51.5h1v1h-1zM305.5 48.5h1v1h-1zM296.4 54.2h1v1h-1zM287.4 52.8h1v1h-1zM287.0 58.9h1v1h-1zM282.1 59.5h1v1h-1zM305.7 61.7h1v1h-1zM324.6 63.6h1v1h-1zM282.5 66.2h1v1h-1zM302.3 54.1h1v1h-1zM305.2 56.3h1v1h-1zM290.2 62.6h1v1h-1zM303.0 55.7h1v1h-1zM289.0 47.7h1v1h-1zM313.7 66.7h1v1h-1zM294.4 65.7h1v1h-1zM301.9 56.6h1v1h-1zM308.1 51.4h1v1h-1zM296.2 65.3h1v1h-1zM281.5 49.4h1v1h-1zM295.1 49.5h1v1h-1zM309.0 62.7h1v1h-1zM299.9 56.5h1v1h-1zM303.2 68.2h1v1h-1zM289.2 54.8h1v1h-1zM302.3 49.5h1v1h-1zM308.6 55.9h1v1h-1zM301.2 66.0h1v1h-1zM321.3 65.0h1v1h-1zM298.5 45.5h1v1h-1zM289.6 52.7h1v1h-1zM283.4 69.7h1v1h-1zM313.1 59.9h1v1h-1zM300.1 55.4h1v1h-1zM311.6 49.1h1v1h-1zM305.7 51.0h1v1h-1zM318.2 45.8h1v1h-1zM314.4 68.9h1v1h-1zM296.7 69.9h1v1h-1zM303.7 62.1h1v1h-1zM312.4 63.0h1v1h-1zM287.5 47.1h1v1h-1zM316.4 50.9h1v1h-1zM313.8 62.8h1v1h-1zM311.3 64.6h1v1h-1zM298.6 57.8h1v1h-1zM304.0 51.6h1v1h-1zM288.8 67.9h1v1h-1zM301.4 51.0h1v1h-1zM294.5 63.0h1v1h-1zM301.7 68.2h1v1h-1zM295.5 50.2h1v1h-1zM303.8 57.7h1v1h-1zM313.4 60.0h1v1h-1zM286.7 67.3h1v1h-1zM310.7 62.9h1v1h-1zM279.7 54.3h1v1h-1zM279.7 64.5h1v1h-1zM299.5 57.7h1v1h-1zM300.8 52.6h1v1h-1zM305.5 49.6h1v1h-1zM283.1 64.4h1v1h-1zM300.1 61.2h1v1h-1zM302.1 55.8h1v1h-1zM314.3 54.1h1v1h-1zM299.7 50.6h1v1h-1zM306.5 64.5h1v1h-1zM290.3 51.4h1v1h-1zM298.8 67.6h1v1h-1zM296.0 69.9h1v1h-1zM308.3 64.0h1v1h-1zM290.2 60.5h1v1h-1zM291.8 52.0h1v1h-1zM307.0 64.2h1v1h-1zM320.0 71.4h1v1h-1zM304.9 58.3h1v1h-1zM304.0 65.5h1v1h-1zM297.1 60.5h1v1h-1zM312.5 64.1h1v1h-1zM306.6 64.1h1v1h-1zM319.4 55.4h1v1h-1zM304.3 56.0h1v1h-1zM290.6 50.0h1v1h-1zM294.7 50.6h1v1h-1zM290.2 56.1h1v1h-1zM287.3 62.7h1v1h-1zM314.3 54.1h1v1h-1zM309.4 67.9h1v1h-1zM287.5 60.5h1v1h-1zM319.9 68.7h1v1h-1zM303.4 66.6h1v1h-1zM290.5 55.9h1v1h-1zM304.9 49.7h1v1h-1zM300.0 56.7h1v1h-1zM292.5 53.9h1v1h-1zM279.9 47.3h1v1h-1zM301.2 47.0h1v1h-1zM303.9 69.9h1v1h-1zM279.7 64.3h1v1h-1zM306.7 55.5h1v1h-1zM307.4 48.1h1v1h-1zM295.7 55.6h1v1h-1zM302.0 59.4h1v1h-1zM297.8 68.7h1v1h-1zM291.8 49.1h1v1h-1zM296.9 66.9h1v1h-1zM315.3 69.1h1v1h-1zM285.2 70.1h1v1h-1zM303.3 60.7h1v1h-1zM302.8 64.0h1v1h-1zM293.2 60.1h1v1h-1zM296.0 47.8h1v1h-1zM285.7 53.3h1v1h-1zM291.6 68.4h1v1h-1zM300.9 53.6h1v1h-1zM304.3 50.6h1v1h-1zM291.1 62.2h1v1h-1zM333.6 67.2h1v1h-1zM294.7 58.2h1v1h-1zM302.1 60.6h1v1h-1zM298.3 73.3h1v1h-1zM296.5 66.0h1v1h-1zM314.7 49.4h1v1h-1zM295.6 64.8h1v1h-1zM315.1 49.6h1v1h-1zM313.0 70.8h1v1h-1zM289.5 64.0h1v1h-1zM311.9 66.6h1v1h-1zM293.8 57.5h1v1h-1zM330.2 49.6h1v1h-1zM296.6 55.7h1v1h-1zM290.7 48.6h1v1h-1zM280.3 65.7h1v1h-1zM286.9 65.9h1v1h-1zM294.5 58.3h1v1h-1zM290.1 64.1h1v1h-1zM287.6 51.0h1v1h-1zM293.3 57.5h1v1h-1zM298.6 55.7h1v1h-1zM316.3 58.2h1v1h-1zM282.5 50.2h1v1h-1zM294.9 51.2h1v1h-1zM290.5 48.6h1v1h-1zM284.5 59.9h1v1h-1zM287.2 57.4h1v1h-1zM291.1 72.3h1v1h-1zM308.5 61.8h1v1h-1zM298.7 51.9h1v1h-1zM295.0 51.3h1v1h-1zM307.3 64.7h1v1h-1zM303.8 68.1h1v1h-1zM298.4 49.9h1v1h-1zM304.9 57.6h1v1h-1zM291.9 66.1h1v1h-1zM307.5 66.8h1v1h-1zM305.8 49.5h1v1h-1zM296.3 60.1h1v1h-1zM287.7 68.0h1v1h-1zM317.1 60.2h1v1h-1zM301.8 49.7h1v1h-1zM333.5 53.1h1v1h-1zM293.8 52.0h1v1h-1zM309.9 53.0h1v1h-1zM296.1 67.7h1v1h-1zM303.5 65.6h1v1h-1zM309.7 68.6h1v1h-1zM292.2 64.1h1v1h-1zM299.7 72.0h1v1h-1zM302.5 54.2h1v1h-1zM302.0 66.8h1v1h-1zM307.2 59.5h1v1h-1zM311.8 66.8h1v1h-1zM309.7 53.1h1v1h-1zM303.6 66.9h1v1h-1zM297.0 55.9h1v1h-1zM288.6 68.4h1v1h-1zM292.9 55.9h1v1h-1zM295.1 54.8h1v1h-1zM308.1 54.7h1v1h-1zM296.9 67.9h1v1h-1zM287.4 62.0h1v1h-1zM307.5 53.4h1v1h-1zM292.2 61.5h1v1h-1zM292.6 67.0h1v1h-1zM298.3 71.1h1v1h-1zM305.9 61.4h1v1h-1zM279.7 55.5h1v1h-1zM288.7 69.2h1v1h-1zM302.7 57.9h1v1h-1zM296.9 62.7h1v1h-1zM291.5 66.1h1v1h-1zM295.0 63.4h1v1h-1zM315.7 49.0h1v1h-1zM295.9 49.8h1v1h-1zM308.4 62.0h1v1h-1zM309.3 63.4h1v1h-1zM295.9 67.4h1v1h-1zM305.5 63.6h1v1h-1zM295.9 64.3h1v1h-1zM294.2 69.6h1v1h-1zM288.7 66.4h1v1h-1zM310.2 55.6h1v1h-1zM296.5 69.3h1v1h-1zM294.8 71.4h1v1h-1zM288.7 51.4h1v1h-1zM320.2 59.0h1v1h-1zM308.7 57.2h1v1h-1zM299.3 59.4h1v1h-1zM293.3 69.2h1v1h-1zM284.3 50.6h1v1h-1zM303.9 50.0h1v1h-1zM303.9 64.5h1v1h-1zM285.7 53.6h1v1h-1zM313.2 59.7h1v1h-1zM309.1 54.8h1v1h-1zM290.4 70.9h1v1h-1zM294.8 57.8h1v1h-1zM296.2 50.4h1v1h-1zM302.5 69.0h1v1h-1zM299.2 65.6h1v1h-1zM283.2 54.5h1v1h-1zM316.6 49.8h1v1h-1zM304.2 48.2h1v1h-1zM314.3 65.0h1v1h-1zM314.3 48.4h1v1h-1zM298.5 51.8h1v1h-1zM304.4 58.7h1v1h-1zM308.7 49.5h1v1h-1zM309.0 64.2h1v1h-1zM299.0 64.1h1v1h-1zM294.1 65.3h1v1h-1zM301.2 56.1h1v1h-1zM292.2 53.8h1v1h-1zM294.8 61.6h1v1h-1zM279.7 70.6h1v1h-1zM301.7 62.4h1v1h-1zM289.7 66.9h1v1h-1zM294.8 50.5h1v1h-1zM300.2 63.6h1v1h-1zM304.1 55.0h1v1h-1zM321.1 55.2h1v1h-1zM303.0 50.7h1v1h-1zM285.6 66.7h1v1h-1zM302.2 56.1h1v1h-1zM294.4 51.2h1v1h-1zM305.1 53.6h1v1h-1zM293.4 57.8h1v1h-1zM293.2 65.1h1v1h-1zM295.3 52.9h1v1h-1zM294.0 48.5h1v1h-1zM281.2 51.4h1v1h-1zM293.6 69.4h1v1h-1zM300.6 68.7h1v1h-1zM313.7 66.4h1v1h-1zM297.6 58.3h1v1h-1zM296.8 47.1h1v1h-1zM307.0 61.1h1v1h-1zM306.6 57.2h1v1h-1zM318.0 53.0h1v1h-1zM307.1 56.5h1v1h-1zM300.6 66.5h1v1h-1zM315.1 61.0h1v1h-1zM317.2 66.0h1v1h-1zM295.7 61.6h1v1h-1zM302.5 59.5h1v1h-1zM282.7 63.3h1v1h-1zM296.9 61.9h1v1h-1zM291.3 63.1h1v1h-1zM298.5 61.7h1v1h-1zM295.6 52.3h1v1h-1zM299.0 51.8h1v1h-1zM299.7 65.4h1v1h-1zM306.1 62.9h1v1h-1zM303.3 63.3h1v1h-1zM294.7 56.2h1v1h-1zM286.9 48.6h1v1h-1zM314.0 66.8h1v1h-1zM316.0 47.8h1v1h-1zM295.9 63.8h1v1h-1zM306.8 47.7h1v1h-1zM284.4 50.9h1v1h-1zM284.0 48.9h1v1h-1zM297.9 49.9h1v1h-1zM316.6 63.8h1v1h-1zM289.5 45.9h1v1h-1zM291.8 52.8h1v1h-1zM318.0 61.8h1v1h-1zM280.4 57.7h1v1h-1zM307.7 58.4h1v1h-1zM306.0 60.3h1v1h-1zM298.6 49.8h1v1h-1zM302.8 50.4h1v1h-1zM328.9 66.2h1v1h-1zM288.7 53.5h1v1h-1zM297.4 50.2h1v1h-1zM298.2 53.0h1v1h-1zM293.4 50.4h1v1h-1zM286.4 63.4h1v1h-1zM317.9 52.8h1v1h-1zM303.1 63.4h1v1h-1zM281.9 55.7h1v1h-1zM293.2 59.5h1v1h-1zM305.1 67.4h1v1h-1zM305.1 59.8h1v1h-1zM285.3 51.9h1v1h-1zM299.8 65.9h1v1h-1zM303.6 55.9h1v1h-1zM305.0 53.8h1v1h-1zM305.0 67.0h1v1h-1zM281.2 50.4h1v1h-1zM320.6 55.3h1v1h-1zM303.0 57.8h1v1h-1zM320.2 69.1h1v1h-1zM331.5 67.7h1v1h-1zM299.1 54.9h1v1h-1zM287.5 46.7h1v1h-1zM310.1 49.3h1v1h-1zM298.8 46.3h1v1h-1zM295.9 68.4h1v1h-1zM289.7 58.3h1v1h-1zM318.9 60.1h1v1h-1zM296.0 63.8h1v1h-1zM285.7 60.9h1v1h-1zM296.0 50.8h1v1h-1zM288.3 63.9h1v1h-1zM302.5 51.3h1v1h-1zM296.3 53.2h1v1h-1zM289.4 48.2h1v1h-1zM307.2 61.0h1v1h-1zM293.9 66.0h1v1h-1zM308.5 50.2h1v1h-1zM314.3 49.0h1v1h-1zM296.9 54.5h1v1h-1zM293.8 50.2h1v1h-1zM302.9 52.5h1v1h-1zM310.3 61.7h1v1h-1zM300.7 63.4h1v1h-1zM302.3 63.7h1v1h-1zM300.5 58.8h1v1h-1zM304.1 62.9h1v1h-1zM307.5 58.8h1v1h-1zM293.2 56.3h1v1h-1zM295.6 47.1h1v1h-1zM301.2 66.6h1v1h-1zM293.6 58.3h1v1h-1zM302.2 68.1h1v1h-1zM306.5 66.8h1v1h-1zM300.5 56.9h1v1h-1zM294.3 64.5h1v1h-1zM292.4 59.1h1v1h-1zM319.6 68.9h1v1h-1zM310.2 68.5h1v1h-1zM288.8 49.2h1v1h-1zM291.7 68.5h1v1h-1zM320.9 53.2h1v1h-1zM317.0 52.9h1v1h-1zM302.2 64.6h1v1h-1zM313.2 48.7h1v1h-1zM284.8 59.7h1v1h-1zM300.8 52.8h1v1h-1zM308.7 48.7h1v1h-1zM280.8 60.7h1v1h-1zM292.4 49.0h1v1h-1zM309.2 68.1h1v1h-1zM312.9 48.9h1v1h-1zM294.4 49.7h1v1h-1zM303.9 71.0h1v1h-1zM318.0 54.3h1v1h-1zM296.7 60.6h1v1h-1zM286.5 50.0h1v1h-1zM300.1 64.9h1v1h-1zM296.6 58.5h1v1h-1zM314.7 67.3h1v1h-1zM302.5 64.1h1v1h-1zM292.2 63.3h1v1h-1zM326.6 56.1h1v1h-1zM295.4 62.9h1v1h-1zM305.8 66.3h1v1h-1zM308.0 55.9h1v1h-1zM309.2 63.4h1v1h-1zM302.6 51.2h1v1h-1zM307.1 66.6h1v1h-1zM300.0 60.4h1v1h-1zM285.5 51.2h1v1h-1zM298.4 51.6h1v1h-1zM298.6 54.2h1v1h-1zM298.9 47.1h1v1h-1zM302.2 58.1h1v1h-1zM294.1 61.3h1v1h-1zM315.0 60.5h1v1h-1zM317.6 56.9h1v1h-1zM279.7 51.5h1v1h-1zM300.9 63.6h1v1h-1zM293.1 54.7h1v1h-1zM279.7 50.9h1v1h-1zM305.2 63.2h1v1h-1zM294.1 45.7h1v1h-1zM296.7 62.2h1v1h-1zM293.8 60.3h1v1h-1zM312.4 67.4h1v1h-1zM314.1 65.4h1v1h-1zM303.7 53.0h1v1h-1zM308.2 63.6h1v1h-1zM299.6 50.2h1v1h-1zM302.3 58.4h1v1h-1zM292.8 57.9h1v1h-1zM301.1 56.0h1v1h-1zM293.1 54.4h1v1h-1zM304.8 69.3h1v1h-1zM309.7 61.2h1v1h-1zM304.1 69.6h1v1h-1zM313.5 54.6h1v1h-1zM329.7 55.9h1v1h-1zM279.7 66.0h1v1h-1zM300.9 55.7h1v1h-1zM294.7 47.5h1v1h-1zM295.9 51.8h1v1h-1zM286.2 62.9h1v1h-1zM301.3 59.0h1v1h-1zM298.0 68.3h1v1h-1zM294.0 63.0h1v1h-1zM298.0 67.5h1v1h-1zM294.4 50.2h1v1h-1zM279.7 68.6h1v1h-1zM312.3 49.9h1v1h-1zM297.5 64.1h1v1h-1zM290.6 68.4h1v1h-1zM304.1 58.3h1v1h-1zM293.7 60.9h1v1h-1zM279.7 53.1h1v1h-1zM310.3 47.2h1v1h-1zM282.8 58.4h1v1h-1zM298.4 47.6h1v1h-1zM302.1 48.2h1v1h-1zM315.3 55.4h1v1h-1zM313.6 59.4h1v1h-1zM302.6 70.2h1v1h-1zM292.6 55.0h1v1h-1zM296.3 56.2h1v1h-1zM312.5 55.6h1v1h-1zM320.0 67.1h1v1h-1zM306.6 65.0h1v1h-1zM293.9 62.5h1v1h-1zM311.8 51.5h1v1h-1zM296.7 57.6h1v1h-1zM296.4 51.2h1v1h-1zM297.8 49.4h1v1h-1zM307.1 59.6h1v1h-1zM303.7 47.2h1v1h-1zM311.4 44.7h1v1h-1zM314.7 60.0h1v1h-1zM306.3 67.9h1v1h-1zM279.7 53.9h1v1h-1zM282.6 66.8h1v1h-1zM302.5 49.1h1v1h-1zM300.1 58.9h1v1h-1zM324.0 52.2h1v1h-1zM300.5 66.6h1v1h-1zM299.1 57.8h1v1h-1zM310.9 59.1h1v1h-1zM312.2 46.8h1v1h-1zM298.2 49.8h1v1h-1zM305.9 56.2h1v1h-1zM288.6 61.0h1v1h-1zM290.6 67.4h1v1h-1zM314.0 66.8h1v1h-1zM285.7 68.5h1v1h-1zM310.7 63.5h1v1h-1zM308.1 66.4h1v1h-1zM309.0 63.8h1v1h-1zM310.6 53.0h1v1h-1zM306.8 47.7h1v1h-1zM279.7 47.2h1v1h-1zM290.0 63.3h1v1h-1zM294.3 65.9h1v1h-1zM310.6 49.0h1v1h-1zM288.7 55.2h1v1h-1zM293.2 49.5h1v1h-1zM296.9 64.6h1v1h-1zM314.9 62.0h1v1h-1zM285.3 63.3h1v1h-1zM286.2 63.0h1v1h-1zM307.5 58.5h1v1h-1zM279.7 53.5h1v1h-1zM304.3 49.4h1v1h-1zM295.9 60.7h1v1h-1zM283.8 62.1h1v1h-1zM296.3 62.5h1v1h-1zM290.0 52.1h1v1h-1zM302.6 65.8h1v1h-1zM304.7 60.7h1v1h-1zM316.8 67.0h1v1h-1zM300.6 54.4h1v1h-1zM301.9 58.3h1v1h-1zM294.6 60.7h1v1h-1zM300.5 47.0h1v1h-1zM312.0 64.0h1v1h-1zM280.1 56.8h1v1h-1zM307.9 61.2h1v1h-1zM295.0 59.6h1v1h-1zM301.6 65.8h1v1h-1zM304.3 68.2h1v1h-1zM309.9 62.9h1v1h-1zM303.3 46.7h1v1h-1zM296.6 49.7h1v1h-1zM304.1 53.1h1v1h-1zM300.9 61.4h1v1h-1zM298.6 59.4h1v1h-1zM303.0 58.0h1v1h-1zM310.2 53.0h1v1h-1zM302.3 52.3h1v1h-1zM302.4 67.0h1v1h-1zM287.0 62.7h1v1h-1zM299.4 67.4h1v1h-1zM280.8 70.0h1v1h-1zM308.5 68.9h1v1h-1zM290.7 62.0h1v1h-1zM314.7 51.3h1v1h-1zM332.9 54.9h1v1h-1zM296.5 60.3h1v1h-1zM315.1 56.6h1v1h-1zM305.1 51.7h1v1h-1zM294.8 66.2h1v1h-1zM291.7 65.7h1v1h-1zM306.8 49.7h1v1h-1zM315.8 50.5h1v1h-1zM304.6 62.6h1v1h-1zM284.5 65.1h1v1h-1zM289.6 50.0h1v1h-1zM298.3 51.6h1v1h-1zM315.3 52.7h1v1h-1zM303.8 63.3h1v1h-1zM304.3 66.2h1v1h-1zM313.8 66.5h1v1h-1zM298.6 50.6h1v1h-1zM299.8 55.9h1v1h-1zM298.8 60.1h1v1h-1zM281.7 62.5h1v1h-1zM305.8 51.2h1v1h-1zM305.2 56.0h1v1h-1zM311.3 61.2h1v1h-1zM288.0 63.1h1v1h-1zM292.0 64.5h1v1h-1zM310.8 58.0h1v1h-1zM304.2 49.5h1v1h-1zM315.5 51.4h1v1h-1zM291.5 60.5h1v1h-1zM302.9 50.4h1v1h-1zM293.5 70.7h1v1h-1zM304.1 54.5h1v1h-1zM295.6 65.4h1v1h-1zM306.5 53.3h1v1h-1zM312.4 64.2h1v1h-1zM308.0 66.0h1v1h-1zM281.4 71.3h1v1h-1zM310.9 60.2h1v1h-1zM305.6 68.1h1v1h-1zM289.6 64.0h1v1h-1zM291.3 55.1h1v1h-1zM300.9 61.0h1v1h-1zM306.9 51.4h1v1h-1zM295.9 52.0h1v1h-1zM283.4 67.0h1v1h-1zM303.8 52.4h1v1h-1zM302.6 53.8h1v1h-1zM327.0 52.5h1v1h-1zM286.9 68.1h1v1h-1zM327.9 51.4h1v1h-1zM319.5 62.7h1v1h-1zM304.0 49.8h1v1h-1zM318.6 65.7h1v1h-1zM301.8 51.5h1v1h-1zM311.3 65.2h1v1h-1zM292.9 71.2h1v1h-1zM301.6 66.1h1v1h-1zM289.9 60.5h1v1h-1zM283.9 66.7h1v1h-1zM297.9 53.8h1v1h-1zM293.7 51.0h1v1h-1zM306.9 59.9h1v1h-1zM314.4 69.8h1v1h-1zM299.0 54.2h1v1h-1zM301.4 60.3h1v1h-1zM302.8 67.2h1v1h-1zM282.8 52.7h1v1h-1zM303.7 53.5h1v1h-1zM300.9 55.5h1v1h-1zM300.3 53.8h1v1h-1zM305.6 80.4h1v1h-1zM293.8 106.9h1v1h-1zM293.5 92.7h1v1h-1zM292.1 80.5h1v1h-1zM297.1 101.4h1v1h-1zM298.3 98.0h1v1h-1zM294.4 82.5h1v1h-1zM299.4 79.2h1v1h-1zM283.4 87.5h1v1h-1zM315.1 67.0h1v1h-1zM301.8 105.6h1v1h-1zM314.7 67.5h1v1h-1zM302.2 83.5h1v1h-1zM297.3 83.5h1v1h-1zM300.2 94.8h1v1h-1zM301.6 93.5h1v1h-1zM292.7 85.9h1v1h-1zM295.5 106.9h1v1h-1zM318.7 81.9h1v1h-1zM308.9 66.2h1v1h-1zM294.2 86.1h1v1h-1zM304.7 67.6h1v1h-1zM291.0 94.6h1v1h-1zM313.6 69.6h1v1h-1zM289.3 66.0h1v1h-1zM308.5 85.0h1v1h-1zM299.7 103.8h1v1h-1zM299.8 101.2h1v1h-1zM291.3 106.9h1v1h-1zM296.9 79.4h1v1h-1zM291.8 106.9h1v1h-1zM290.8 69.6h1v1h-1zM304.1 81.1h1v1h-1zM324.8 93.3h1v1h-1zM296.0 91.4h1v1h-1zM309.6 66.2h1v1h-1zM299.4 102.2h1v1h-1zM292.3 76.5h1v1h-1zM313.0 70.5h1v1h-1zM305.9 95.1h1v1h-1zM311.0 87.0h1v1h-1zM300.6 86.1h1v1h-1zM301.0 95.1h1v1h-1zM291.3 106.9h1v1h-1zM296.8 98.0h1v1h-1zM316.4 85.7h1v1h-1zM279.7 71.2h1v1h-1zM303.4 101.4h1v1h-1zM314.3 72.7h1v1h-1zM307.6 91.3h1v1h-1zM308.4 76.5h1v1h-1zM296.9 93.5h1v1h-1zM310.9 78.5h1v1h-1zM311.2 92.7h1v1h-1zM299.2 81.5h1v1h-1zM316.4 106.9h1v1h-1zM294.7 103.2h1v1h-1zM279.7 103.2h1v1h-1zM299.5 82.7h1v1h-1zM298.5 98.7h1v1h-1zM291.0 67.0h1v1h-1zM295.0 89.7h1v1h-1zM294.2 100.0h1v1h-1zM281.2 81.4h1v1h-1zM312.0 84.4h1v1h-1zM299.6 84.4h1v1h-1zM326.6 88.1h1v1h-1zM299.4 102.4h1v1h-1zM303.6 98.3h1v1h-1zM284.4 69.0h1v1h-1zM309.8 83.7h1v1h-1zM288.6 72.7h1v1h-1zM305.0 79.8h1v1h-1zM308.9 63.6h1v1h-1zM307.2 87.2h1v1h-1zM291.2 106.4h1v1h-1zM291.5 73.9h1v1h-1zM307.2 87.8h1v1h-1zM311.4 67.6h1v1h-1zM314.1 98.0h1v1h-1zM299.3 106.9h1v1h-1zM298.5 83.3h1v1h-1zM317.5 93.7h1v1h-1zM293.6 98.9h1v1h-1zM307.2 79.2h1v1h-1zM296.4 69.8h1v1h-1zM285.2 88.4h1v1h-1zM288.3 98.9h1v1h-1zM304.1 90.7h1v1h-1zM301.7 74.3h1v1h-1zM304.4 87.1h1v1h-1zM296.0 80.6h1v1h-1zM294.5 103.4h1v1h-1zM302.3 84.3h1v1h-1zM297.6 69.2h1v1h-1zM283.4 67.7h1v1h-1zM295.1 98.3h1v1h-1zM316.5 83.9h1v1h-1zM291.8 92.4h1v1h-1zM305.0 98.7h1v1h-1zM298.6 88.5h1v1h-1zM306.8 106.9h1v1h-1zM290.7 80.1h1v1h-1zM286.6 81.8h1v1h-1zM303.9 77.8h1v1h-1zM292.4 98.3h1v1h-1zM299.0 89.1h1v1h-1zM296.2 72.0h1v1h-1zM309.0 96.0h1v1h-1zM301.9 97.7h1v1h-1zM300.8 92.7h1v1h-1zM289.6 106.9h1v1h-1zM283.7 71.7h1v1h-1zM291.0 105.2h1v1h-1zM307.7 73.3h1v1h-1zM306.3 101.9h1v1h-1zM305.2 94.2h1v1h-1zM295.3 101.5h1v1h-1zM289.1 91.3h1v1h-1zM310.8 68.2h1v1h-1zM301.1 71.9h1v1h-1zM304.6 92.6h1v1h-1zM289.9 101.2h1v1h-1zM292.5 70.6h1v1h-1zM305.7 93.2h1v1h-1zM306.7 98.9h1v1h-1zM289.3 91.9h1v1h-1zM302.2 89.5h1v1h-1zM287.6 106.4h1v1h-1zM311.4 105.6h1v1h-1zM305.9 76.7h1v1h-1zM322.0 101.4h1v1h-1zM314.3 95.8h1v1h-1zM292.7 87.0h1v1h-1zM301.2 92.1h1v1h-1zM294.5 103.7h1v1h-1zM300.7 80.6h1v1h-1zM307.1 75.2h1v1h-1zM299.2 105.9h1v1h-1zM299.9 75.1h1v1h-1zM285.9 98.4h1v1h-1zM305.0 100.3h1v1h-1zM299.1 106.0h1v1h-1zM305.5 96.7h1v1h-1zM309.6 104.6h1v1h-1zM299.6 90.9h1v1h-1zM306.2 97.2h1v1h-1zM293.2 90.0h1v1h-1zM308.7 97.9h1v1h-1zM299.0 84.9h1v1h-1zM293.3 106.4h1v1h-1zM296.9 72.6h1v1h-1zM285.1 75.9h1v1h-1zM292.8 106.9h1v1h-1zM295.0 105.3h1v1h-1zM299.5 93.0h1v1h-1zM298.4 95.5h1v1h-1zM292.8 98.0h1v1h-1zM297.4 95.3h1v1h-1zM279.7 69.8h1v1h-1zM300.1 71.3h1v1h-1zM304.7 75.8h1v1h-1zM307.0 73.1h1v1h-1zM309.9 89.0h1v1h-1zM297.1 86.9h1v1h-1zM298.3 95.8h1v1h-1zM294.4 79.7h1v1h-1zM294.4 77.0h1v1h-1zM300.4 104.6h1v1h-1zM312.5 68.6h1v1h-1zM282.4 90.1h1v1h-1zM294.2 71.2h1v1h-1zM301.9 106.9h1v1h-1zM289.2 92.5h1v1h-1zM303.2 98.9h1v1h-1zM285.5 72.3h1v1h-1zM295.6 103.7h1v1h-1zM282.7 89.1h1v1h-1zM301.8 83.1h1v1h-1zM291.3 70.3h1v1h-1zM305.4 91.6h1v1h-1zM296.1 67.1h1v1h-1zM289.5 75.6h1v1h-1zM294.8 74.4h1v1h-1zM300.2 87.6h1v1h-1zM298.8 104.2h1v1h-1zM296.4 90.3h1v1h-1zM295.5 98.2h1v1h-1zM299.0 91.4h1v1h-1zM307.3 72.8h1v1h-1zM293.2 100.9h1v1h-1zM303.2 100.8h1v1h-1zM285.8 74.7h1v1h-1zM308.0 71.6h1v1h-1zM302.5 74.7h1v1h-1zM295.4 97.5h1v1h-1zM295.7 65.4h1v1h-1zM282.1 87.0h1v1h-1zM299.8 80.9h1v1h-1zM296.5 106.9h1v1h-1zM285.1 76.4h1v1h-1zM294.6 106.9h1v1h-1zM304.6 105.3h1v1h-1zM300.7 105.8h1v1h-1zM301.6 98.7h1v1h-1zM293.4 101.2h1v1h-1zM307.3 104.8h1v1h-1zM298.7 86.0h1v1h-1zM307.3 106.9h1v1h-1zM320.8 97.1h1v1h-1zM279.7 84.9h1v1h-1zM294.0 84.5h1v1h-1zM299.1 72.8h1v1h-1zM291.7 95.3h1v1h-1zM309.2 93.1h1v1h-1zM295.6 106.5h1v1h-1zM315.5 95.9h1v1h-1zM306.5 72.2h1v1h-1zM303.2 105.5h1v1h-1zM298.9 95.2h1v1h-1zM307.4 93.1h1v1h-1zM304.0 84.0h1v1h-1zM313.6 77.4h1v1h-1zM303.3 101.2h1v1h-1zM309.3 96.8h1v1h-1zM303.2 89.1h1v1h-1zM302.5 71.4h1v1h-1zM283.8 83.4h1v1h-1zM299.3 101.6h1v1h-1zM303.1 92.1h1v1h-1zM287.8 101.3h1v1h-1zM285.6 92.5h1v1h-1zM296.2 88.7h1v1h-1zM302.2 78.5h1v1h-1zM282.5 103.2h1v1h-1zM302.3 67.0h1v1h-1zM308.7 85.5h1v1h-1zM296.8 101.6h1v1h-1zM301.6 74.0h1v1h-1zM303.8 95.1h1v1h-1zM292.7 69.8h1v1h-1zM305.4 84.3h1v1h-1zM303.7 104.4h1v1h-1zM287.0 106.3h1v1h-1zM304.4 98.9h1v1h-1zM307.9 100.2h1v1h-1zM288.6 95.3h1v1h-1zM307.8 106.4h1v1h-1zM296.6 104.7h1v1h-1zM286.0 74.1h1v1h-1zM289.0 104.3h1v1h-1zM290.5 90.1h1v1h-1zM304.6 103.5h1v1h-1zM294.5 77.5h1v1h-1zM295.4 76.0h1v1h-1zM286.8 77.6h1v1h-1zM299.5 93.2h1v1h-1zM286.9 78.0h1v1h-1zM292.6 88.0h1v1h-1zM305.3 70.8h1v1h-1zM305.8 97.3h1v1h-1zM294.0 106.4h1v1h-1zM298.7 92.9h1v1h-1zM304.5 65.2h1v1h-1zM299.1 84.5h1v1h-1zM311.1 96.2h1v1h-1zM312.5 106.9h1v1h-1zM298.4 69.0h1v1h-1zM287.1 75.8h1v1h-1zM297.7 80.0h1v1h-1zM312.6 82.5h1v1h-1zM310.4 104.4h1v1h-1zM311.0 101.9h1v1h-1zM310.3 100.0h1v1h-1zM294.2 86.5h1v1h-1zM302.0 106.9h1v1h-1zM310.0 105.9h1v1h-1zM301.9 106.9h1v1h-1zM308.0 91.6h1v1h-1zM289.3 88.3h1v1h-1zM287.2 80.8h1v1h-1zM319.2 78.1h1v1h-1zM306.9 94.3h1v1h-1zM305.4 79.6h1v1h-1zM313.9 91.3h1v1h-1zM321.4 89.1h1v1h-1zM327.9 89.7h1v1h-1zM279.7 84.5h1v1h-1zM303.2 102.8h1v1h-1zM309.7 80.2h1v1h-1zM280.4 106.9h1v1h-1zM281.6 104.2h1v1h-1zM297.6 92.3h1v1h-1zM318.2 101.0h1v1h-1zM308.8 106.7h1v1h-1zM320.9 72.1h1v1h-1zM302.3 79.8h1v1h-1zM310.1 81.0h1v1h-1zM314.6 72.6h1v1h-1zM304.0 84.2h1v1h-1zM299.2 76.7h1v1h-1zM300.6 73.4h1v1h-1zM279.7 74.8h1v1h-1zM302.6 75.1h1v1h-1zM280.8 71.8h1v1h-1zM291.2 101.2h1v1h-1zM306.4 91.9h1v1h-1zM303.3 106.9h1v1h-1zM279.7 81.5h1v1h-1zM304.6 68.5h1v1h-1zM306.8 106.7h1v1h-1zM301.3 70.1h1v1h-1zM306.1 106.9h1v1h-1zM304.9 92.0h1v1h-1zM282.3 91.7h1v1h-1zM297.1 106.1h1v1h-1zM296.3 76.4h1v1h-1zM287.1 95.0h1v1h-1zM298.7 76.2h1v1h-1zM291.0 89.5h1v1h-1zM298.3 84.9h1v1h-1zM290.5 81.7h1v1h-1zM309.6 89.0h1v1h-1zM321.3 88.5h1v1h-1zM293.4 103.1h1v1h-1zM299.6 83.8h1v1h-1zM299.7 91.5h1v1h-1zM303.6 74.3h1v1h-1zM297.4 79.2h1v1h-1zM279.7 106.9h1v1h-1zM302.6 71.4h1v1h-1zM297.8 80.5h1v1h-1zM288.4 76.3h1v1h-1zM297.1 101.5h1v1h-1zM294.0 104.8h1v1h-1zM301.4 88.4h1v1h-1zM295.9 72.8h1v1h-1zM296.2 96.7h1v1h-1zM300.1 79.6h1v1h-1zM301.5 72.0h1v1h-1zM299.2 103.5h1v1h-1zM310.7 85.2h1v1h-1zM301.5 106.9h1v1h-1zM291.3 78.4h1v1h-1zM316.3 101.0h1v1h-1zM300.2 90.6h1v1h-1zM314.7 82.7h1v1h-1zM288.4 69.8h1v1h-1zM304.6 92.3h1v1h-1zM316.2 71.9h1v1h-1zM311.7 69.6h1v1h-1zM299.9 88.4h1v1h-1zM293.2 66.5h1v1h-1zM293.0 87.4h1v1h-1zM297.2 95.7h1v1h-1zM289.3 82.3h1v1h-1zM291.6 95.6h1v1h-1zM289.1 89.5h1v1h-1zM289.0 81.8h1v1h-1zM301.4 89.7h1v1h-1zM281.4 83.6h1v1h-1zM300.6 99.1h1v1h-1zM305.9 103.2h1v1h-1zM289.6 88.4h1v1h-1zM289.9 85.8h1v1h-1zM299.2 76.2h1v1h-1zM298.6 89.0h1v1h-1zM308.5 82.7h1v1h-1zM279.7 82.3h1v1h-1zM298.3 97.6h1v1h-1zM313.0 99.5h1v1h-1zM299.9 74.4h1v1h-1zM316.7 70.3h1v1h-1zM320.8 78.3h1v1h-1zM293.6 88.1h1v1h-1zM314.0 85.2h1v1h-1zM304.2 79.1h1v1h-1zM298.9 84.9h1v1h-1zM296.3 101.7h1v1h-1zM296.9 101.3h1v1h-1zM290.0 73.6h1v1h-1zM297.4 84.9h1v1h-1zM308.5 70.2h1v1h-1zM311.7 68.6h1v1h-1zM295.3 73.3h1v1h-1zM304.4 68.9h1v1h-1zM303.9 82.7h1v1h-1zM279.7 85.1h1v1h-1zM306.2 106.9h1v1h-1zM286.8 105.9h1v1h-1zM287.6 91.9h1v1h-1zM307.5 72.7h1v1h-1zM315.8 94.8h1v1h-1zM288.0 87.3h1v1h-1zM290.2 99.1h1v1h-1zM289.6 106.9h1v1h-1zM293.8 100.0h1v1h-1zM295.2 104.4h1v1h-1zM290.7 79.6h1v1h-1zM282.7 80.8h1v1h-1zM316.7 104.4h1v1h-1zM294.0 102.6h1v1h-1zM291.4 76.0h1v1h-1zM308.0 71.4h1v1h-1zM295.3 89.5h1v1h-1zM309.8 74.7h1v1h-1zM306.8 72.4h1v1h-1zM308.8 67.8h1v1h-1zM295.0 106.9h1v1h-1zM305.3 89.2h1v1h-1zM283.5 92.0h1v1h-1zM285.3 82.5h1v1h-1zM299.7 95.5h1v1h-1zM295.9 75.2h1v1h-1zM312.4 82.7h1v1h-1zM296.3 79.2h1v1h-1zM281.3 80.4h1v1h-1zM299.6 87.5h1v1h-1zM296.1 78.1h1v1h-1zM300.9 92.8h1v1h-1zM287.4 82.1h1v1h-1zM291.3 81.5h1v1h-1zM299.7 99.9h1v1h-1zM306.5 99.7h1v1h-1zM303.2 78.8h1v1h-1zM306.6 106.8h1v1h-1zM284.6 81.5h1v1h-1zM296.9 100.1h1v1h-1zM301.3 104.3h1v1h-1zM308.7 79.0h1v1h-1zM301.8 72.8h1v1h-1zM296.7 96.2h1v1h-1zM297.9 91.1h1v1h-1zM298.3 79.6h1v1h-1zM284.9 68.7h1v1h-1zM299.5 70.2h1v1h-1zM307.2 67.8h1v1h-1zM306.3 80.0h1v1h-1zM280.6 79.4h1v1h-1zM299.2 87.3h1v1h-1zM284.2 89.5h1v1h-1zM310.1 73.8h1v1h-1zM304.6 81.5h1v1h-1zM306.3 105.7h1v1h-1zM292.6 72.5h1v1h-1zM279.9 90.4h1v1h-1zM288.8 73.4h1v1h-1zM295.7 102.0h1v1h-1zM284.2 77.1h1v1h-1zM289.2 71.9h1v1h-1zM316.7 90.2h1v1h-1zM286.1 97.2h1v1h-1zM304.7 105.7h1v1h-1zM280.6 96.6h1v1h-1zM301.7 81.1h1v1h-1zM307.6 101.3h1v1h-1zM303.7 83.8h1v1h-1zM311.2 78.1h1v1h-1zM317.2 94.8h1v1h-1zM285.5 94.1h1v1h-1zM301.9 89.2h1v1h-1zM304.5 73.3h1v1h-1zM303.5 90.7h1v1h-1zM315.2 102.9h1v1h-1zM302.1 76.9h1v1h-1zM311.4 106.9h1v1h-1zM310.9 84.9h1v1h-1zM300.9 85.1h1v1h-1zM304.9 102.7h1v1h-1zM291.8 104.7h1v1h-1zM302.6 103.0h1v1h-1zM301.4 102.4h1v1h-1zM298.0 77.3h1v1h-1zM294.9 81.2h1v1h-1zM309.2 97.4h1v1h-1zM298.5 93.4h1v1h-1zM322.3 103.4h1v1h-1zM312.6 82.3h1v1h-1zM307.2 74.4h1v1h-1zM293.8 72.9h1v1h-1zM308.7 106.5h1v1h-1zM301.1 83.7h1v1h-1zM300.6 75.0h1v1h-1zM288.8 70.1h1v1h-1zM305.5 98.9h1v1h-1zM302.2 99.1h1v1h-1zM295.1 75.0h1v1h-1zM293.1 98.5h1v1h-1zM297.0 97.9h1v1h-1zM286.6 73.3h1v1h-1zM294.3 67.8h1v1h-1zM313.6 101.5h1v1h-1zM293.3 100.9h1v1h-1zM322.8 100.8h1v1h-1zM286.5 99.4h1v1h-1zM310.7 93.6h1v1h-1zM310.6 101.6h1v1h-1zM311.4 106.9h1v1h-1zM305.5 79.4h1v1h-1zM283.8 84.8h1v1h-1zM311.2 80.4h1v1h-1zM310.5 69.8h1v1h-1zM300.2 89.1h1v1h-1zM279.7 85.4h1v1h-1zM310.5 91.8h1v1h-1zM290.6 106.9h1v1h-1zM297.0 84.1h1v1h-1zM312.1 73.2h1v1h-1zM313.0 90.4h1v1h-1zM303.6 104.2h1v1h-1zM294.2 105.6h1v1h-1zM316.8 89.3h1v1h-1zM311.3 72.3h1v1h-1zM298.2 74.0h1v1h-1zM290.1 67.7h1v1h-1zM302.6 106.4h1v1h-1zM286.2 80.4h1v1h-1zM317.3 83.4h1v1h-1zM304.7 98.7h1v1h-1zM296.1 71.2h1v1h-1zM303.7 104.6h1v1h-1zM283.0 85.2h1v1h-1zM298.9 76.6h1v1h-1zM293.2 71.9h1v1h-1zM283.8 102.7h1v1h-1zM293.2 93.7h1v1h-1zM303.0 106.9h1v1h-1zM285.2 69.7h1v1h-1zM297.5 84.2h1v1h-1zM284.9 97.7h1v1h-1zM301.5 80.3h1v1h-1zM281.9 105.8h1v1h-1zM306.6 89.7h1v1h-1zM306.1 95.2h1v1h-1zM307.7 88.2h1v1h-1zM317.5 64.0h1v1h-1zM301.1 97.0h1v1h-1zM300.6 95.8h1v1h-1zM305.4 96.4h1v1h-1zM294.7 102.4h1v1h-1zM280.4 72.6h1v1h-1zM287.1 67.0h1v1h-1zM287.1 88.8h1v1h-1zM301.3 99.7h1v1h-1zM292.9 91.5h1v1h-1zM295.4 77.1h1v1h-1zM304.9 79.9h1v1h-1zM301.2 81.1h1v1h-1zM319.3 64.5h1v1h-1zM298.8 75.0h1v1h-1zM289.9 69.6h1v1h-1zM312.0 87.9h1v1h-1zM295.2 92.8h1v1h-1zM298.6 96.0h1v1h-1zM309.3 66.4h1v1h-1zM301.1 93.0h1v1h-1zM306.3 103.5h1v1h-1zM293.1 74.5h1v1h-1zM296.4 90.9h1v1h-1zM305.8 87.0h1v1h-1zM294.1 102.3h1v1h-1zM295.5 87.3h1v1h-1zM299.1 106.9h1v1h-1zM315.5 70.2h1v1h-1zM314.3 102.5h1v1h-1zM301.9 105.1h1v1h-1zM300.3 83.5h1v1h-1zM292.7 79.0h1v1h-1zM312.9 66.6h1v1h-1zM303.9 96.6h1v1h-1zM309.2 99.4h1v1h-1zM285.8 81.0h1v1h-1zM307.9 81.0h1v1h-1zM301.4 97.1h1v1h-1zM307.5 78.6h1v1h-1zM310.3 90.6h1v1h-1zM300.1 84.1h1v1h-1zM296.3 70.5h1v1h-1zM306.9 72.9h1v1h-1zM288.0 78.4h1v1h-1zM314.3 78.9h1v1h-1zM303.5 93.0h1v1h-1zM289.0 69.9h1v1h-1zM313.0 84.7h1v1h-1zM309.8 81.4h1v1h-1zM315.5 98.3h1v1h-1zM310.2 77.2h1v1h-1zM305.2 88.8h1v1h-1zM299.9 94.5h1v1h-1zM289.7 101.4h1v1h-1zM307.9 88.0h1v1h-1zM306.3 83.4h1v1h-1zM296.2 71.8h1v1h-1zM306.3 88.6h1v1h-1zM291.5 79.5h1v1h-1zM311.0 102.6h1v1h-1zM301.9 106.9h1v1h-1zM302.9 80.4h1v1h-1zM293.1 87.1h1v1h-1zM309.9 81.5h1v1h-1zM302.0 94.2h1v1h-1zM294.7 92.0h1v1h-1zM304.2 75.1h1v1h-1zM298.3 91.7h1v1h-1zM310.8 85.6h1v1h-1zM285.2 81.6h1v1h-1zM288.8 80.0h1v1h-1zM320.5 81.2h1v1h-1zM295.3 72.6h1v1h-1zM305.2 104.6h1v1h-1zM296.2 85.8h1v1h-1zM302.4 97.7h1v1h-1zM326.4 95.5h1v1h-1zM280.5 103.0h1v1h-1zM305.7 100.3h1v1h-1zM300.8 79.6h1v1h-1zM300.5 89.7h1v1h-1zM292.3 96.7h1v1h-1zM290.7 102.0h1v1h-1zM313.8 86.3h1v1h-1zM305.2 66.8h1v1h-1zM288.2 79.2h1v1h-1zM300.2 97.4h1v1h-1zM286.8 82.7h1v1h-1zM328.8 89.6h1v1h-1zM303.9 102.8h1v1h-1zM282.1 74.3h1v1h-1zM309.4 68.4h1v1h-1zM306.3 84.0h1v1h-1zM303.2 77.2h1v1h-1zM301.9 79.7h1v1h-1zM294.5 106.9h1v1h-1zM298.1 101.1h1v1h-1zM279.8 73.2h1v1h-1zM313.1 105.7h1v1h-1zM320.1 80.1h1v1h-1zM305.0 98.1h1v1h-1zM306.2 89.2h1v1h-1zM286.4 87.5h1v1h-1zM295.7 84.4h1v1h-1zM285.8 75.4h1v1h-1zM286.9 94.2h1v1h-1zM305.4 79.2h1v1h-1zM314.1 86.9h1v1h-1zM299.3 95.6h1v1h-1zM324.8 91.4h1v1h-1zM308.2 84.4h1v1h-1zM279.7 103.2h1v1h-1zM295.9 106.9h1v1h-1zM313.0 103.0h1v1h-1zM301.5 67.2h1v1h-1zM310.3 70.2h1v1h-1zM283.0 88.3h1v1h-1zM312.7 102.8h1v1h-1zM288.0 75.3h1v1h-1zM303.3 67.7h1v1h-1zM321.1 84.2h1v1h-1zM300.6 72.0h1v1h-1zM297.5 88.8h1v1h-1zM307.5 102.0h1v1h-1zM291.5 82.6h1v1h-1zM290.3 71.3h1v1h-1zM309.6 94.9h1v1h-1zM284.9 103.3h1v1h-1zM287.4 89.0h1v1h-1zM317.4 83.0h1v1h-1zM287.3 95.8h1v1h-1zM304.2 71.9h1v1h-1zM310.9 106.9h1v1h-1zM299.2 94.1h1v1h-1zM289.1 88.0h1v1h-1zM308.0 99.2h1v1h-1zM290.4 65.3h1v1h-1zM320.9 100.7h1v1h-1zM321.9 74.2h1v1h-1zM289.4 88.5h1v1h-1zM305.5 70.6h1v1h-1zM292.7 86.2h1v1h-1zM303.5 73.4h1v1h-1zM297.2 92.3h1v1h-1zM289.9 78.9h1v1h-1zM304.8 81.2h1v1h-1zM283.1 88.9h1v1h-1zM302.8 96.5h1v1h-1zM298.1 106.9h1v1h-1zM291.8 89.4h1v1h-1zM308.7 101.8h1v1h-1zM300.0 68.5h1v1h-1zM296.1 85.1h1v1h-1zM297.9 92.9h1v1h-1zM297.4 70.5h1v1h-1zM308.9 91.6h1v1h-1zM296.7 82.7h1v1h-1zM279.7 84.9h1v1h-1zM279.7 73.3h1v1h-1zM289.0 81.3h1v1h-1zM286.9 66.9h1v1h-1zM296.8 92.7h1v1h-1zM285.9 67.9h1v1h-1zM291.4 92.2h1v1h-1zM312.7 93.3h1v1h-1zM286.1 73.4h1v1h-1zM308.0 75.9h1v1h-1zM298.3 66.0h1v1h-1zM312.6 68.0h1v1h-1zM308.5 105.2h1v1h-1zM300.2 73.0h1v1h-1zM310.4 87.5h1v1h-1zM301.9 92.0h1v1h-1zM288.4 94.3h1v1h-1zM304.7 74.2h1v1h-1zM304.8 68.9h1v1h-1zM298.6 99.2h1v1h-1zM302.4 77.2h1v1h-1zM295.5 101.9h1v1h-1zM303.1 83.1h1v1h-1zM297.1 72.2h1v1h-1zM284.4 86.6h1v1h-1zM297.2 94.1h1v1h-1zM315.9 98.3h1v1h-1zM308.2 70.2h1v1h-1zM315.0 80.2h1v1h-1zM299.9 90.3h1v1h-1zM295.9 82.9h1v1h-1zM289.3 76.1h1v1h-1zM301.4 77.0h1v1h-1zM310.1 106.0h1v1h-1zM308.1 101.7h1v1h-1zM307.3 81.4h1v1h-1zM294.8 99.3h1v1h-1zM301.0 69.1h1v1h-1zM292.2 91.7h1v1h-1zM308.2 96.7h1v1h-1zM305.9 72.1h1v1h-1zM293.5 94.7h1v1h-1zM301.2 78.7h1v1h-1zM279.7 82.2h1v1h-1zM306.9 99.2h1v1h-1zM291.7 103.8h1v1h-1zM296.2 106.9h1v1h-1zM305.9 75.9h1v1h-1zM306.6 69.1h1v1h-1zM293.1 79.6h1v1h-1zM315.8 92.9h1v1h-1zM320.0 93.6h1v1h-1zM314.3 106.9h1v1h-1zM313.0 75.3h1v1h-1zM300.4 94.9h1v1h-1zM313.8 81.5h1v1h-1zM291.1 74.4h1v1h-1zM288.7 95.3h1v1h-1zM301.5 89.3h1v1h-1zM302.4 96.5h1v1h-1zM291.2 63.5h1v1h-1zM317.6 102.9h1v1h-1zM285.2 81.8h1v1h-1zM279.7 80.7h1v1h-1zM295.8 103.0h1v1h-1zM316.2 87.3h1v1h-1zM307.3 76.0h1v1h-1zM303.2 84.9h1v1h-1zM301.1 90.0h1v1h-1zM305.4 96.2h1v1h-1zM303.0 101.4h1v1h-1zM300.7 90.3h1v1h-1zM298.5 71.4h1v1h-1zM283.7 78.1h1v1h-1zM309.4 95.0h1v1h-1zM295.4 86.9h1v1h-1zM303.5 103.8h1v1h-1zM304.6 91.4h1v1h-1zM310.0 73.9h1v1h-1zM291.8 85.3h1v1h-1zM307.9 83.3h1v1h-1zM308.2 69.2h1v1h-1zM298.6 88.5h1v1h-1zM299.1 74.0h1v1h-1zM301.1 66.3h1v1h-1zM289.4 104.2h1v1h-1zM295.1 72.7h1v1h-1zM288.3 69.5h1v1h-1zM311.5 105.6h1v1h-1zM291.8 83.5h1v1h-1zM288.9 78.9h1v1h-1zM301.1 84.5h1v1h-1zM305.0 69.1h1v1h-1zM295.9 78.2h1v1h-1zM290.1 91.8h1v1h-1zM303.8 95.4h1v1h-1zM308.1 70.1h1v1h-1zM283.2 73.8h1v1h-1zM308.6 104.9h1v1h-1zM281.8 102.5h1v1h-1zM306.1 81.0h1v1h-1zM295.1 92.9h1v1h-1zM297.0 91.1h1v1h-1zM306.7 97.4h1v1h-1zM313.9 70.9h1v1h-1zM320.4 89.2h1v1h-1zM313.2 97.0h1v1h-1zM306.4 87.8h1v1h-1zM286.2 85.4h1v1h-1zM295.5 70.2h1v1h-1zM300.8 100.3h1v1h-1zM293.5 86.1h1v1h-1zM305.4 90.0h1v1h-1zM297.1 87.0h1v1h-1zM317.4 91.9h1v1h-1zM297.7 80.4h1v1h-1zM286.9 101.0h1v1h-1zM294.4 77.2h1v1h-1zM292.3 106.9h1v1h-1zM306.6 84.1h1v1h-1zM313.5 77.7h1v1h-1zM309.7 73.6h1v1h-1zM309.7 70.7h1v1h-1zM292.7 71.4h1v1h-1zM288.5 105.0h1v1h-1zM291.5 86.7h1v1h-1zM299.9 106.9h1v1h-1zM296.1 94.0h1v1h-1zM302.4 102.2h1v1h-1zM309.8 104.0h1v1h-1zM300.4 95.8h1v1h-1zM316.6 90.6h1v1h-1zM291.9 81.2h1v1h-1zM306.0 77.8h1v1h-1zM299.1 106.9h1v1h-1zM309.7 65.9h1v1h-1zM299.4 93.2h1v1h-1zM294.4 82.1h1v1h-1zM298.4 97.9h1v1h-1zM290.9 97.8h1v1h-1zM288.7 93.6h1v1h-1zM307.7 77.7h1v1h-1zM293.6 67.1h1v1h-1zM311.8 87.1h1v1h-1zM324.7 73.3h1v1h-1zM295.9 102.7h1v1h-1zM308.3 106.9h1v1h-1zM298.8 93.8h1v1h-1zM280.7 90.0h1v1h-1zM298.6 93.5h1v1h-1zM314.3 67.4h1v1h-1zM287.4 94.9h1v1h-1zM297.9 91.9h1v1h-1zM297.8 74.7h1v1h-1zM285.0 93.6h1v1h-1zM302.6 106.9h1v1h-1zM298.0 69.7h1v1h-1zM305.3 90.4h1v1h-1zM300.0 89.0h1v1h-1zM285.3 76.3h1v1h-1zM300.8 98.3h1v1h-1zM305.7 90.0h1v1h-1zM296.9 72.7h1v1h-1zM305.0 106.6h1v1h-1zM304.8 70.0h1v1h-1zM279.7 92.2h1v1h-1zM305.6 83.1h1v1h-1zM279.7 73.2h1v1h-1zM286.4 68.3h1v1h-1zM297.9 98.7h1v1h-1zM289.4 70.3h1v1h-1zM291.1 96.1h1v1h-1zM310.2 85.4h1v1h-1zM288.4 91.7h1v1h-1zM310.9 73.2h1v1h-1zM317.3 89.2h1v1h-1zM313.0 102.9h1v1h-1zM288.0 75.5h1v1h-1zM283.6 95.3h1v1h-1zM299.6 105.1h1v1h-1zM320.1 68.6h1v1h-1zM296.8 69.8h1v1h-1zM293.3 106.9h1v1h-1zM297.7 91.9h1v1h-1zM306.4 66.5h1v1h-1zM310.8 98.7h1v1h-1zM298.9 80.8h1v1h-1zM297.6 99.4h1v1h-1zM304.0 99.1h1v1h-1zM299.3 95.1h1v1h-1zM294.8 98.9h1v1h-1zM281.3 103.6h1v1h-1zM300.1 70.0h1v1h-1zM292.9 103.4h1v1h-1zM296.6 79.9h1v1h-1zM296.0 101.9h1v1h-1zM290.1 101.5h1v1h-1zM304.4 92.5h1v1h-1zM309.6 99.9h1v1h-1zM304.2 98.2h1v1h-1zM292.4 72.6h1v1h-1zM300.6 104.8h1v1h-1zM305.9 99.2h1v1h-1zM297.9 100.0h1v1h-1zM305.9 77.6h1v1h-1zM284.8 77.6h1v1h-1zM296.7 103.4h1v1h-1zM313.3 76.4h1v1h-1zM308.9 92.5h1v1h-1zM297.7 93.2h1v1h-1zM300.2 94.6h1v1h-1zM320.5 94.9h1v1h-1zM309.9 105.1h1v1h-1zM292.0 85.9h1v1h-1zM302.1 73.6h1v1h-1zM294.5 74.3h1v1h-1zM293.2 95.5h1v1h-1zM287.0 77.5h1v1h-1zM306.2 82.9h1v1h-1zM321.3 97.4h1v1h-1zM307.7 68.7h1v1h-1zM286.1 92.8h1v1h-1zM304.4 94.6h1v1h-1zM284.6 73.7h1v1h-1zM301.4 106.9h1v1h-1zM309.7 94.2h1v1h-1zM314.0 86.8h1v1h-1zM300.4 81.6h1v1h-1zM302.4 71.9h1v1h-1zM299.4 90.7h1v1h-1zM297.5 105.2h1v1h-1zM314.8 106.9h1v1h-1zM289.7 71.0h1v1h-1zM283.4 96.9h1v1h-1zM316.7 70.7h1v1h-1zM321.9 93.4h1v1h-1zM283.4 106.9h1v1h-1zM308.6 90.6h1v1h-1zM307.3 99.2h1v1h-1zM295.1 78.4h1v1h-1zM289.7 82.7h1v1h-1zM300.8 80.8h1v1h-1zM295.9 106.9h1v1h-1zM307.4 105.4h1v1h-1zM293.0 97.5h1v1h-1zM311.0 93.2h1v1h-1zM293.0 100.5h1v1h-1zM315.5 72.1h1v1h-1zM308.1 70.2h1v1h-1zM310.6 85.3h1v1h-1zM295.4 106.9h1v1h-1zM297.0 101.7h1v1h-1zM298.4 81.1h1v1h-1zM311.1 101.8h1v1h-1zM292.7 68.5h1v1h-1zM291.5 63.5h1v1h-1zM297.0 78.4h1v1h-1zM302.8 100.9h1v1h-1zM298.5 80.6h1v1h-1zM298.6 71.3h1v1h-1zM286.2 89.6h1v1h-1zM293.1 86.2h1v1h-1zM288.6 71.9h1v1h-1zM309.7 100.8h1v1h-1zM298.8 93.6h1v1h-1zM306.0 80.4h1v1h-1zM286.1 101.1h1v1h-1zM298.9 99.0h1v1h-1zM303.0 78.1h1v1h-1zM288.7 91.5h1v1h-1zM292.8 68.5h1v1h-1zM294.1 88.0h1v1h-1zM300.7 106.2h1v1h-1zM302.0 86.2h1v1h-1zM285.1 104.4h1v1h-1zM302.5 88.9h1v1h-1zM301.3 74.5h1v1h-1zM302.1 101.7h1v1h-1zM290.5 81.8h1v1h-1zM298.5 84.9h1v1h-1zM312.0 97.5h1v1h-1zM310.7 70.0h1v1h-1zM293.1 73.6h1v1h-1zM315.2 67.6h1v1h-1zM295.0 71.4h1v1h-1zM290.3 106.8h1v1h-1zM310.4 82.2h1v1h-1zM302.5 66.9h1v1h-1zM322.0 92.8h1v1h-1zM296.9 80.2h1v1h-1zM300.5 106.4h1v1h-1zM306.5 103.5h1v1h-1zM301.8 90.7h1v1h-1zM295.2 97.3h1v1h-1zM299.2 106.9h1v1h-1zM299.0 75.3h1v1h-1zM299.0 94.7h1v1h-1zM298.9 92.0h1v1h-1zM283.9 96.5h1v1h-1zM308.1 90.1h1v1h-1zM293.0 101.4h1v1h-1zM296.8 85.0h1v1h-1zM291.3 70.6h1v1h-1zM297.2 80.0h1v1h-1zM309.0 101.8h1v1h-1zM311.9 86.7h1v1h-1zM302.5 65.4h1v1h-1zM300.9 92.0h1v1h-1zM294.0 80.1h1v1h-1zM296.4 73.7h1v1h-1zM301.6 103.9h1v1h-1zM297.7 91.6h1v1h-1zM289.4 86.6h1v1h-1zM299.9 95.8h1v1h-1zM288.8 99.6h1v1h-1zM319.9 81.1h1v1h-1zM302.3 105.8h1v1h-1zM293.6 95.8h1v1h-1zM303.9 103.6h1v1h-1zM291.8 70.1h1v1h-1zM296.7 82.9h1v1h-1zM314.7 101.9h1v1h-1zM312.1 106.9h1v1h-1zM287.4 105.8h1v1h-1zM288.1 106.8h1v1h-1zM294.1 63.7h1v1h-1zM321.7 76.4h1v1h-1zM299.9 84.6h1v1h-1zM301.8 75.7h1v1h-1zM294.2 104.8h1v1h-1zM312.5 75.2h1v1h-1zM308.9 103.7h1v1h-1zM282.0 102.3h1v1h-1zM290.8 81.1h1v1h-1zM281.0 98.0h1v1h-1zM287.7 89.0h1v1h-1zM291.1 97.9h1v1h-1zM285.9 93.6h1v1h-1zM292.9 92.0h1v1h-1zM306.1 83.7h1v1h-1zM310.5 76.3h1v1h-1zM300.4 78.6h1v1h-1zM306.5 75.6h1v1h-1zM285.7 93.5h1v1h-1zM313.9 73.7h1v1h-1zM322.1 86.0h1v1h-1zM297.8 94.5h1v1h-1zM304.9 94.5h1v1h-1zM302.8 88.5h1v1h-1zM279.7 82.2h1v1h-1zM309.4 73.8h1v1h-1zM304.0 92.1h1v1h-1zM283.1 76.4h1v1h-1zM295.0 82.4h1v1h-1zM310.8 104.6h1v1h-1zM305.0 99.2h1v1h-1zM285.5 74.0h1v1h-1zM293.5 101.6h1v1h-1zM292.3 102.0h1v1h-1zM300.7 65.9h1v1h-1zM292.2 96.7h1v1h-1zM299.7 98.5h1v1h-1zM297.5 80.4h1v1h-1zM284.4 100.8h1v1h-1zM303.3 71.4h1v1h-1zM301.8 81.0h1v1h-1zM292.4 81.1h1v1h-1zM306.6 94.6h1v1h-1zM322.1 83.6h1v1h-1zM283.4 80.3h1v1h-1zM301.4 105.7h1v1h-1zM307.5 103.8h1v1h-1zM299.5 106.6h1v1h-1zM293.4 106.4h1v1h-1zM321.1 94.0h1v1h-1zM294.2 101.9h1v1h-1zM297.9 102.4h1v1h-1zM292.7 92.5h1v1h-1zM311.3 86.1h1v1h-1zM279.7 83.6h1v1h-1zM290.2 65.7h1v1h-1zM294.6 103.5h1v1h-1zM302.3 88.5h1v1h-1zM302.6 94.8h1v1h-1zM309.1 96.7h1v1h-1zM298.0 71.3h1v1h-1zM291.8 106.9h1v1h-1zM298.6 94.7h1v1h-1zM290.5 96.3h1v1h-1zM293.8 72.8h1v1h-1zM294.4 97.7h1v1h-1zM302.2 97.5h1v1h-1zM307.5 87.2h1v1h-1zM288.2 80.9h1v1h-1zM293.2 104.9h1v1h-1zM298.9 92.8h1v1h-1zM299.3 85.9h1v1h-1zM296.7 75.7h1v1h-1zM305.0 93.9h1v1h-1zM297.0 78.4h1v1h-1zM281.8 69.6h1v1h-1zM312.3 68.2h1v1h-1zM286.7 78.6h1v1h-1zM315.5 94.6h1v1h-1zM301.8 78.9h1v1h-1zM302.4 91.5h1v1h-1zM284.6 76.1h1v1h-1zM301.9 87.7h1v1h-1zM297.2 80.2h1v1h-1zM290.8 90.1h1v1h-1zM304.7 74.3h1v1h-1zM306.7 86.0h1v1h-1zM311.0 94.1h1v1h-1zM287.0 85.7h1v1h-1zM291.4 83.3h1v1h-1zM313.0 101.2h1v1h-1zM304.5 87.7h1v1h-1zM307.3 76.6h1v1h-1zM294.1 87.7h1v1h-1zM302.8 96.1h1v1h-1zM307.4 80.1h1v1h-1zM287.2 85.9h1v1h-1zM292.6 99.4h1v1h-1zM301.8 77.2h1v1h-1zM313.0 97.9h1v1h-1zM295.1 77.5h1v1h-1zM306.0 85.9h1v1h-1zM291.1 82.4h1v1h-1zM287.6 77.1h1v1h-1zM305.6 97.4h1v1h-1zM289.3 95.3h1v1h-1zM299.8 92.0h1v1h-1zM293.9 78.5h1v1h-1zM304.5 82.9h1v1h-1zM287.0 99.5h1v1h-1zM285.6 80.7h1v1h-1zM285.4 92.3h1v1h-1zM297.4 77.7h1v1h-1zM312.0 85.6h1v1h-1zM307.5 81.1h1v1h-1zM301.3 98.1h1v1h-1zM298.0 71.4h1v1h-1zM311.3 99.7h1v1h-1zM298.4 80.1h1v1h-1zM309.6 98.4h1v1h-1zM312.7 79.2h1v1h-1zM306.0 79.9h1v1h-1zM303.2 102.4h1v1h-1zM303.1 87.5h1v1h-1zM298.5 82.1h1v1h-1zM302.1 84.2h1v1h-1zM290.6 80.6h1v1h-1zM291.0 68.7h1v1h-1zM314.7 82.6h1v1h-1zM298.1 95.0h1v1h-1zM282.6 67.5h1v1h-1zM312.6 103.2h1v1h-1zM312.6 76.2h1v1h-1zM303.7 102.1h1v1h-1zM287.1 87.7h1v1h-1zM318.3 103.3h1v1h-1zM309.9 101.7h1v1h-1zM311.3 80.1h1v1h-1zM296.8 83.1h1v1h-1zM303.3 97.8h1v1h-1zM296.5 73.4h1v1h-1zM296.9 95.4h1v1h-1zM287.8 81.2h1v1h-1zM291.5 75.6h1v1h-1zM294.2 85.6h1v1h-1zM299.6 74.6h1v1h-1zM308.9 83.0h1v1h-1zM304.7 80.6h1v1h-1zM281.5 99.2h1v1h-1zM309.4 104.4h1v1h-1zM284.4 83.4h1v1h-1zM303.9 79.2h1v1h-1zM297.2 69.9h1v1h-1zM299.8 88.3h1v1h-1zM294.4 99.9h1v1h-1zM288.8 71.8h1v1h-1zM315.1 71.6h1v1h-1zM279.7 87.4h1v1h-1zM290.4 81.1h1v1h-1zM312.1 77.4h1v1h-1zM299.0 103.8h1v1h-1zM299.2 84.7h1v1h-1zM290.7 75.5h1v1h-1zM287.9 87.5h1v1h-1zM304.9 82.5h1v1h-1zM297.4 77.0h1v1h-1zM302.4 106.9h1v1h-1zM306.6 79.4h1v1h-1zM282.1 68.8h1v1h-1zM288.8 76.9h1v1h-1zM292.4 77.4h1v1h-1zM301.2 92.4h1v1h-1zM305.9 86.4h1v1h-1zM288.8 66.8h1v1h-1zM296.8 77.0h1v1h-1zM297.9 80.6h1v1h-1zM297.9 64.3h1v1h-1zM314.4 105.7h1v1h-1zM291.7 104.4h1v1h-1zM300.6 93.5h1v1h-1zM279.7 104.3h1v1h-1zM297.8 87.1h1v1h-1zM300.1 92.9h1v1h-1zM305.9 73.7h1v1h-1zM293.9 97.8h1v1h-1zM293.4 100.0h1v1h-1zM287.0 80.9h1v1h-1zM294.0 100.2h1v1h-1zM322.5 92.1h1v1h-1zM282.0 93.8h1v1h-1zM282.1 106.6h1v1h-1zM299.9 69.3h1v1h-1zM289.6 77.7h1v1h-1zM311.3 87.6h1v1h-1zM284.1 90.1h1v1h-1zM315.3 106.9h1v1h-1zM294.6 92.1h1v1h-1zM282.6 75.3h1v1h-1zM279.7 95.1h1v1h-1zM290.0 82.5h1v1h-1zM292.6 67.1h1v1h-1zM302.6 80.0h1v1h-1zM286.2 80.7h1v1h-1zM329.2 93.1h1v1h-1zM307.3 78.0h1v1h-1zM297.2 90.3h1v1h-1zM293.5 83.2h1v1h-1zM325.8 84.9h1v1h-1zM291.5 95.9h1v1h-1zM306.6 70.6h1v1h-1zM313.8 93.6h1v1h-1zM289.9 103.4h1v1h-1zM304.9 83.3h1v1h-1zM294.2 95.4h1v1h-1zM313.0 78.8h1v1h-1zM313.6 80.3h1v1h-1zM304.6 85.0h1v1h-1zM300.8 71.9h1v1h-1zM287.1 77.3h1v1h-1zM323.6 85.7h1v1h-1zM314.3 106.9h1v1h-1zM306.4 79.3h1v1h-1zM314.2 75.7h1v1h-1zM299.4 65.7h1v1h-1zM288.1 102.5h1v1h-1zM308.7 103.2h1v1h-1zM289.7 83.6h1v1h-1zM294.0 72.9h1v1h-1zM306.8 91.3h1v1h-1zM283.6 106.9h1v1h-1zM299.6 82.8h1v1h-1zM296.3 84.3h1v1h-1zM287.7 72.6h1v1h-1zM287.2 81.7h1v1h-1zM297.1 92.5h1v1h-1zM296.3 106.9h1v1h-1zM300.9 76.2h1v1h-1zM284.3 77.9h1v1h-1zM300.1 104.2h1v1h-1zM286.7 92.7h1v1h-1zM291.2 85.3h1v1h-1zM308.9 68.2h1v1h-1zM292.5 98.8h1v1h-1zM294.3 67.3h1v1h-1zM291.1 69.2h1v1h-1zM299.2 87.9h1v1h-1zM307.6 98.0h1v1h-1zM295.8 65.9h1v1h-1zM305.9 98.1h1v1h-1zM286.2 80.6h1v1h-1zM303.9 95.0h1v1h-1zM298.2 87.9h1v1h-1zM300.0 71.9h1v1h-1zM290.0 87.3h1v1h-1zM293.1 74.9h1v1h-1zM302.3 68.7h1v1h-1zM287.5 66.9h1v1h-1zM306.9 70.2h1v1h-1zM294.9 86.8h1v1h-1zM303.8 76.2h1v1h-1zM288.0 71.7h1v1h-1zM283.0 90.9h1v1h-1zM305.6 75.1h1v1h-1zM306.1 77.2h1v1h-1zM298.8 105.4h1v1h-1zM305.8 70.0h1v1h-1zM299.1 92.9h1v1h-1zM305.8 71.3h1v1h-1zM300.7 97.1h1v1h-1zM289.6 66.8h1v1h-1zM310.3 102.0h1v1h-1zM289.6 83.7h1v1h-1zM321.8 92.7h1v1h-1zM297.8 94.7h1v1h-1zM290.0 101.8h1v1h-1zM297.1 98.0h1v1h-1zM299.9 68.2h1v1h-1zM300.6 91.0h1v1h-1zM304.9 84.9h1v1h-1zM293.4 90.9h1v1h-1zM279.7 99.7h1v1h-1zM290.8 79.1h1v1h-1zM303.7 85.1h1v1h-1zM310.5 81.2h1v1h-1zM279.7 97.3h1v1h-1zM300.4 95.2h1v1h-1zM310.5 67.7h1v1h-1zM285.4 104.3h1v1h-1zM316.5 96.9h1v1h-1zM291.7 101.5h1v1h-1zM298.3 79.6h1v1h-1zM294.5 73.0h1v1h-1zM317.2 85.2h1v1h-1zM308.4 103.2h1v1h-1zM300.8 97.6h1v1h-1zM295.9 84.2h1v1h-1zM282.6 106.3h1v1h-1zM296.5 66.9h1v1h-1zM293.4 67.3h1v1h-1zM298.2 70.6h1v1h-1zM280.3 88.3h1v1h-1zM312.1 101.5h1v1h-1zM308.5 78.8h1v1h-1zM315.4 70.8h1v1h-1zM293.6 87.0h1v1h-1zM299.1 71.5h1v1h-1zM287.2 95.5h1v1h-1zM308.3 71.0h1v1h-1zM297.2 64.8h1v1h-1zM316.2 105.6h1v1h-1zM306.8 76.2h1v1h-1zM307.2 75.2h1v1h-1zM305.0 98.9h1v1h-1zM284.7 105.8h1v1h-1zM306.8 106.9h1v1h-1zM283.4 104.3h1v1h-1zM302.5 85.0h1v1h-1zM305.4 88.1h1v1h-1zM287.9 106.9h1v1h-1zM293.2 102.3h1v1h-1zM297.7 95.4h1v1h-1zM302.2 98.3h1v1h-1zM302.4 67.4h1v1h-1zM299.8 74.0h1v1h-1zM290.7 90.1h1v1h-1zM302.2 78.8h1v1h-1zM324.4 65.1h1v1h-1zM293.7 78.3h1v1h-1zM315.4 89.9h1v1h-1zM287.5 80.9h1v1h-1zM293.0 93.9h1v1h-1zM312.7 75.3h1v1h-1zM307.9 106.9h1v1h-1zM315.5 69.5h1v1h-1zM305.4 94.9h1v1h-1zM293.3 77.5h1v1h-1zM300.1 103.8h1v1h-1zM294.9 78.5h1v1h-1zM309.8 92.3h1v1h-1zM305.5 102.1h1v1h-1zM311.8 105.9h1v1h-1zM292.4 88.4h1v1h-1zM296.8 88.2h1v1h-1zM295.0 90.2h1v1h-1zM295.6 79.4h1v1h-1zM297.7 92.7h1v1h-1zM312.1 66.7h1v1h-1zM300.8 98.9h1v1h-1zM311.1 97.9h1v1h-1zM301.4 96.1h1v1h-1zM281.5 96.6h1v1h-1zM285.4 78.8h1v1h-1zM297.5 100.8h1v1h-1zM310.9 85.5h1v1h-1zM299.4 68.0h1v1h-1zM284.5 77.3h1v1h-1zM300.5 102.8h1v1h-1zM296.8 70.9h1v1h-1zM305.1 81.6h1v1h-1zM307.6 106.6h1v1h-1zM302.1 78.4h1v1h-1zM292.8 91.6h1v1h-1zM288.9 91.9h1v1h-1zM295.7 96.8h1v1h-1zM298.5 80.9h1v1h-1zM302.9 83.6h1v1h-1zM294.7 105.3h1v1h-1zM292.9 94.9h1v1h-1zM304.2 79.3h1v1h-1zM307.5 102.9h1v1h-1zM302.1 98.9h1v1h-1zM289.0 92.4h1v1h-1zM296.2 93.4h1v1h-1zM320.9 85.8h1v1h-1zM288.6 99.4h1v1h-1zM295.7 101.4h1v1h-1zM308.4 81.6h1v1h-1zM289.7 90.2h1v1h-1zM296.1 95.5h1v1h-1zM312.1 105.8h1v1h-1zM309.0 96.5h1v1h-1zM281.3 101.2h1v1h-1zM305.3 106.5h1v1h-1zM296.1 75.3h1v1h-1zM285.4 85.8h1v1h-1zM309.9 77.4h1v1h-1zM294.1 72.0h1v1h-1zM298.9 67.3h1v1h-1zM290.8 100.5h1v1h-1zM307.2 69.7h1v1h-1zM308.4 90.9h1v1h-1zM307.3 80.4h1v1h-1zM323.3 87.1h1v1h-1zM305.7 84.5h1v1h-1zM296.4 70.6h1v1h-1zM305.0 67.8h1v1h-1zM303.2 85.7h1v1h-1zM307.1 93.5h1v1h-1zM279.7 84.6h1v1h-1zM308.7 71.9h1v1h-1zM320.3 84.5h1v1h-1zM309.1 71.0h1v1h-1zM294.3 84.6h1v1h-1zM322.1 98.5h1v1h-1zM308.5 69.4h1v1h-1zM321.5 80.3h1v1h-1zM311.0 71.9h1v1h-1zM298.3 105.0h1v1h-1zM285.1 67.8h1v1h-1zM302.6 81.3h1v1h-1zM307.0 92.3h1v1h-1zM297.8 99.3h1v1h-1zM288.6 81.7h1v1h-1zM310.1 77.1h1v1h-1zM294.3 75.6h1v1h-1zM315.8 80.4h1v1h-1zM296.3 74.1h1v1h-1zM305.6 105.3h1v1h-1zM298.6 96.1h1v1h-1zM305.9 80.8h1v1h-1zM307.3 82.9h1v1h-1zM280.7 77.2h1v1h-1zM295.0 78.3h1v1h-1zM296.1 80.0h1v1h-1zM295.8 101.4h1v1h-1zM300.9 106.9h1v1h-1zM313.0 93.4h1v1h-1zM291.5 68.6h1v1h-1zM307.0 72.6h1v1h-1zM297.6 96.1h1v1h-1zM294.5 79.2h1v1h-1zM286.6 101.1h1v1h-1zM293.7 89.9h1v1h-1zM290.4 87.3h1v1h-1zM305.8 71.5h1v1h-1zM316.5 93.0h1v1h-1zM306.6 99.5h1v1h-1zM308.6 89.2h1v1h-1zM293.1 78.5h1v1h-1zM308.1 76.7h1v1h-1zM292.8 88.7h1v1h-1zM292.0 75.0h1v1h-1zM303.7 67.9h1v1h-1zM294.7 66.8h1v1h-1zM307.3 96.6h1v1h-1zM302.6 79.1h1v1h-1zM298.4 65.7h1v1h-1zM295.3 69.1h1v1h-1zM303.0 69.8h1v1h-1zM303.7 96.6h1v1h-1zM301.9 88.0h1v1h-1zM312.3 94.0h1v1h-1zM295.4 71.0h1v1h-1zM287.4 89.1h1v1h-1zM288.0 105.5h1v1h-1zM291.4 104.9h1v1h-1zM292.0 76.3h1v1h-1zM299.7 100.6h1v1h-1zM317.4 66.7h1v1h-1zM291.1 106.2h1v1h-1zM292.7 67.2h1v1h-1zM295.8 106.9h1v1h-1zM291.3 85.6h1v1h-1zM293.5 81.3h1v1h-1zM308.0 87.7h1v1h-1zM313.7 80.4h1v1h-1zM294.1 79.7h1v1h-1zM300.4 93.7h1v1h-1zM310.1 79.7h1v1h-1zM304.2 105.7h1v1h-1zM299.2 68.2h1v1h-1zM304.6 77.5h1v1h-1zM300.0 80.6h1v1h-1zM294.4 72.4h1v1h-1zM306.1 85.9h1v1h-1zM294.8 80.1h1v1h-1zM296.1 100.7h1v1h-1zM303.9 98.7h1v1h-1zM289.6 73.1h1v1h-1zM307.9 105.3h1v1h-1zM293.8 85.3h1v1h-1zM291.3 92.3h1v1h-1zM334.5 59.3h1v1h-1zM341.8 67.5h1v1h-1zM331.3 65.2h1v1h-1zM334.2 53.1h1v1h-1zM327.4 60.6h1v1h-1zM333.8 53.8h1v1h-1zM341.3 60.2h1v1h-1zM329.1 58.1h1v1h-1zM321.3 68.0h1v1h-1zM325.9 70.6h1v1h-1zM330.8 66.4h1v1h-1zM323.9 53.7h1v1h-1zM342.1 68.1h1v1h-1zM313.7 48.2h1v1h-1zM328.4 69.1h1v1h-1zM329.3 54.2h1v1h-1zM334.3 51.8h1v1h-1zM334.9 64.0h1v1h-1zM325.9 54.4h1v1h-1zM329.7 66.5h1v1h-1zM321.5 67.3h1v1h-1zM321.1 67.9h1v1h-1zM328.2 62.7h1v1h-1zM326.6 54.1h1v1h-1zM330.4 63.4h1v1h-1zM323.5 66.2h1v1h-1zM316.5 62.8h1v1h-1zM333.7 47.3h1v1h-1zM335.3 65.4h1v1h-1zM327.8 48.7h1v1h-1zM334.1 62.9h1v1h-1zM321.6 52.8h1v1h-1zM335.6 55.3h1v1h-1zM320.5 60.8h1v1h-1zM331.9 69.0h1v1h-1zM328.6 45.8h1v1h-1zM336.7 51.1h1v1h-1zM332.9 57.7h1v1h-1zM334.2 48.9h1v1h-1zM328.7 55.0h1v1h-1zM339.3 59.3h1v1h-1zM342.2 50.5h1v1h-1zM323.1 53.1h1v1h-1zM329.3 53.6h1v1h-1zM331.5 66.0h1v1h-1zM330.3 63.5h1v1h-1zM321.5 50.0h1v1h-1zM325.2 64.0h1v1h-1zM322.7 58.3h1v1h-1zM320.7 50.4h1v1h-1zM325.0 65.6h1v1h-1zM330.2 61.1h1v1h-1zM323.0 53.8h1v1h-1zM317.3 54.5h1v1h-1zM323.9 54.1h1v1h-1zM323.7 53.5h1v1h-1zM328.2 63.5h1v1h-1zM336.9 54.7h1v1h-1zM335.9 53.4h1v1h-1zM305.5 69.3h1v1h-1zM353.4 54.9h1v1h-1zM340.2 53.5h1v1h-1zM318.8 58.2h1v1h-1zM330.1 61.6h1v1h-1zM320.1 49.9h1v1h-1zM344.6 51.0h1v1h-1zM319.4 71.6h1v1h-1zM335.3 66.4h1v1h-1zM327.4 49.8h1v1h-1zM332.9 59.5h1v1h-1zM328.4 70.1h1v1h-1zM316.9 55.4h1v1h-1zM313.6 62.4h1v1h-1zM327.1 53.4h1v1h-1zM326.3 53.5h1v1h-1zM323.1 56.1h1v1h-1zM337.0 60.3h1v1h-1zM327.0 64.2h1v1h-1zM322.8 62.4h1v1h-1zM342.8 61.9h1v1h-1zM328.6 70.0h1v1h-1zM324.8 66.9h1v1h-1zM322.5 47.4h1v1h-1zM322.5 56.3h1v1h-1zM319.9 67.2h1v1h-1zM320.3 64.5h1v1h-1zM320.1 51.4h1v1h-1zM317.6 57.8h1v1h-1zM316.7 65.0h1v1h-1zM329.3 47.3h1v1h-1zM312.7 47.5h1v1h-1zM327.5 63.8h1v1h-1zM335.2 51.3h1v1h-1zM322.5 50.1h1v1h-1zM326.7 66.5h1v1h-1zM336.6 52.2h1v1h-1zM332.0 53.5h1v1h-1zM319.0 67.2h1v1h-1zM326.3 57.3h1v1h-1zM325.1 53.9h1v1h-1zM335.9 57.1h1v1h-1zM342.2 49.6h1v1h-1zM322.3 58.2h1v1h-1zM332.6 65.5h1v1h-1zM333.6 69.1h1v1h-1zM332.1 53.0h1v1h-1zM311.5 62.0h1v1h-1zM318.2 50.7h1v1h-1zM319.4 69.3h1v1h-1zM319.9 47.6h1v1h-1zM316.1 51.6h1v1h-1zM332.0 67.0h1v1h-1zM328.9 54.6h1v1h-1zM325.1 55.8h1v1h-1zM306.8 60.5h1v1h-1zM333.3 63.6h1v1h-1zM312.7 56.9h1v1h-1zM331.3 55.1h1v1h-1zM323.4 57.5h1v1h-1zM332.2 62.2h1v1h-1zM322.9 63.3h1v1h-1zM328.3 58.8h1v1h-1zM320.9 51.7h1v1h-1zM332.3 65.6h1v1h-1zM331.9 54.8h1v1h-1zM327.0 65.3h1v1h-1zM339.3 61.2h1v1h-1zM321.9 60.3h1v1h-1zM301.8 46.3h1v1h-1zM345.7 49.9h1v1h-1zM345.8 66.1h1v1h-1zM332.0 52.6h1v1h-1zM320.7 55.5h1v1h-1zM325.0 58.5h1v1h-1zM308.0 66.8h1v1h-1zM316.3 63.5h1v1h-1zM321.6 60.1h1v1h-1zM326.0 58.8h1v1h-1zM322.1 63.4h1v1h-1zM332.3 58.7h1v1h-1zM330.4 66.8h1v1h-1zM327.9 72.0h1v1h-1zM319.7 64.2h1v1h-1zM326.5 71.4h1v1h-1zM334.2 65.9h1v1h-1zM326.0 50.0h1v1h-1zM336.1 69.3h1v1h-1zM324.4 65.8h1v1h-1zM331.8 51.4h1v1h-1zM318.0 62.3h1v1h-1zM317.5 60.8h1v1h-1zM323.6 51.9h1v1h-1zM340.1 57.5h1v1h-1zM318.2 65.0h1v1h-1zM325.4 67.6h1v1h-1zM330.1 60.1h1v1h-1zM333.7 49.4h1v1h-1zM331.2 54.1h1v1h-1zM327.1 68.0h1v1h-1zM326.4 65.1h1v1h-1zM333.7 61.4h1v1h-1zM340.5 52.9h1v1h-1zM337.9 69.7h1v1h-1zM321.1 51.5h1v1h-1zM316.8 71.5h1v1h-1zM325.4 48.5h1v1h-1zM335.3 58.7h1v1h-1zM337.8 68.0h1v1h-1zM325.7 47.9h1v1h-1zM318.7 54.5h1v1h-1zM319.7 53.8h1v1h-1zM330.9 51.1h1v1h-1zM324.6 53.3h1v1h-1zM345.5 59.2h1v1h-1zM322.2 71.5h1v1h-1zM308.6 61.9h1v1h-1zM346.2 54.9h1v1h-1zM337.1 53.4h1v1h-1zM317.0 50.0h1v1h-1zM317.8 63.9h1v1h-1zM315.9 56.1h1v1h-1zM333.5 58.6h1v1h-1zM325.1 59.2h1v1h-1zM330.8 53.8h1v1h-1zM315.9 48.7h1v1h-1zM323.2 51.8h1v1h-1zM337.5 52.7h1v1h-1zM316.8 52.7h1v1h-1zM319.2 56.6h1v1h-1zM337.2 57.2h1v1h-1zM325.2 53.5h1v1h-1zM325.6 62.8h1v1h-1zM318.1 46.2h1v1h-1zM323.3 58.4h1v1h-1zM313.9 57.3h1v1h-1zM341.0 50.3h1v1h-1zM327.6 69.2h1v1h-1zM329.4 69.6h1v1h-1zM321.4 46.5h1v1h-1zM319.0 45.0h1v1h-1zM323.0 96.1h1v1h-1zM325.3 94.7h1v1h-1zM318.4 80.1h1v1h-1zM320.9 89.9h1v1h-1zM327.7 82.5h1v1h-1zM332.3 91.3h1v1h-1zM343.5 77.7h1v1h-1zM314.9 87.6h1v1h-1zM326.6 78.4h1v1h-1zM320.5 100.1h1v1h-1zM326.3 81.7h1v1h-1zM316.4 88.2h1v1h-1zM331.9 77.7h1v1h-1zM328.2 65.0h1v1h-1zM334.2 84.5h1v1h-1zM332.9 73.2h1v1h-1zM326.6 96.1h1v1h-1zM329.9 98.8h1v1h-1zM335.8 83.1h1v1h-1zM324.3 76.5h1v1h-1zM316.4 95.4h1v1h-1zM318.4 82.7h1v1h-1zM322.7 95.3h1v1h-1zM323.2 96.4h1v1h-1zM310.4 84.1h1v1h-1zM344.9 105.3h1v1h-1zM331.8 90.8h1v1h-1zM332.9 95.2h1v1h-1zM330.2 88.0h1v1h-1zM329.4 76.3h1v1h-1zM326.1 89.1h1v1h-1zM317.7 83.8h1v1h-1zM323.4 98.1h1v1h-1zM318.3 79.0h1v1h-1zM329.7 89.1h1v1h-1zM334.0 93.4h1v1h-1zM319.7 105.0h1v1h-1zM323.7 81.1h1v1h-1zM327.6 88.2h1v1h-1zM321.5 78.5h1v1h-1zM330.6 76.8h1v1h-1zM316.4 81.2h1v1h-1zM313.9 98.9h1v1h-1zM322.3 98.0h1v1h-1zM331.7 87.0h1v1h-1zM327.0 78.2h1v1h-1zM332.4 98.7h1v1h-1zM324.6 89.8h1v1h-1zM326.8 91.4h1v1h-1zM334.3 92.1h1v1h-1zM346.5 101.0h1v1h-1zM331.3 92.4h1v1h-1zM332.8 86.0h1v1h-1zM333.8 83.3h1v1h-1zM331.7 85.2h1v1h-1zM326.9 85.0h1v1h-1zM316.3 77.1h1v1h-1zM330.3 77.6h1v1h-1zM338.7 105.3h1v1h-1zM319.7 98.7h1v1h-1zM342.0 81.0h1v1h-1zM331.9 87.0h1v1h-1zM322.7 84.0h1v1h-1zM315.0 92.1h1v1h-1zM330.9 83.2h1v1h-1zM322.1 86.9h1v1h-1zM326.1 89.9h1v1h-1zM335.7 100.0h1v1h-1zM339.0 84.5h1v1h-1zM331.1 86.2h1v1h-1zM317.0 74.3h1v1h-1zM323.5 76.5h1v1h-1zM326.3 85.0h1v1h-1zM343.4 76.5h1v1h-1zM331.7 64.1h1v1h-1zM324.8 75.3h1v1h-1zM315.2 83.6h1v1h-1zM319.8 80.8h1v1h-1zM335.9 84.6h1v1h-1zM321.7 78.1h1v1h-1zM331.7 90.7h1v1h-1zM327.0 96.0h1v1h-1zM340.7 103.6h1v1h-1zM324.9 93.7h1v1h-1zM320.9 85.3h1v1h-1zM326.4 96.5h1v1h-1zM335.5 72.5h1v1h-1zM327.3 62.6h1v1h-1zM321.5 103.6h1v1h-1zM324.8 87.0h1v1h-1zM315.3 73.2h1v1h-1zM327.4 102.0h1v1h-1zM326.8 102.7h1v1h-1zM321.7 92.6h1v1h-1zM317.8 82.1h1v1h-1zM338.8 106.9h1v1h-1zM322.9 82.0h1v1h-1zM325.2 84.0h1v1h-1zM344.0 82.9h1v1h-1zM326.4 87.3h1v1h-1zM323.2 69.3h1v1h-1zM329.6 80.7h1v1h-1zM343.5 92.0h1v1h-1zM327.6 106.8h1v1h-1zM328.9 83.7h1v1h-1zM325.6 84.1h1v1h-1zM325.4 89.5h1v1h-1zM323.7 96.3h1v1h-1zM319.6 100.4h1v1h-1zM323.1 82.5h1v1h-1zM326.4 69.5h1v1h-1zM323.0 60.2h1v1h-1zM342.3 102.7h1v1h-1zM338.7 90.2h1v1h-1zM314.2 95.7h1v1h-1zM331.5 95.8h1v1h-1zM330.8 93.5h1v1h-1zM322.1 106.9h1v1h-1zM329.3 91.5h1v1h-1zM344.0 102.5h1v1h-1zM326.0 80.8h1v1h-1zM337.5 92.6h1v1h-1zM328.7 81.3h1v1h-1zM328.9 81.3h1v1h-1zM321.7 70.0h1v1h-1zM334.8 88.0h1v1h-1zM329.9 86.8h1v1h-1zM321.9 99.8h1v1h-1zM327.0 82.0h1v1h-1zM328.7 78.5h1v1h-1zM330.2 80.3h1v1h-1zM330.8 77.0h1v1h-1zM322.5 96.5h1v1h-1zM328.3 95.1h1v1h-1zM336.2 65.1h1v1h-1zM323.3 96.3h1v1h-1zM342.7 78.6h1v1h-1zM317.1 91.9h1v1h-1zM315.0 74.4h1v1h-1zM334.4 100.8h1v1h-1zM324.1 69.8h1v1h-1zM322.4 77.9h1v1h-1zM322.1 90.6h1v1h-1zM340.4 75.3h1v1h-1zM344.1 92.1h1v1h-1zM335.1 74.8h1v1h-1zM339.1 92.6h1v1h-1zM327.3 99.3h1v1h-1zM325.7 61.1h1v1h-1zM331.6 94.8h1v1h-1zM331.6 92.3h1v1h-1zM339.8 75.5h1v1h-1zM327.0 87.5h1v1h-1zM323.8 86.1h1v1h-1zM331.1 106.9h1v1h-1zM333.6 84.4h1v1h-1zM306.5 93.5h1v1h-1zM332.1 82.6h1v1h-1zM310.4 88.5h1v1h-1zM330.7 91.2h1v1h-1zM323.6 82.7h1v1h-1zM328.0 95.0h1v1h-1zM310.1 81.8h1v1h-1zM327.8 83.0h1v1h-1zM328.4 81.6h1v1h-1zM310.2 82.5h1v1h-1zM323.5 91.7h1v1h-1zM340.6 93.4h1v1h-1zM336.4 66.9h1v1h-1zM324.9 74.1h1v1h-1zM321.2 85.3h1v1h-1zM327.6 87.4h1v1h-1zM326.0 68.1h1v1h-1zM322.7 94.9h1v1h-1zM328.1 106.9h1v1h-1zM334.1 84.5h1v1h-1zM324.0 80.8h1v1h-1zM321.4 74.4h1v1h-1zM329.5 81.8h1v1h-1zM333.7 77.5h1v1h-1zM333.7 85.2h1v1h-1zM335.5 87.8h1v1h-1zM330.2 67.8h1v1h-1zM348.0 93.1h1v1h-1zM323.9 90.2h1v1h-1zM331.2 74.0h1v1h-1zM320.1 97.2h1v1h-1zM330.6 102.0h1v1h-1zM314.9 77.3h1v1h-1zM314.9 91.3h1v1h-1zM328.5 79.6h1v1h-1zM331.0 80.8h1v1h-1zM333.6 83.9h1v1h-1zM312.7 66.6h1v1h-1zM333.1 85.8h1v1h-1zM323.6 78.4h1v1h-1zM351.0 81.2h1v1h-1zM320.9 82.0h1v1h-1zM319.2 77.2h1v1h-1zM326.8 98.7h1v1h-1zM338.4 85.7h1v1h-1zM325.6 100.9h1v1h-1zM320.6 73.4h1v1h-1zM321.0 80.7h1v1h-1zM324.9 76.1h1v1h-1zM312.0 77.9h1v1h-1zM344.8 88.8h1v1h-1zM331.4 93.7h1v1h-1zM324.4 106.9h1v1h-1zM324.6 81.0h1v1h-1zM326.8 92.3h1v1h-1zM323.6 86.8h1v1h-1zM328.6 81.8h1v1h-1zM321.4 83.0h1v1h-1zM323.6 81.3h1v1h-1zM315.5 106.9h1v1h-1zM336.9 89.8h1v1h-1zM324.0 94.7h1v1h-1zM323.0 80.8h1v1h-1zM330.4 92.4h1v1h-1zM313.4 86.4h1v1h-1zM328.3 82.1h1v1h-1zM330.6 86.1h1v1h-1zM325.5 78.6h1v1h-1zM306.7 101.7h1v1h-1zM334.2 82.4h1v1h-1zM333.0 80.1h1v1h-1zM318.4 76.8h1v1h-1zM338.7 77.4h1v1h-1zM317.5 79.0h1v1h-1zM319.9 66.4h1v1h-1zM338.0 78.7h1v1h-1zM334.4 92.0h1v1h-1zM325.0 102.0h1v1h-1zM331.6 94.2h1v1h-1zM321.2 93.2h1v1h-1zM318.1 98.5h1v1h-1zM322.0 75.1h1v1h-1zM338.0 98.6h1v1h-1zM336.3 94.4h1v1h-1zM329.4 89.0h1v1h-1zM349.9 84.0h1v1h-1zM334.0 92.1h1v1h-1zM323.5 94.7h1v1h-1zM333.8 69.2h1v1h-1zM332.8 89.6h1v1h-1zM314.6 92.5h1v1h-1zM317.3 93.0h1v1h-1zM338.9 75.5h1v1h-1zM316.9 80.3h1v1h-1zM326.7 78.3h1v1h-1zM336.8 93.8h1v1h-1zM339.1 106.9h1v1h-1zM324.5 93.1h1v1h-1zM306.1 95.6h1v1h-1zM326.9 73.2h1v1h-1zM333.0 80.2h1v1h-1zM324.0 93.1h1v1h-1zM310.9 84.7h1v1h-1zM321.8 81.4h1v1h-1zM280.5 102.2h1v1h-1zM281.2 90.7h1v1h-1zM283.1 62.0h1v1h-1zM282.7 78.6h1v1h-1zM284.0 89.1h1v1h-1zM281.7 94.7h1v1h-1zM285.6 92.5h1v1h-1zM279.7 51.0h1v1h-1zM281.0 41.4h1v1h-1zM285.6 68.1h1v1h-1zM280.8 45.7h1v1h-1zM279.7 106.9h1v1h-1zM279.7 61.3h1v1h-1zM281.9 106.9h1v1h-1zM283.3 92.7h1v1h-1zM279.7 73.0h1v1h-1zM282.5 72.5h1v1h-1zM279.7 91.6h1v1h-1zM281.8 100.2h1v1h-1zM280.9 59.6h1v1h-1zM283.3 68.5h1v1h-1zM282.5 48.3h1v1h-1zM284.4 85.2h1v1h-1zM279.9 58.6h1v1h-1zM279.7 73.5h1v1h-1zM283.3 63.3h1v1h-1zM282.6 55.4h1v1h-1zM281.2 77.2h1v1h-1zM279.9 73.4h1v1h-1zM279.7 106.9h1v1h-1zM281.2 78.3h1v1h-1zM282.7 41.4h1v1h-1zM283.5 97.3h1v1h-1zM280.1 72.5h1v1h-1zM279.7 84.4h1v1h-1zM283.1 96.7h1v1h-1zM284.4 41.0h1v1h-1zM282.2 49.3h1v1h-1zM279.7 45.3h1v1h-1zM284.5 84.6h1v1h-1zM279.7 66.1h1v1h-1zM283.1 90.6h1v1h-1zM279.7 90.9h1v1h-1zM279.7 62.5h1v1h-1zM282.0 72.2h1v1h-1zM280.3 96.8h1v1h-1zM281.8 106.9h1v1h-1zM282.5 106.9h1v1h-1zM283.9 79.8h1v1h-1zM283.4 92.2h1v1h-1zM279.7 96.5h1v1h-1zM280.1 96.6h1v1h-1zM286.2 73.3h1v1h-1zM280.6 95.3h1v1h-1zM279.7 72.0h1v1h-1zM283.5 59.5h1v1h-1zM281.0 106.9h1v1h-1zM281.1 55.9h1v1h-1zM284.6 63.3h1v1h-1zM284.0 76.9h1v1h-1zM281.7 69.0h1v1h-1zM285.0 89.8h1v1h-1zM281.5 72.0h1v1h-1zM281.8 56.2h1v1h-1zM283.7 83.8h1v1h-1zM280.8 62.0h1v1h-1zM281.8 74.4h1v1h-1zM282.9 63.4h1v1h-1zM281.9 52.8h1v1h-1zM280.4 97.9h1v1h-1zM286.3 89.0h1v1h-1zM281.8 71.0h1v1h-1zM284.1 77.2h1v1h-1zM280.5 51.9h1v1h-1zM282.5 55.6h1v1h-1zM279.9 76.3h1v1h-1zM285.3 95.1h1v1h-1zM281.7 64.6h1v1h-1zM281.9 70.0h1v1h-1zM289.0 48.1h1v1h-1zM279.7 81.2h1v1h-1zM281.8 58.1h1v1h-1zM281.6 58.6h1v1h-1zM281.9 46.8h1v1h-1zM282.5 75.1h1v1h-1zM279.7 106.9h1v1h-1zM279.9 95.2h1v1h-1zM283.2 50.2h1v1h-1zM280.4 106.9h1v1h-1zM282.4 67.9h1v1h-1zM281.9 86.8h1v1h-1zM284.3 84.1h1v1h-1zM284.2 106.9h1v1h-1zM284.2 54.1h1v1h-1zM279.7 87.9h1v1h-1zM282.9 76.6h1v1h-1zM281.9 67.0h1v1h-1zM284.4 86.2h1v1h-1zM282.5 53.7h1v1h-1zM284.9 106.9h1v1h-1zM279.7 94.1h1v1h-1zM286.3 46.7h1v1h-1zM282.0 80.8h1v1h-1zM282.5 57.2h1v1h-1zM281.1 85.4h1v1h-1zM280.1 74.3h1v1h-1zM283.8 106.9h1v1h-1zM281.2 106.9h1v1h-1zM284.8 57.5h1v1h-1zM285.2 78.3h1v1h-1zM284.6 56.5h1v1h-1zM283.3 94.5h1v1h-1zM281.5 84.3h1v1h-1zM280.5 101.8h1v1h-1zM279.7 106.9h1v1h-1zM281.3 73.7h1v1h-1zM284.2 87.5h1v1h-1zM279.7 36.4h1v1h-1zM282.0 88.4h1v1h-1zM281.0 78.6h1v1h-1zM279.7 86.2h1v1h-1zM280.9 70.4h1v1h-1zM280.8 106.9h1v1h-1zM279.7 60.6h1v1h-1zM279.7 69.8h1v1h-1zM279.7 70.0h1v1h-1zM284.5 101.3h1v1h-1zM283.2 90.5h1v1h-1zM279.7 89.4h1v1h-1zM283.7 56.6h1v1h-1zM282.1 99.9h1v1h-1zM280.5 85.5h1v1h-1zM284.0 62.9h1v1h-1zM279.7 33.3h1v1h-1zM279.7 93.5h1v1h-1zM279.7 77.1h1v1h-1zM279.9 33.3h1v1h-1zM284.6 101.2h1v1h-1zM284.5 101.5h1v1h-1zM279.7 42.8h1v1h-1zM281.2 93.1h1v1h-1zM284.6 91.3h1v1h-1zM284.7 62.6h1v1h-1zM279.7 69.0h1v1h-1zM284.5 72.0h1v1h-1zM282.5 104.4h1v1h-1zM281.9 68.8h1v1h-1zM283.6 78.9h1v1h-1zM279.7 72.6h1v1h-1zM282.2 61.9h1v1h-1zM280.3 85.1h1v1h-1zM282.2 48.9h1v1h-1zM280.6 44.4h1v1h-1zM282.7 43.7h1v1h-1zM285.0 91.8h1v1h-1zM281.5 106.9h1v1h-1zM280.7 88.4h1v1h-1zM280.3 78.3h1v1h-1zM280.9 80.9h1v1h-1zM280.7 89.8h1v1h-1zM283.4 76.8h1v1h-1zM280.5 64.2h1v1h-1zM279.7 105.1h1v1h-1zM281.7 80.3h1v1h-1zM282.1 76.0h1v1h-1zM282.7 91.6h1v1h-1zM282.2 105.9h1v1h-1zM279.9 81.0h1v1h-1zM281.4 91.2h1v1h-1zM283.4 69.7h1v1h-1zM283.7 70.9h1v1h-1zM279.7 91.2h1v1h-1zM283.6 94.4h1v1h-1zM279.7 86.5h1v1h-1zM281.0 97.0h1v1h-1zM283.5 67.3h1v1h-1zM283.1 51.6h1v1h-1zM282.2 51.8h1v1h-1zM282.2 85.6h1v1h-1zM282.9 46.2h1v1h-1zM279.7 91.2h1v1h-1zM281.5 83.9h1v1h-1zM281.8 95.9h1v1h-1zM282.2 66.2h1v1h-1zM280.3 61.7h1v1h-1zM287.4 91.1h1v1h-1zM282.8 64.0h1v1h-1zM284.7 74.7h1v1h-1zM281.7 80.6h1v1h-1zM283.0 76.1h1v1h-1zM282.0 82.1h1v1h-1zM281.8 85.3h1v1h-1zM282.4 73.3h1v1h-1zM280.7 79.3h1v1h-1zM283.3 87.3h1v1h-1zM284.9 44.1h1v1h-1zM279.9 99.9h1v1h-1zM279.9 83.9h1v1h-1zM279.7 63.2h1v1h-1zM283.3 73.9h1v1h-1zM313.5 41.6h1v1h-1zM323.1 51.1h1v1h-1zM337.2 99.9h1v1h-1zM344.3 84.8h1v1h-1zM317.3 77.4h1v1h-1zM318.5 37.1h1v1h-1zM306.8 96.1h1v1h-1zM315.4 36.7h1v1h-1zM335.4 94.0h1v1h-1zM326.4 69.7h1v1h-1zM303.3 41.5h1v1h-1zM337.4 48.8h1v1h-1zM306.0 103.5h1v1h-1zM302.8 71.6h1v1h-1zM305.0 106.9h1v1h-1zM286.7 76.6h1v1h-1zM350.8 86.0h1v1h-1zM279.7 43.3h1v1h-1zM316.5 60.5h1v1h-1zM325.6 42.0h1v1h-1zM290.7 76.8h1v1h-1zM338.0 72.3h1v1h-1zM341.1 104.1h1v1h-1zM335.5 63.0h1v1h-1zM311.8 54.2h1v1h-1zM343.5 70.8h1v1h-1zM279.7 101.3h1v1h-1zM354.8 80.7h1v1h-1zM323.6 73.3h1v1h-1zM323.7 48.9h1v1h-1zM310.3 73.3h1v1h-1zM334.9 86.4h1v1h-1zM299.0 103.6h1v1h-1zM315.3 96.3h1v1h-1zM321.0 35.1h1v1h-1zM335.9 96.8h1v1h-1zM279.7 99.1h1v1h-1zM320.6 47.9h1v1h-1zM319.8 38.4h1v1h-1z" fill="#111"/>
<g filter="url(#bl2)" fill="#8c8c8c" opacity="0.75"><ellipse cx="301" cy="61.5" rx="7" ry="6.5"/><ellipse cx="301" cy="92" rx="7" ry="10"/></g>
<g clip-path="url(#cp2)">
<path d="M317.4 50.7h1v1h-1zM304.8 35.7h1v1h-1zM285.7 71.1h1v1h-1zM348.8 86.4h1v1h-1zM315.9 56.1h1v1h-1zM342.8 52.7h1v1h-1zM353.7 79.6h1v1h-1zM341.4 87.7h1v1h-1zM341.4 64.7h1v1h-1zM350.1 89.1h1v1h-1zM337.3 37.6h1v1h-1zM315.3 69.9h1v1h-1zM286.2 37.5h1v1h-1zM337.9 58.4h1v1h-1zM324.4 87.8h1v1h-1zM284.6 58.5h1v1h-1zM282.4 80.0h1v1h-1zM355.3 86.7h1v1h-1zM344.5 99.8h1v1h-1zM339.0 105.0h1v1h-1zM315.0 81.8h1v1h-1zM286.8 103.5h1v1h-1zM324.5 34.6h1v1h-1zM305.3 72.5h1v1h-1zM299.1 49.0h1v1h-1zM294.2 68.1h1v1h-1zM286.3 102.5h1v1h-1zM349.6 65.6h1v1h-1zM335.1 57.5h1v1h-1zM350.6 66.7h1v1h-1zM354.2 50.1h1v1h-1zM341.1 90.8h1v1h-1zM318.7 101.0h1v1h-1zM332.7 89.7h1v1h-1zM316.4 42.9h1v1h-1zM337.1 40.2h1v1h-1zM336.6 92.1h1v1h-1zM290.5 88.6h1v1h-1zM281.5 80.0h1v1h-1zM339.2 91.4h1v1h-1zM330.2 70.1h1v1h-1zM326.0 38.7h1v1h-1zM282.7 103.5h1v1h-1zM287.1 85.9h1v1h-1zM349.3 69.2h1v1h-1zM286.4 105.2h1v1h-1zM327.7 70.3h1v1h-1zM334.6 77.0h1v1h-1zM306.4 90.9h1v1h-1zM292.2 39.8h1v1h-1zM335.0 50.1h1v1h-1zM348.1 51.9h1v1h-1zM284.3 55.6h1v1h-1zM282.4 54.7h1v1h-1zM304.9 73.7h1v1h-1zM338.0 54.4h1v1h-1zM354.5 60.9h1v1h-1zM343.7 60.8h1v1h-1zM305.8 48.6h1v1h-1zM346.9 79.0h1v1h-1zM353.5 94.2h1v1h-1zM291.8 77.0h1v1h-1zM316.9 99.7h1v1h-1zM311.7 80.7h1v1h-1zM320.0 79.1h1v1h-1zM308.7 38.1h1v1h-1zM353.0 49.9h1v1h-1zM305.4 107.8h1v1h-1zM329.7 36.6h1v1h-1zM281.0 72.2h1v1h-1zM339.1 101.0h1v1h-1zM316.7 77.5h1v1h-1zM285.4 39.6h1v1h-1zM351.0 91.0h1v1h-1zM284.6 50.0h1v1h-1zM280.1 84.3h1v1h-1zM324.7 33.1h1v1h-1zM331.6 43.7h1v1h-1zM328.1 52.9h1v1h-1zM353.7 105.0h1v1h-1zM280.4 59.1h1v1h-1zM332.2 53.9h1v1h-1zM310.5 67.3h1v1h-1zM295.9 65.4h1v1h-1zM335.2 90.0h1v1h-1zM300.6 97.1h1v1h-1zM327.9 78.2h1v1h-1zM349.8 65.3h1v1h-1zM294.7 61.1h1v1h-1zM351.2 53.4h1v1h-1zM342.2 78.2h1v1h-1zM341.4 58.9h1v1h-1zM336.2 37.0h1v1h-1zM288.3 97.5h1v1h-1zM305.9 82.9h1v1h-1zM347.9 106.2h1v1h-1zM321.4 96.2h1v1h-1zM309.3 98.7h1v1h-1zM290.4 102.5h1v1h-1zM286.7 41.1h1v1h-1zM354.0 72.7h1v1h-1zM352.9 83.7h1v1h-1zM353.0 58.5h1v1h-1zM291.3 102.5h1v1h-1zM312.1 93.4h1v1h-1zM349.3 65.3h1v1h-1zM314.3 44.6h1v1h-1zM296.0 58.4h1v1h-1zM316.9 108.0h1v1h-1zM326.2 70.3h1v1h-1zM342.0 34.1h1v1h-1zM338.2 57.0h1v1h-1zM341.5 38.4h1v1h-1zM341.3 43.0h1v1h-1zM319.8 85.2h1v1h-1zM303.8 90.1h1v1h-1zM286.2 90.6h1v1h-1zM288.9 100.2h1v1h-1zM347.2 50.1h1v1h-1zM328.5 64.8h1v1h-1zM284.7 105.8h1v1h-1zM315.9 93.8h1v1h-1zM343.0 104.3h1v1h-1zM287.4 95.1h1v1h-1zM342.4 91.4h1v1h-1zM314.3 104.8h1v1h-1zM286.5 32.5h1v1h-1zM313.8 34.4h1v1h-1zM355.1 101.9h1v1h-1zM292.6 45.1h1v1h-1zM299.3 83.6h1v1h-1zM337.8 58.9h1v1h-1zM287.8 96.1h1v1h-1zM298.8 52.3h1v1h-1zM339.3 40.7h1v1h-1zM286.8 103.7h1v1h-1zM344.3 69.2h1v1h-1zM294.5 50.0h1v1h-1zM346.4 39.1h1v1h-1zM303.7 35.5h1v1h-1zM284.7 67.7h1v1h-1zM342.9 32.6h1v1h-1zM329.9 41.8h1v1h-1zM319.6 74.5h1v1h-1zM299.2 107.0h1v1h-1zM315.6 37.1h1v1h-1zM284.0 77.9h1v1h-1zM285.5 59.4h1v1h-1zM332.3 80.0h1v1h-1zM308.7 36.8h1v1h-1zM327.4 41.7h1v1h-1zM299.8 103.0h1v1h-1zM283.5 91.1h1v1h-1zM344.5 47.5h1v1h-1zM304.3 65.3h1v1h-1zM286.5 71.2h1v1h-1zM340.2 79.6h1v1h-1zM300.5 75.7h1v1h-1zM334.8 77.0h1v1h-1zM333.2 94.2h1v1h-1zM338.4 83.2h1v1h-1zM327.3 36.6h1v1h-1zM332.8 32.7h1v1h-1zM335.7 73.8h1v1h-1zM324.9 48.7h1v1h-1zM345.9 106.0h1v1h-1zM299.9 50.2h1v1h-1zM351.2 93.9h1v1h-1zM327.8 65.8h1v1h-1zM335.9 61.6h1v1h-1zM297.8 79.4h1v1h-1zM328.2 73.3h1v1h-1zM317.5 38.3h1v1h-1zM279.6 52.8h1v1h-1zM329.6 75.1h1v1h-1zM345.1 41.8h1v1h-1zM328.5 98.2h1v1h-1zM326.8 107.6h1v1h-1zM341.3 39.4h1v1h-1zM300.7 34.7h1v1h-1zM294.1 92.5h1v1h-1zM298.7 47.3h1v1h-1zM285.6 42.7h1v1h-1zM301.3 99.7h1v1h-1zM353.8 52.6h1v1h-1zM337.6 48.3h1v1h-1zM317.8 38.6h1v1h-1zM346.7 44.7h1v1h-1zM291.7 54.3h1v1h-1zM338.8 60.3h1v1h-1zM307.6 58.5h1v1h-1zM317.3 56.4h1v1h-1zM314.1 38.6h1v1h-1zM331.3 87.9h1v1h-1zM351.1 66.5h1v1h-1zM318.4 45.3h1v1h-1zM326.8 64.4h1v1h-1zM316.4 33.6h1v1h-1zM354.0 104.3h1v1h-1zM355.3 54.1h1v1h-1zM341.7 62.6h1v1h-1zM294.3 94.1h1v1h-1zM281.6 72.3h1v1h-1zM326.6 44.1h1v1h-1zM308.5 107.0h1v1h-1zM330.3 79.3h1v1h-1zM303.7 68.4h1v1h-1zM297.4 41.9h1v1h-1zM288.9 76.6h1v1h-1zM337.1 96.8h1v1h-1zM317.4 48.9h1v1h-1zM307.1 33.8h1v1h-1zM314.4 92.4h1v1h-1zM329.7 59.4h1v1h-1zM341.6 60.9h1v1h-1zM334.7 99.3h1v1h-1zM321.3 104.4h1v1h-1zM287.8 63.4h1v1h-1zM335.5 95.8h1v1h-1zM315.7 36.9h1v1h-1zM347.4 39.6h1v1h-1zM287.6 98.2h1v1h-1zM296.6 61.3h1v1h-1zM283.5 104.4h1v1h-1zM280.6 78.1h1v1h-1zM303.4 33.1h1v1h-1zM284.7 44.0h1v1h-1zM332.4 57.5h1v1h-1zM350.6 68.9h1v1h-1zM330.0 87.8h1v1h-1zM316.8 47.2h1v1h-1zM330.4 97.7h1v1h-1zM335.1 101.9h1v1h-1zM297.0 36.3h1v1h-1zM353.2 78.1h1v1h-1zM288.3 87.3h1v1h-1zM335.8 83.5h1v1h-1zM301.6 72.1h1v1h-1zM339.1 49.1h1v1h-1zM300.4 89.0h1v1h-1zM327.2 93.6h1v1h-1zM330.9 61.5h1v1h-1zM337.5 103.3h1v1h-1zM282.5 67.5h1v1h-1zM307.5 69.6h1v1h-1zM299.4 76.7h1v1h-1zM293.9 94.8h1v1h-1zM296.7 59.3h1v1h-1zM330.1 75.2h1v1h-1zM317.0 106.1h1v1h-1zM294.4 35.1h1v1h-1zM298.0 81.7h1v1h-1zM338.0 32.6h1v1h-1zM314.8 86.4h1v1h-1zM318.4 85.8h1v1h-1zM291.3 84.4h1v1h-1zM319.2 49.3h1v1h-1zM289.4 79.6h1v1h-1zM289.9 93.4h1v1h-1zM294.0 101.6h1v1h-1zM325.0 106.1h1v1h-1zM312.1 81.2h1v1h-1zM348.4 82.5h1v1h-1zM299.7 59.6h1v1h-1zM352.5 60.4h1v1h-1zM299.2 71.9h1v1h-1zM352.9 42.5h1v1h-1zM340.0 51.7h1v1h-1zM322.7 48.6h1v1h-1zM334.5 73.6h1v1h-1zM284.8 77.3h1v1h-1zM284.7 103.9h1v1h-1zM286.0 68.3h1v1h-1zM324.2 71.8h1v1h-1zM303.3 73.7h1v1h-1zM317.9 74.8h1v1h-1zM295.7 34.6h1v1h-1zM353.8 68.3h1v1h-1zM309.4 80.5h1v1h-1zM335.5 41.1h1v1h-1zM353.6 65.6h1v1h-1zM342.0 91.1h1v1h-1zM284.9 40.1h1v1h-1zM318.0 100.7h1v1h-1zM317.9 106.4h1v1h-1zM282.1 87.8h1v1h-1zM306.8 63.9h1v1h-1zM307.4 33.2h1v1h-1zM329.7 70.9h1v1h-1zM343.1 63.3h1v1h-1zM351.8 34.0h1v1h-1zM305.6 44.4h1v1h-1zM332.1 76.4h1v1h-1zM330.0 106.3h1v1h-1zM353.5 89.0h1v1h-1zM297.2 49.2h1v1h-1zM307.1 82.8h1v1h-1zM281.7 84.1h1v1h-1zM355.0 57.3h1v1h-1zM336.7 49.0h1v1h-1zM312.5 56.0h1v1h-1zM334.3 89.0h1v1h-1zM286.1 75.2h1v1h-1zM282.3 106.0h1v1h-1zM334.8 52.0h1v1h-1zM346.3 41.1h1v1h-1zM336.0 53.0h1v1h-1zM308.5 58.0h1v1h-1zM287.1 59.3h1v1h-1zM355.6 96.6h1v1h-1zM346.4 65.8h1v1h-1zM312.6 33.7h1v1h-1zM327.5 89.2h1v1h-1zM355.6 55.5h1v1h-1zM300.6 33.2h1v1h-1zM316.2 62.1h1v1h-1zM348.0 54.2h1v1h-1zM325.4 45.6h1v1h-1zM331.0 93.9h1v1h-1zM306.0 89.4h1v1h-1zM339.4 90.2h1v1h-1zM287.3 93.2h1v1h-1zM318.8 60.4h1v1h-1zM328.9 52.1h1v1h-1zM353.0 97.7h1v1h-1zM333.8 78.3h1v1h-1zM288.1 34.6h1v1h-1zM320.0 93.9h1v1h-1zM293.1 92.5h1v1h-1zM312.0 90.0h1v1h-1zM336.7 77.3h1v1h-1zM331.5 72.6h1v1h-1zM303.6 64.6h1v1h-1zM337.6 75.6h1v1h-1zM315.9 96.0h1v1h-1zM323.9 75.2h1v1h-1zM314.6 80.2h1v1h-1zM343.0 34.1h1v1h-1zM298.5 82.2h1v1h-1zM344.8 95.2h1v1h-1zM345.8 63.8h1v1h-1zM295.1 107.9h1v1h-1zM313.9 77.7h1v1h-1zM310.4 71.2h1v1h-1zM356.0 60.7h1v1h-1zM329.8 105.7h1v1h-1zM283.7 52.9h1v1h-1zM337.5 104.6h1v1h-1zM306.5 105.8h1v1h-1zM307.5 59.0h1v1h-1zM322.4 103.7h1v1h-1zM294.8 37.9h1v1h-1zM287.5 74.2h1v1h-1zM292.6 86.6h1v1h-1zM314.2 43.3h1v1h-1zM346.1 105.1h1v1h-1zM301.6 49.7h1v1h-1zM336.7 81.5h1v1h-1zM282.8 83.7h1v1h-1zM310.7 85.6h1v1h-1zM294.9 81.6h1v1h-1zM323.2 34.6h1v1h-1zM291.3 43.7h1v1h-1zM304.2 63.8h1v1h-1zM294.7 47.2h1v1h-1zM304.1 72.7h1v1h-1zM310.4 50.5h1v1h-1zM303.9 52.2h1v1h-1zM351.3 103.2h1v1h-1zM342.7 72.0h1v1h-1zM287.9 56.9h1v1h-1zM318.9 96.7h1v1h-1zM345.4 62.6h1v1h-1zM280.7 65.1h1v1h-1zM344.0 71.1h1v1h-1zM294.6 52.9h1v1h-1zM321.1 66.4h1v1h-1zM331.8 72.6h1v1h-1zM343.3 84.6h1v1h-1zM335.3 70.4h1v1h-1zM291.6 72.8h1v1h-1zM341.4 40.3h1v1h-1zM326.9 34.7h1v1h-1zM293.1 59.4h1v1h-1zM314.4 82.8h1v1h-1zM351.2 72.7h1v1h-1zM303.8 32.8h1v1h-1zM353.7 36.0h1v1h-1zM301.8 103.4h1v1h-1zM313.7 82.4h1v1h-1zM351.0 87.7h1v1h-1zM285.4 76.8h1v1h-1zM309.8 98.5h1v1h-1zM313.5 62.6h1v1h-1zM304.8 69.9h1v1h-1zM355.1 94.5h1v1h-1zM279.5 51.1h1v1h-1zM313.5 53.6h1v1h-1zM287.8 41.5h1v1h-1zM283.7 74.2h1v1h-1z" fill="#555"/>
<path d="M341.2 51.7h1v1h-1zM353.1 63.2h1v1h-1zM333.4 46.0h1v1h-1zM317.2 92.5h1v1h-1zM341.3 94.9h1v1h-1zM314.7 79.9h1v1h-1zM312.5 95.7h1v1h-1zM286.7 99.0h1v1h-1zM353.1 36.1h1v1h-1zM299.7 83.7h1v1h-1zM324.0 69.5h1v1h-1zM331.9 98.6h1v1h-1zM340.1 66.4h1v1h-1zM292.9 40.0h1v1h-1zM313.9 71.4h1v1h-1zM304.9 59.0h1v1h-1zM281.7 99.5h1v1h-1zM296.9 51.6h1v1h-1zM298.1 69.7h1v1h-1zM289.3 42.8h1v1h-1zM306.3 54.6h1v1h-1zM319.3 76.8h1v1h-1zM348.5 95.5h1v1h-1zM353.8 43.2h1v1h-1zM331.9 44.9h1v1h-1zM344.3 48.3h1v1h-1zM300.6 68.8h1v1h-1zM351.4 62.6h1v1h-1zM317.0 82.3h1v1h-1zM350.2 84.0h1v1h-1zM279.5 103.7h1v1h-1zM280.3 75.4h1v1h-1zM303.4 71.4h1v1h-1zM299.6 36.8h1v1h-1zM284.4 102.0h1v1h-1zM341.5 86.8h1v1h-1zM296.7 65.2h1v1h-1zM344.3 48.0h1v1h-1zM337.5 98.3h1v1h-1zM348.9 88.9h1v1h-1zM309.4 80.7h1v1h-1zM287.2 77.6h1v1h-1zM302.7 106.2h1v1h-1zM321.0 35.8h1v1h-1zM311.7 105.2h1v1h-1zM293.1 79.3h1v1h-1zM344.4 101.6h1v1h-1zM289.5 87.4h1v1h-1zM353.5 46.4h1v1h-1zM351.4 72.5h1v1h-1zM352.3 39.7h1v1h-1zM284.6 76.7h1v1h-1zM342.9 49.8h1v1h-1zM290.4 73.6h1v1h-1zM333.9 42.8h1v1h-1zM324.2 94.1h1v1h-1zM322.7 86.0h1v1h-1zM284.6 82.6h1v1h-1zM349.5 67.7h1v1h-1zM306.5 59.2h1v1h-1zM351.0 44.4h1v1h-1zM287.0 63.0h1v1h-1zM306.6 64.9h1v1h-1zM327.6 97.2h1v1h-1zM337.5 43.9h1v1h-1zM296.0 92.1h1v1h-1zM339.1 53.6h1v1h-1zM340.3 92.5h1v1h-1zM338.3 90.7h1v1h-1zM287.6 79.2h1v1h-1zM298.5 55.5h1v1h-1zM353.7 56.0h1v1h-1zM288.3 76.0h1v1h-1zM320.0 58.3h1v1h-1zM314.2 76.7h1v1h-1zM321.2 42.0h1v1h-1zM333.9 103.8h1v1h-1zM347.2 81.3h1v1h-1zM350.1 71.5h1v1h-1zM311.9 39.9h1v1h-1zM332.2 77.6h1v1h-1zM353.7 55.6h1v1h-1zM330.4 68.2h1v1h-1zM323.9 98.8h1v1h-1zM314.6 38.3h1v1h-1zM293.8 65.8h1v1h-1zM323.5 74.4h1v1h-1zM323.9 107.7h1v1h-1zM328.9 41.7h1v1h-1zM317.4 42.0h1v1h-1zM295.7 54.0h1v1h-1zM280.5 33.8h1v1h-1zM331.1 82.8h1v1h-1zM301.0 33.7h1v1h-1zM345.7 42.4h1v1h-1zM302.0 43.6h1v1h-1zM314.6 68.1h1v1h-1zM291.8 35.8h1v1h-1zM346.9 38.6h1v1h-1zM355.4 51.2h1v1h-1zM353.9 46.8h1v1h-1zM330.8 100.7h1v1h-1zM296.4 41.1h1v1h-1zM287.4 103.3h1v1h-1zM295.6 91.9h1v1h-1zM339.5 54.9h1v1h-1zM338.4 76.0h1v1h-1zM331.6 62.9h1v1h-1zM284.6 92.6h1v1h-1zM297.5 59.0h1v1h-1zM280.1 55.6h1v1h-1zM320.2 97.4h1v1h-1zM343.2 95.5h1v1h-1zM326.0 83.8h1v1h-1zM342.4 38.9h1v1h-1zM317.7 42.8h1v1h-1zM319.3 55.0h1v1h-1zM324.7 92.2h1v1h-1zM300.5 63.4h1v1h-1zM280.1 85.5h1v1h-1zM295.4 78.1h1v1h-1zM322.6 35.0h1v1h-1zM296.0 62.4h1v1h-1zM323.7 51.2h1v1h-1zM309.4 37.1h1v1h-1zM338.8 75.6h1v1h-1zM308.0 37.1h1v1h-1zM312.1 80.2h1v1h-1zM317.2 105.5h1v1h-1zM318.5 43.8h1v1h-1zM338.3 52.9h1v1h-1zM351.3 50.8h1v1h-1zM347.9 62.8h1v1h-1zM296.5 104.7h1v1h-1zM323.8 42.6h1v1h-1zM347.9 46.7h1v1h-1zM309.3 97.8h1v1h-1zM340.9 57.1h1v1h-1zM327.8 91.6h1v1h-1zM342.2 43.3h1v1h-1zM320.4 107.8h1v1h-1zM292.1 73.1h1v1h-1zM338.1 67.2h1v1h-1zM330.8 90.4h1v1h-1zM350.6 105.9h1v1h-1zM328.4 63.9h1v1h-1zM318.9 48.7h1v1h-1zM328.3 62.7h1v1h-1zM313.5 64.8h1v1h-1zM310.2 78.6h1v1h-1zM319.4 38.3h1v1h-1zM299.4 38.5h1v1h-1zM346.8 70.8h1v1h-1zM334.4 91.3h1v1h-1zM345.0 106.7h1v1h-1zM353.9 51.6h1v1h-1zM299.9 85.0h1v1h-1zM282.5 47.0h1v1h-1zM338.1 33.6h1v1h-1zM301.3 72.3h1v1h-1zM309.3 80.5h1v1h-1zM325.3 42.6h1v1h-1zM299.6 57.3h1v1h-1zM299.0 42.8h1v1h-1zM330.0 75.9h1v1h-1zM323.9 95.3h1v1h-1zM315.4 53.0h1v1h-1zM323.4 51.9h1v1h-1zM329.7 65.7h1v1h-1zM336.5 52.1h1v1h-1zM346.5 76.2h1v1h-1zM353.3 36.8h1v1h-1zM352.3 83.7h1v1h-1zM315.9 105.6h1v1h-1zM303.2 107.0h1v1h-1zM333.2 91.9h1v1h-1zM327.5 99.9h1v1h-1zM283.1 104.2h1v1h-1zM330.2 84.5h1v1h-1zM305.1 82.7h1v1h-1zM352.8 50.6h1v1h-1zM338.7 35.7h1v1h-1zM342.2 85.9h1v1h-1zM334.5 100.2h1v1h-1zM289.8 36.8h1v1h-1zM352.7 83.4h1v1h-1zM307.5 39.0h1v1h-1zM307.8 88.6h1v1h-1zM283.1 63.3h1v1h-1zM290.3 37.6h1v1h-1zM307.7 84.5h1v1h-1zM353.0 76.1h1v1h-1zM313.1 54.1h1v1h-1zM284.9 47.0h1v1h-1zM305.7 106.0h1v1h-1zM328.6 61.1h1v1h-1zM346.8 34.6h1v1h-1zM293.5 77.6h1v1h-1zM349.6 79.3h1v1h-1zM287.3 39.7h1v1h-1z" fill="#b0b0b0"/>
</g>
<clipPath id="cp2"><ellipse cx="301" cy="61.5" rx="7" ry="6.5"/><ellipse cx="301" cy="92" rx="7" ry="10"/></clipPath>
<rect x="279.3" y="32.5" width="76.7" height="75.5" fill="none" stroke="#333" stroke-width="1.2"/>
<rect x="327.5" y="48.75" width="27" height="20" fill="none" stroke="#666" stroke-width="0.9"/>
<text x="185.8" y="16.1" font-size="6.84" textLength="31.9" lengthAdjust="spacingAndGlyphs" stroke="#222" stroke-width="0.18">Lin- gated</text>
<text x="202.8" y="26.3" font-size="7.12" textLength="24.2" lengthAdjust="spacingAndGlyphs" stroke="#222" stroke-width="0.18">Msi2+/+</text>
<text x="304.5" y="25.6" font-size="6.84" textLength="31.5" lengthAdjust="spacingAndGlyphs" stroke="#222" stroke-width="0.18">Msi2Gt/Gt</text>
<text x="233.6" y="38.4" font-size="5.73" textLength="9.8" lengthAdjust="spacingAndGlyphs" stroke="#222" stroke-width="0.18">LSK</text>
<text x="230.8" y="46.3" font-size="5.73" textLength="16.9" lengthAdjust="spacingAndGlyphs" stroke="#222" stroke-width="0.18">0.25%</text>
<text x="339.2" y="38.4" font-size="5.73" textLength="9.8" lengthAdjust="spacingAndGlyphs" stroke="#222" stroke-width="0.18">LSK</text>
<text x="335.5" y="46.3" font-size="5.73" textLength="17" lengthAdjust="spacingAndGlyphs" stroke="#222" stroke-width="0.18">0.08%</text>
<text x="170.5" y="110" font-size="4.2" fill="#555" text-anchor="middle" transform="rotate(-90 170.5 109)">10<tspan font-size="3.15" dy="-2.1">0</tspan></text>
<text x="170.5" y="91" font-size="4.2" fill="#555" text-anchor="middle" transform="rotate(-90 170.5 90)">10<tspan font-size="3.15" dy="-2.1">1</tspan></text>
<text x="170.5" y="72" font-size="4.2" fill="#555" text-anchor="middle" transform="rotate(-90 170.5 71)">10<tspan font-size="3.15" dy="-2.1">2</tspan></text>
<text x="170.5" y="53.5" font-size="4.2" fill="#555" text-anchor="middle" transform="rotate(-90 170.5 52.5)">10<tspan font-size="3.15" dy="-2.1">3</tspan></text>
<text x="176" y="116.5" font-size="4.2" fill="#555" text-anchor="middle" transform="rotate(-90 176 115.5)">10<tspan font-size="3.15" dy="-2.1">0</tspan></text>
<text x="195" y="116.5" font-size="4.2" fill="#555" text-anchor="middle" transform="rotate(-90 195 115.5)">10<tspan font-size="3.15" dy="-2.1">1</tspan></text>
<text x="214" y="116.5" font-size="4.2" fill="#555" text-anchor="middle" transform="rotate(-90 214 115.5)">10<tspan font-size="3.15" dy="-2.1">2</tspan></text>
<text x="232" y="116.5" font-size="4.2" fill="#555" text-anchor="middle" transform="rotate(-90 232 115.5)">10<tspan font-size="3.15" dy="-2.1">3</tspan></text>
<text x="275" y="108.5" font-size="4.2" fill="#555" text-anchor="middle" transform="rotate(-90 275 107.5)">10<tspan font-size="3.15" dy="-2.1">0</tspan></text>
<text x="275" y="90" font-size="4.2" fill="#555" text-anchor="middle" transform="rotate(-90 275 89)">10<tspan font-size="3.15" dy="-2.1">1</tspan></text>
<text x="275" y="71" font-size="4.2" fill="#555" text-anchor="middle" transform="rotate(-90 275 70)">10<tspan font-size="3.15" dy="-2.1">2</tspan></text>
<text x="275" y="53.5" font-size="4.2" fill="#555" text-anchor="middle" transform="rotate(-90 275 52.5)">10<tspan font-size="3.15" dy="-2.1">3</tspan></text>
<text x="281.5" y="116" font-size="4.2" fill="#555" text-anchor="middle" transform="rotate(-90 281.5 115)">10<tspan font-size="3.15" dy="-2.1">0</tspan></text>
<text x="299.5" y="116" font-size="4.2" fill="#555" text-anchor="middle" transform="rotate(-90 299.5 115)">10<tspan font-size="3.15" dy="-2.1">1</tspan></text>
<text x="317" y="116" font-size="4.2" fill="#555" text-anchor="middle" transform="rotate(-90 317 115)">10<tspan font-size="3.15" dy="-2.1">2</tspan></text>
<text x="336" y="116" font-size="4.2" fill="#555" text-anchor="middle" transform="rotate(-90 336 115)">10<tspan font-size="3.15" dy="-2.1">3</tspan></text>
<text transform="translate(160.8 75.6) rotate(-90)" font-size="7" text-anchor="middle" fill="#1a1a1a" stroke="#1a1a1a" stroke-width="0.18" textLength="14" lengthAdjust="spacingAndGlyphs">c-kit</text>
<text x="198.5" y="122" font-size="6.7" textLength="16.5" lengthAdjust="spacingAndGlyphs" stroke="#222" stroke-width="0.18">Sca-1</text>
<path d="M158.6 94V122.2H185.5" fill="none" stroke="#000" stroke-width="1.6"/>
<path d="M155.6 95.5L158.6 91L161.6 95.5" fill="none" stroke="#000" stroke-width="1.6"/>
<path d="M184 119.2L188.5 122.2L184 125.2" fill="none" stroke="#000" stroke-width="1.6"/>
<text x="42.4" y="144.5" font-size="7.12" textLength="31.1" lengthAdjust="spacingAndGlyphs" stroke="#222" stroke-width="0.18">LSK gated</text>
<text x="150.5" y="142.3" font-size="6.56" textLength="20.75" lengthAdjust="spacingAndGlyphs" stroke="#222" stroke-width="0.18">Young</text>
<text x="381.25" y="143.6" font-size="6.77" textLength="10" lengthAdjust="spacingAndGlyphs" stroke="#222" stroke-width="0.18">Old</text>
<line x1="80" y1="146.1" x2="245" y2="146.1" stroke="#000" stroke-width="1.5"/>
<line x1="307.5" y1="146.5" x2="463.75" y2="146.5" stroke="#000" stroke-width="1.5"/>
<path d="M102 204L119 184L130 199L122 225Z" fill="#d0d0d0" filter="url(#bl2)" opacity="1"/>
<ellipse cx="119" cy="205" rx="6" ry="12" fill="#999" opacity="1" filter="url(#bl2)"/>
<ellipse cx="120" cy="198" rx="4.5" ry="9" fill="#555" opacity="1" filter="url(#bl15)"/>
<ellipse cx="120" cy="196" rx="3.2" ry="7" fill="#000" opacity="1" filter="url(#bl1)"/>
<rect x="71.75" y="162.5" width="75.75" height="77" fill="none" stroke="#3a3a3a" stroke-width="1.2"/>
<line x1="115.5" y1="162.5" x2="115.5" y2="239.5" stroke="#444" stroke-width="0.9"/>
<line x1="71.75" y1="200.75" x2="147.5" y2="200.75" stroke="#444" stroke-width="0.9"/>
<path d="M115.5 200.75V164.3H146.3V200.75" fill="none" stroke="#555" stroke-width="0.8"/>
<text x="127" y="170.5" font-size="6.63" textLength="16.75" lengthAdjust="spacingAndGlyphs" stroke="#222" stroke-width="0.18">LMPP</text>
<text x="127" y="179.6" font-size="6.7" textLength="19.25" lengthAdjust="spacingAndGlyphs" stroke="#222" stroke-width="0.18">52.4%</text>
<text x="74.25" y="225.7" font-size="6.84" textLength="21.75" lengthAdjust="spacingAndGlyphs" stroke="#222" stroke-width="0.18">LT-HSC</text>
<text x="74.5" y="235.5" font-size="6.56" textLength="14.25" lengthAdjust="spacingAndGlyphs" stroke="#222" stroke-width="0.18">7.6%</text>
<text x="125.5" y="228" font-size="6.63" textLength="22" lengthAdjust="spacingAndGlyphs" stroke="#222" stroke-width="0.18">ST-HSC</text>
<text x="125.5" y="237.8" font-size="6.7" textLength="19.5" lengthAdjust="spacingAndGlyphs" stroke="#222" stroke-width="0.18">31.6%</text>
<text x="65.5" y="231.7" font-size="4.2" fill="#777" text-anchor="middle">10<tspan font-size="3.15" dy="-2.1">1</tspan></text>
<text x="65.5" y="216.7" font-size="4.2" fill="#777" text-anchor="middle">10<tspan font-size="3.15" dy="-2.1">2</tspan></text>
<text x="65.5" y="201.7" font-size="4.2" fill="#777" text-anchor="middle">10<tspan font-size="3.15" dy="-2.1">3</tspan></text>
<text x="65.5" y="186.2" font-size="4.2" fill="#777" text-anchor="middle">10<tspan font-size="3.15" dy="-2.1">4</tspan></text>
<text x="65.5" y="170.7" font-size="4.2" fill="#777" text-anchor="middle">10<tspan font-size="3.15" dy="-2.1">5</tspan></text>
<text x="78.75" y="247.7" font-size="4.2" fill="#777" text-anchor="middle">10<tspan font-size="3.15" dy="-2.1">1</tspan></text>
<text x="95" y="247.7" font-size="4.2" fill="#777" text-anchor="middle">10<tspan font-size="3.15" dy="-2.1">2</tspan></text>
<text x="109.25" y="247.7" font-size="4.2" fill="#777" text-anchor="middle">10<tspan font-size="3.15" dy="-2.1">3</tspan></text>
<text x="123" y="247.7" font-size="4.2" fill="#777" text-anchor="middle">10<tspan font-size="3.15" dy="-2.1">4</tspan></text>
<text x="136.25" y="247.7" font-size="4.2" fill="#777" text-anchor="middle">10<tspan font-size="3.15" dy="-2.1">5</tspan></text>
<text x="98.75" y="158" font-size="6.98" textLength="26.25" lengthAdjust="spacingAndGlyphs" stroke="#222" stroke-width="0.18">Msi2+/+</text>
<path d="M204 206L216 195L226 185L237 191L241 206L237 219L224 223L212 215Z" fill="#cfcfcf" filter="url(#bl2)" opacity="1"/>
<ellipse cx="213" cy="207" rx="8" ry="5.5" fill="#aaa" opacity="1" filter="url(#bl2)"/>
<ellipse cx="228.5" cy="193" rx="4.5" ry="7.5" fill="#555" opacity="1" filter="url(#bl2)"/>
<ellipse cx="226.5" cy="204" rx="8" ry="8" fill="#444" opacity="1" filter="url(#bl2)"/>
<ellipse cx="226.5" cy="203.5" rx="5" ry="5.5" fill="#000" opacity="1" filter="url(#bl15)"/>
<ellipse cx="224.5" cy="237.2" rx="10" ry="1.1" fill="#111" opacity="1" filter="url(#bl1)"/>
<rect x="178.75" y="161.25" width="75" height="76.75" fill="none" stroke="#3a3a3a" stroke-width="1.2"/>
<line x1="222.5" y1="161.25" x2="222.5" y2="238" stroke="#444" stroke-width="0.9"/>
<line x1="178.75" y1="200.5" x2="253.75" y2="200.5" stroke="#444" stroke-width="0.9"/>
<text x="232" y="169.5" font-size="6.28" textLength="16.75" lengthAdjust="spacingAndGlyphs" stroke="#222" stroke-width="0.18">LMPP</text>
<text x="232" y="179.25" font-size="6.98" textLength="19.25" lengthAdjust="spacingAndGlyphs" stroke="#222" stroke-width="0.18">18.7%</text>
<text x="180" y="225.2" font-size="6.56" textLength="23.75" lengthAdjust="spacingAndGlyphs" stroke="#222" stroke-width="0.18">LT-HSC</text>
<text x="180.5" y="234.6" font-size="6.42" textLength="18.25" lengthAdjust="spacingAndGlyphs" stroke="#222" stroke-width="0.18">21.4%</text>
<text x="231.25" y="226.2" font-size="6.7" textLength="22" lengthAdjust="spacingAndGlyphs" stroke="#222" stroke-width="0.18">ST-HSC</text>
<text x="231.25" y="236.2" font-size="6.7" textLength="18.25" lengthAdjust="spacingAndGlyphs" stroke="#222" stroke-width="0.18">55.8%</text>
<text x="171.5" y="231.2" font-size="4.2" fill="#777" text-anchor="middle">10<tspan font-size="3.15" dy="-2.1">1</tspan></text>
<text x="171.5" y="215.7" font-size="4.2" fill="#777" text-anchor="middle">10<tspan font-size="3.15" dy="-2.1">2</tspan></text>
<text x="171.5" y="200.45" font-size="4.2" fill="#777" text-anchor="middle">10<tspan font-size="3.15" dy="-2.1">3</tspan></text>
<text x="171.5" y="184.2" font-size="4.2" fill="#777" text-anchor="middle">10<tspan font-size="3.15" dy="-2.1">4</tspan></text>
<text x="171.5" y="168.2" font-size="4.2" fill="#777" text-anchor="middle">10<tspan font-size="3.15" dy="-2.1">5</tspan></text>
<text x="187.5" y="248.2" font-size="4.2" fill="#777" text-anchor="middle">10<tspan font-size="3.15" dy="-2.1">1</tspan></text>
<text x="201.25" y="248.2" font-size="4.2" fill="#777" text-anchor="middle">10<tspan font-size="3.15" dy="-2.1">2</tspan></text>
<text x="215.5" y="248.2" font-size="4.2" fill="#777" text-anchor="middle">10<tspan font-size="3.15" dy="-2.1">3</tspan></text>
<text x="229.5" y="248.2" font-size="4.2" fill="#777" text-anchor="middle">10<tspan font-size="3.15" dy="-2.1">4</tspan></text>
<text x="243.75" y="248.2" font-size="4.2" fill="#777" text-anchor="middle">10<tspan font-size="3.15" dy="-2.1">5</tspan></text>
<text x="202" y="157.6" font-size="6.98" textLength="31.75" lengthAdjust="spacingAndGlyphs" stroke="#222" stroke-width="0.18">Msi2Gt/Gt</text>
<path d="M324 214L342 190L357 195L356 214L344 233L335 232Z" fill="#c8c8c8" filter="url(#bl2)" opacity="1"/>
<ellipse cx="339" cy="215" rx="7" ry="13" fill="#a0a0a0" opacity="1" filter="url(#bl2)" transform="rotate(30 339 215)"/>
<ellipse cx="346.5" cy="205" rx="5" ry="12" fill="#555" opacity="1" filter="url(#bl15)" transform="rotate(18 346.5 205)"/>
<ellipse cx="347.5" cy="203.5" rx="3.4" ry="9.5" fill="#000" opacity="1" filter="url(#bl1)" transform="rotate(15 347.5 203.5)"/>
<ellipse cx="334" cy="237.2" rx="15" ry="1.1" fill="#111" opacity="1" filter="url(#bl1)"/>
<rect x="303" y="162" width="74.5" height="76" fill="none" stroke="#3a3a3a" stroke-width="1.2"/>
<line x1="345.5" y1="162" x2="345.5" y2="238" stroke="#444" stroke-width="0.9"/>
<line x1="303" y1="204.25" x2="377.5" y2="204.25" stroke="#444" stroke-width="0.9"/>
<path d="M345.5 204.25V167H376.25V204.25" fill="none" stroke="#555" stroke-width="0.8"/>
<text x="354.5" y="171.5" font-size="6.28" textLength="16.75" lengthAdjust="spacingAndGlyphs" stroke="#222" stroke-width="0.18">LMPP</text>
<text x="354.5" y="179.6" font-size="6.42" textLength="19.25" lengthAdjust="spacingAndGlyphs" stroke="#222" stroke-width="0.18">22.6%</text>
<text x="307.5" y="227.1" font-size="6.42" textLength="20.5" lengthAdjust="spacingAndGlyphs" stroke="#222" stroke-width="0.18">LT-HSC</text>
<text x="307" y="235.2" font-size="6.42" textLength="18.5" lengthAdjust="spacingAndGlyphs" stroke="#222" stroke-width="0.18">40.2%</text>
<text x="354.5" y="228.4" font-size="6.49" textLength="23" lengthAdjust="spacingAndGlyphs" stroke="#222" stroke-width="0.18">ST-HSC</text>
<text x="354.5" y="238" font-size="6.28" textLength="19.25" lengthAdjust="spacingAndGlyphs" stroke="#222" stroke-width="0.18">33.6%</text>
<text x="297.5" y="231.2" font-size="4.2" fill="#777" text-anchor="middle">10<tspan font-size="3.15" dy="-2.1">1</tspan></text>
<text x="297.5" y="216.2" font-size="4.2" fill="#777" text-anchor="middle">10<tspan font-size="3.15" dy="-2.1">2</tspan></text>
<text x="297.5" y="200.7" font-size="4.2" fill="#777" text-anchor="middle">10<tspan font-size="3.15" dy="-2.1">3</tspan></text>
<text x="297.5" y="184.95" font-size="4.2" fill="#777" text-anchor="middle">10<tspan font-size="3.15" dy="-2.1">4</tspan></text>
<text x="297.5" y="169.95" font-size="4.2" fill="#777" text-anchor="middle">10<tspan font-size="3.15" dy="-2.1">5</tspan></text>
<text x="312.5" y="246.7" font-size="4.2" fill="#777" text-anchor="middle">10<tspan font-size="3.15" dy="-2.1">1</tspan></text>
<text x="326.25" y="246.7" font-size="4.2" fill="#777" text-anchor="middle">10<tspan font-size="3.15" dy="-2.1">2</tspan></text>
<text x="340" y="246.7" font-size="4.2" fill="#777" text-anchor="middle">10<tspan font-size="3.15" dy="-2.1">3</tspan></text>
<text x="353.75" y="246.7" font-size="4.2" fill="#777" text-anchor="middle">10<tspan font-size="3.15" dy="-2.1">4</tspan></text>
<text x="367.5" y="246.7" font-size="4.2" fill="#777" text-anchor="middle">10<tspan font-size="3.15" dy="-2.1">5</tspan></text>
<text x="330" y="159.7" font-size="6.56" textLength="25" lengthAdjust="spacingAndGlyphs" stroke="#222" stroke-width="0.18">Msi2+/+</text>
<path d="M421 209L440 194L455 189L465 200L459 219L440 228L427 219Z" fill="#d0d0d0" filter="url(#bl2)" opacity="1"/>
<ellipse cx="443" cy="211" rx="11" ry="7" fill="#999" opacity="1" filter="url(#bl2)" transform="rotate(-30 443 211)"/>
<ellipse cx="454" cy="196" rx="4.5" ry="7" fill="#666" opacity="1" filter="url(#bl2)"/>
<ellipse cx="450" cy="205" rx="8" ry="5.5" fill="#444" opacity="1" filter="url(#bl15)" transform="rotate(-40 450 205)"/>
<ellipse cx="450.5" cy="204.5" rx="5.5" ry="3.5" fill="#000" opacity="1" filter="url(#bl1)" transform="rotate(-40 450.5 204.5)"/>
<ellipse cx="445" cy="237.2" rx="11" ry="1.1" fill="#111" opacity="1" filter="url(#bl1)"/>
<rect x="406.25" y="161.25" width="75.75" height="76.75" fill="none" stroke="#3a3a3a" stroke-width="1.2"/>
<line x1="448.75" y1="161.25" x2="448.75" y2="238" stroke="#444" stroke-width="0.9"/>
<line x1="406.25" y1="204.25" x2="482" y2="204.25" stroke="#444" stroke-width="0.9"/>
<path d="M448.75 204.25V167H479.5V204.25" fill="none" stroke="#555" stroke-width="0.8"/>
<text x="459.5" y="172" font-size="6.28" textLength="16.75" lengthAdjust="spacingAndGlyphs" stroke="#222" stroke-width="0.18">LMPP</text>
<text x="459.5" y="179.8" font-size="6.7" textLength="18.5" lengthAdjust="spacingAndGlyphs" stroke="#222" stroke-width="0.18">15.8%</text>
<text x="409.5" y="226.2" font-size="6.7" textLength="21.75" lengthAdjust="spacingAndGlyphs" stroke="#222" stroke-width="0.18">LT-HSC</text>
<text x="408.75" y="234.6" font-size="6.42" textLength="20" lengthAdjust="spacingAndGlyphs" stroke="#222" stroke-width="0.18">'45.5%</text>
<text x="457" y="227.4" font-size="6.7" textLength="23" lengthAdjust="spacingAndGlyphs" stroke="#222" stroke-width="0.18">ST-HSC</text>
<text x="457.5" y="235.4" font-size="6.42" textLength="18.75" lengthAdjust="spacingAndGlyphs" stroke="#222" stroke-width="0.18">35.5%</text>
<text x="399" y="231.2" font-size="4.2" fill="#777" text-anchor="middle">10<tspan font-size="3.15" dy="-2.1">1</tspan></text>
<text x="399" y="216.2" font-size="4.2" fill="#777" text-anchor="middle">10<tspan font-size="3.15" dy="-2.1">2</tspan></text>
<text x="399" y="200.7" font-size="4.2" fill="#777" text-anchor="middle">10<tspan font-size="3.15" dy="-2.1">3</tspan></text>
<text x="399" y="184.95" font-size="4.2" fill="#777" text-anchor="middle">10<tspan font-size="3.15" dy="-2.1">4</tspan></text>
<text x="399" y="169.95" font-size="4.2" fill="#777" text-anchor="middle">10<tspan font-size="3.15" dy="-2.1">5</tspan></text>
<text x="414.5" y="246.7" font-size="4.2" fill="#777" text-anchor="middle">10<tspan font-size="3.15" dy="-2.1">1</tspan></text>
<text x="428.75" y="246.7" font-size="4.2" fill="#777" text-anchor="middle">10<tspan font-size="3.15" dy="-2.1">2</tspan></text>
<text x="444.5" y="246.7" font-size="4.2" fill="#777" text-anchor="middle">10<tspan font-size="3.15" dy="-2.1">3</tspan></text>
<text x="458.75" y="246.7" font-size="4.2" fill="#777" text-anchor="middle">10<tspan font-size="3.15" dy="-2.1">4</tspan></text>
<text x="472.5" y="246.7" font-size="4.2" fill="#777" text-anchor="middle">10<tspan font-size="3.15" dy="-2.1">5</tspan></text>
<text x="432.5" y="160" font-size="6.98" textLength="31.25" lengthAdjust="spacingAndGlyphs" stroke="#222" stroke-width="0.18">Msi2Gt/Gt</text>
<line x1="59.5" y1="166.5" x2="59.5" y2="233.4" stroke="#333" stroke-width="1.3"/>
<path d="M57.5 167L59.5 163.5L61.5 167Z" fill="#111"/>
<line x1="288" y1="164.25" x2="288" y2="232.5" stroke="#333" stroke-width="1.3"/>
<path d="M286 164.75L288 161.25L290 164.75Z" fill="#111"/>
<text transform="translate(62 245.8) rotate(-90)" font-size="6.8" text-anchor="middle" fill="#222" stroke="#222" stroke-width="0.18" textLength="11" lengthAdjust="spacingAndGlyphs">Flt3</text>
<text transform="translate(290.6 243) rotate(-90)" font-size="6.8" text-anchor="middle" fill="#222" stroke="#222" stroke-width="0.18" textLength="11" lengthAdjust="spacingAndGlyphs">Flt3</text>
<text x="76.8" y="257.7" font-size="6.56" textLength="16.8" lengthAdjust="spacingAndGlyphs" stroke="#222" stroke-width="0.18">CD34</text>
<line x1="97.5" y1="255.4" x2="200.75" y2="255.4" stroke="#000" stroke-width="1.4"/>
<path d="M199.75 253.4L203.75 255.4L199.75 257.4Z" fill="#000"/>
<text x="303.75" y="256.2" font-size="6.7" textLength="17.5" lengthAdjust="spacingAndGlyphs" stroke="#222" stroke-width="0.18">CD34</text>
<line x1="327" y1="253.75" x2="430.75" y2="253.75" stroke="#000" stroke-width="1.4"/>
<path d="M429.75 251.75L433.75 253.75L429.75 255.75Z" fill="#000"/>
</svg></body></html>
